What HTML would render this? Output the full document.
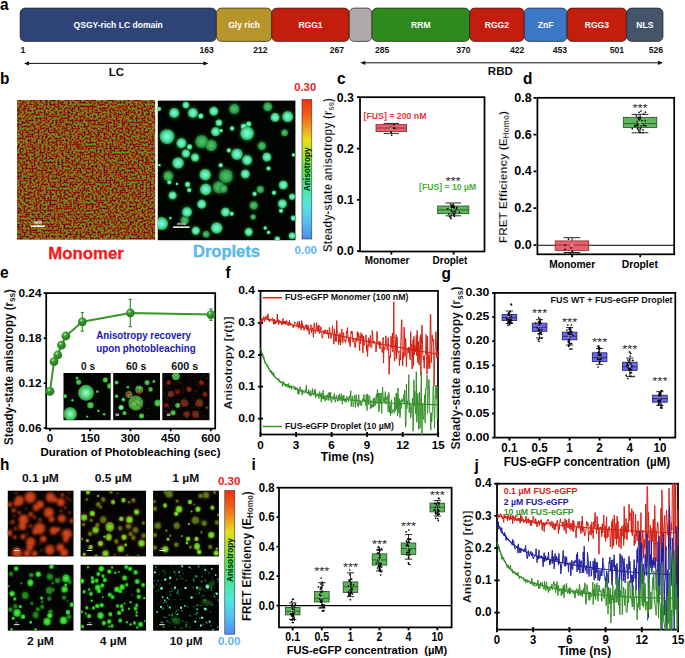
<!DOCTYPE html>
<html><head><meta charset="utf-8"><title>figure</title>
<style>html,body{margin:0;padding:0;background:#fff}svg{display:block}text{font-family:"Liberation Sans",sans-serif}</style>
</head><body>
<svg width="685" height="658" viewBox="0 0 685 658">
<defs><filter id="mono" x="0" y="0" width="100%" height="100%" color-interpolation-filters="sRGB"><feTurbulence type="fractalNoise" baseFrequency="0.5" numOctaves="2" seed="5"/><feColorMatrix values="1 0 0 0 0 1 0 0 0 0 1 0 0 0 0 0 0 0 0 1"/><feComponentTransfer><feFuncR type="discrete" tableValues="0.3 0.3 0.32 0.36 0.42 0.5 0.56 0.6 0.58 0.48 0.36 0.3 0.26 0.22 0.2 0.2"/><feFuncG type="discrete" tableValues="0.02 0.02 0.03 0.03 0.04 0.05 0.06 0.12 0.34 0.54 0.62 0.6 0.54 0.48 0.42 0.4"/><feFuncB type="discrete" tableValues="0.03 0.03 0.03 0.03 0.04 0.05 0.05 0.06 0.08 0.1 0.1 0.1 0.1 0.1 0.1 0.1"/><feFuncA type="linear" slope="0" intercept="1"/></feComponentTransfer><feGaussianBlur stdDeviation="0.55"/></filter>
<filter id="bl1" x="-20%" y="-20%" width="140%" height="140%"><feGaussianBlur stdDeviation="0.9"/></filter>
<filter id="bl2" x="-20%" y="-20%" width="140%" height="140%"><feGaussianBlur stdDeviation="0.65"/></filter>
<linearGradient id="jet" x1="0" y1="0" x2="0" y2="1"><stop offset="0" stop-color="#F03010"/><stop offset="0.1" stop-color="#F05A14"/><stop offset="0.2" stop-color="#F09A1E"/><stop offset="0.29" stop-color="#E8DC1E"/><stop offset="0.39" stop-color="#A8E628"/><stop offset="0.5" stop-color="#5AE650"/><stop offset="0.62" stop-color="#46E696"/><stop offset="0.76" stop-color="#50E6E0"/><stop offset="0.88" stop-color="#58BEF0"/><stop offset="1" stop-color="#4C8CE8"/></linearGradient>
<radialGradient id="dg"><stop offset="0" stop-color="#80F8E0"/><stop offset="0.5" stop-color="#5CE8B8"/><stop offset="0.85" stop-color="#38BC68"/><stop offset="1" stop-color="#2A9A44"/></radialGradient>
<radialGradient id="dg2"><stop offset="0" stop-color="#4CC870"/><stop offset="0.6" stop-color="#36A850"/><stop offset="1" stop-color="#1E7A30"/></radialGradient>
<clipPath id="cpb2"><rect x="157.8" y="100.6" width="137.6" height="139.6"/></clipPath>
<clipPath id="cpb1"><rect x="17.1" y="100" width="138" height="139.4"/></clipPath>
<radialGradient id="sph" cx="0.38" cy="0.32" r="0.75"><stop offset="0" stop-color="#D8F4D0"/><stop offset="0.22" stop-color="#4CA842"/><stop offset="0.5" stop-color="#2E8C26"/><stop offset="1" stop-color="#247A20"/></radialGradient>
<radialGradient id="gg"><stop offset="0" stop-color="#A8F8D0"/><stop offset="0.45" stop-color="#62E090"/><stop offset="1" stop-color="#2C9A34"/></radialGradient>
<radialGradient id="g2"><stop offset="0" stop-color="#5FE060"/><stop offset="1" stop-color="#2E9A30"/></radialGradient>
<radialGradient id="g3"><stop offset="0" stop-color="#4A5A24"/><stop offset="1" stop-color="#3A2A14"/></radialGradient>
<clipPath id="cpe1"><rect x="63.5" y="373" width="47.2" height="47.2"/></clipPath>
<clipPath id="cpe2"><rect x="113.2" y="373" width="46.8" height="47.2"/></clipPath>
<clipPath id="cpe3"><rect x="162.3" y="373" width="47.2" height="47.2"/></clipPath>
<clipPath id="cpf"><rect x="260.0" y="290.4" width="178.9" height="144.9"/></clipPath>
<radialGradient id="hr"><stop offset="0" stop-color="#DC4A1C"/><stop offset="0.6" stop-color="#C23614"/><stop offset="1" stop-color="#7A1A08"/></radialGradient>
<radialGradient id="hy"><stop offset="0" stop-color="#74D428"/><stop offset="0.55" stop-color="#62B422"/><stop offset="1" stop-color="#7A4A14"/></radialGradient>
<radialGradient id="hy3"><stop offset="0" stop-color="#80D428"/><stop offset="0.6" stop-color="#5EA622"/><stop offset="1" stop-color="#4A4A12"/></radialGradient>
<radialGradient id="hg"><stop offset="0" stop-color="#48E838"/><stop offset="0.6" stop-color="#34C828"/><stop offset="1" stop-color="#1E8A1A"/></radialGradient>
<radialGradient id="hc"><stop offset="0" stop-color="#8CF0E0"/><stop offset="0.6" stop-color="#50C8A8"/><stop offset="1" stop-color="#2A8A50"/></radialGradient>
<filter id="bl3" x="-20%" y="-20%" width="140%" height="140%"><feGaussianBlur stdDeviation="0.75"/></filter>
<filter id="bl5" x="-20%" y="-20%" width="140%" height="140%"><feGaussianBlur stdDeviation="1.1"/></filter>
<filter id="bl4" x="-20%" y="-20%" width="140%" height="140%"><feGaussianBlur stdDeviation="0.45"/></filter>
<clipPath id="cph1"><rect x="7.8" y="490.7" width="65.7" height="65.7"/></clipPath>
<clipPath id="cph2"><rect x="80.6" y="490.7" width="65.4" height="65.7"/></clipPath>
<clipPath id="cph3"><rect x="153.1" y="490.7" width="65.8" height="65.7"/></clipPath>
<clipPath id="cph4"><rect x="7.8" y="564.8" width="65.7" height="65.8"/></clipPath>
<clipPath id="cph5"><rect x="80.6" y="564.8" width="65.4" height="65.8"/></clipPath>
<clipPath id="cph6"><rect x="153.1" y="564.8" width="65.8" height="65.9"/></clipPath>
<clipPath id="cpj"><rect x="496.5" y="483.2" width="182.4" height="147.2"/></clipPath></defs>
<rect width="685" height="658" fill="#fff"/>
<text x="0.0" y="9.5" font-size="17.2" textLength="8.6" lengthAdjust="spacingAndGlyphs" font-weight="bold">a</text>
<text x="0.0" y="84.0" font-size="17.2" textLength="9.4" lengthAdjust="spacingAndGlyphs" font-weight="bold">b</text>
<text x="337.0" y="83.5" font-size="17.2" textLength="8.6" lengthAdjust="spacingAndGlyphs" font-weight="bold">c</text>
<text x="523.0" y="83.5" font-size="17.2" textLength="9.4" lengthAdjust="spacingAndGlyphs" font-weight="bold">d</text>
<text x="0.0" y="277.8" font-size="17.2" textLength="8.6" lengthAdjust="spacingAndGlyphs" font-weight="bold">e</text>
<text x="225.5" y="278.4" font-size="17.2" textLength="5.1" lengthAdjust="spacingAndGlyphs" font-weight="bold">f</text>
<text x="441.6" y="278.6" font-size="17.2" textLength="9.4" lengthAdjust="spacingAndGlyphs" font-weight="bold">g</text>
<text x="0.0" y="470.4" font-size="17.2" textLength="9.4" lengthAdjust="spacingAndGlyphs" font-weight="bold">h</text>
<text x="251.6" y="470.4" font-size="17.2" textLength="4.3" lengthAdjust="spacingAndGlyphs" font-weight="bold">i</text>
<text x="474.6" y="471.2" font-size="17.2" textLength="4.3" lengthAdjust="spacingAndGlyphs" font-weight="bold">j</text>
<rect x="20.1" y="8.1" width="196.3" height="33.3" rx="5" fill="#2E4477" stroke="#222" stroke-width="0.7"/>
<text x="118.2" y="28.1" font-size="9.2" text-anchor="middle" textLength="89.3" lengthAdjust="spacingAndGlyphs" font-weight="bold" fill="#fff">QSGY-rich LC domain</text>
<rect x="216.4" y="8.1" width="55.3" height="33.3" rx="5" fill="#B7952B" stroke="#222" stroke-width="0.7"/>
<text x="244.1" y="28.1" font-size="9.2" text-anchor="middle" textLength="31.8" lengthAdjust="spacingAndGlyphs" font-weight="bold" fill="#fff">Gly rich</text>
<rect x="271.7" y="8.1" width="77.6" height="33.3" rx="5" fill="#C31D0D" stroke="#222" stroke-width="0.7"/>
<text x="310.5" y="28.1" font-size="9.2" text-anchor="middle" textLength="24.2" lengthAdjust="spacingAndGlyphs" font-weight="bold" fill="#fff">RGG1</text>
<rect x="349.3" y="8.1" width="22.7" height="33.3" rx="5" fill="#AEAAAA" stroke="#222" stroke-width="0.7"/>
<rect x="372.0" y="8.1" width="97.6" height="33.3" rx="5" fill="#2E8A1C" stroke="#222" stroke-width="0.7"/>
<text x="420.8" y="28.1" font-size="9.2" text-anchor="middle" textLength="19.5" lengthAdjust="spacingAndGlyphs" font-weight="bold" fill="#fff">RRM</text>
<rect x="469.6" y="8.1" width="54.7" height="33.3" rx="5" fill="#C31D0D" stroke="#222" stroke-width="0.7"/>
<text x="496.9" y="28.1" font-size="9.2" text-anchor="middle" textLength="24.2" lengthAdjust="spacingAndGlyphs" font-weight="bold" fill="#fff">RGG2</text>
<rect x="524.3" y="8.1" width="42.7" height="33.3" rx="5" fill="#3C78C6" stroke="#222" stroke-width="0.7"/>
<text x="545.6" y="28.1" font-size="9.2" text-anchor="middle" textLength="15.7" lengthAdjust="spacingAndGlyphs" font-weight="bold" fill="#fff">ZnF</text>
<rect x="567.0" y="8.1" width="59.7" height="33.3" rx="5" fill="#C31D0D" stroke="#222" stroke-width="0.7"/>
<text x="596.9" y="28.1" font-size="9.2" text-anchor="middle" textLength="24.2" lengthAdjust="spacingAndGlyphs" font-weight="bold" fill="#fff">RGG3</text>
<rect x="626.7" y="8.1" width="36.3" height="33.3" rx="5" fill="#44546A" stroke="#222" stroke-width="0.7"/>
<text x="644.9" y="28.1" font-size="9.2" text-anchor="middle" textLength="17.1" lengthAdjust="spacingAndGlyphs" font-weight="bold" fill="#fff">NLS</text>
<text x="23.0" y="53.3" font-size="8.9" text-anchor="middle" textLength="4.8" lengthAdjust="spacingAndGlyphs" font-weight="bold" fill="#111">1</text>
<text x="206.7" y="53.3" font-size="8.9" text-anchor="middle" textLength="14.3" lengthAdjust="spacingAndGlyphs" font-weight="bold" fill="#111">163</text>
<text x="260.3" y="53.3" font-size="8.9" text-anchor="middle" textLength="14.3" lengthAdjust="spacingAndGlyphs" font-weight="bold" fill="#111">212</text>
<text x="337.0" y="53.3" font-size="8.9" text-anchor="middle" textLength="14.3" lengthAdjust="spacingAndGlyphs" font-weight="bold" fill="#111">267</text>
<text x="382.2" y="53.3" font-size="8.9" text-anchor="middle" textLength="14.3" lengthAdjust="spacingAndGlyphs" font-weight="bold" fill="#111">285</text>
<text x="463.3" y="53.3" font-size="8.9" text-anchor="middle" textLength="14.3" lengthAdjust="spacingAndGlyphs" font-weight="bold" fill="#111">370</text>
<text x="517.2" y="53.3" font-size="8.9" text-anchor="middle" textLength="14.3" lengthAdjust="spacingAndGlyphs" font-weight="bold" fill="#111">422</text>
<text x="560.0" y="53.3" font-size="8.9" text-anchor="middle" textLength="14.3" lengthAdjust="spacingAndGlyphs" font-weight="bold" fill="#111">453</text>
<text x="616.8" y="53.3" font-size="8.9" text-anchor="middle" textLength="14.3" lengthAdjust="spacingAndGlyphs" font-weight="bold" fill="#111">501</text>
<text x="655.8" y="53.3" font-size="8.9" text-anchor="middle" textLength="14.3" lengthAdjust="spacingAndGlyphs" font-weight="bold" fill="#111">526</text>
<path d="M27.0 63.4H205.4" stroke="#111" stroke-width="1" fill="none"/>
<path d="M24.0 63.4l5 -2.1v4.2z M208.4 63.4l-5 -2.1v4.2z" fill="#111"/>
<path d="M363.3 62.8H660.0" stroke="#111" stroke-width="1" fill="none"/>
<path d="M360.3 62.8l5 -2.1v4.2z M663.0 62.8l-5 -2.1v4.2z" fill="#111"/>
<text x="116.3" y="75.6" font-size="11.5" text-anchor="middle" font-weight="bold" fill="#111">LC</text>
<text x="500.3" y="75.4" font-size="11.5" text-anchor="middle" font-weight="bold" fill="#111">RBD</text>
<rect x="17.1" y="100" width="138" height="139.4" fill="#7a5a18"/>
<g clip-path="url(#cpb1)"><rect x="14" y="97" width="144" height="145" filter="url(#mono)"/></g>
<rect x="31" y="225.4" width="13.8" height="1.6" fill="#fff"/>
<rect x="34" y="221.2" width="8" height="2.6" fill="#e8d8c0" opacity="0.8"/>
<text x="86.0" y="258.8" font-size="16.6" text-anchor="middle" textLength="75.6" lengthAdjust="spacingAndGlyphs" font-weight="bold" fill="#F41C1C" stroke="#F41C1C" stroke-width="0.35">Monomer</text>
<rect x="157.8" y="100.6" width="137.6" height="139.6" fill="#020402"/>
<g clip-path="url(#cpb2)">
<path d="M168.1 113.0a6.1 6.1 0 1 0 12.1 0a6.1 6.1 0 1 0 -12.1 0M186.8 113.0a6.1 6.1 0 1 0 12.1 0a6.1 6.1 0 1 0 -12.1 0M181.7 105.1a4.1 4.1 0 1 0 8.3 0a4.1 4.1 0 1 0 -8.3 0M197.5 116.1a3.3 3.3 0 1 0 6.6 0a3.3 3.3 0 1 0 -6.6 0M208.3 111.2a5.5 5.5 0 1 0 11.0 0a5.5 5.5 0 1 0 -11.0 0M214.8 122.7a4.1 4.1 0 1 0 8.3 0a4.1 4.1 0 1 0 -8.3 0M228.3 109.0a6.1 6.1 0 1 0 12.1 0a6.1 6.1 0 1 0 -12.1 0M262.3 106.8a5.5 5.5 0 1 0 11.0 0a5.5 5.5 0 1 0 -11.0 0M269.6 117.4a5.5 5.5 0 1 0 11.0 0a5.5 5.5 0 1 0 -11.0 0M281.0 116.7a6.6 6.6 0 1 0 13.2 0a6.6 6.6 0 1 0 -13.2 0M239.9 126.6a3.9 3.9 0 1 0 7.7 0a3.9 3.9 0 1 0 -7.7 0M245.3 124.0a3.3 3.3 0 1 0 6.6 0a3.3 3.3 0 1 0 -6.6 0M156.2 109.0a2.8 2.8 0 1 0 5.5 0a2.8 2.8 0 1 0 -5.5 0M158.3 136.6a8.8 8.8 0 1 0 17.6 0a8.8 8.8 0 1 0 -17.6 0M210.1 131.7a5.5 5.5 0 1 0 11.0 0a5.5 5.5 0 1 0 -11.0 0M218.9 130.6a2.2 2.2 0 1 0 4.4 0a2.2 2.2 0 1 0 -4.4 0M238.8 133.3a8.3 8.3 0 1 0 16.5 0a8.3 8.3 0 1 0 -16.5 0M229.4 128.4a2.8 2.8 0 1 0 5.5 0a2.8 2.8 0 1 0 -5.5 0M175.4 143.2a6.1 6.1 0 1 0 12.1 0a6.1 6.1 0 1 0 -12.1 0M194.0 141.6a7.7 7.7 0 1 0 15.4 0a7.7 7.7 0 1 0 -15.4 0M204.3 145.4a6.9 6.9 0 1 0 13.8 0a6.9 6.9 0 1 0 -13.8 0M186.3 146.9a3.3 3.3 0 1 0 6.6 0a3.3 3.3 0 1 0 -6.6 0M180.9 153.5a5.0 5.0 0 1 0 9.9 0a5.0 5.0 0 1 0 -9.9 0M256.9 146.0a5.0 5.0 0 1 0 9.9 0a5.0 5.0 0 1 0 -9.9 0M280.4 132.8a4.1 4.1 0 1 0 8.3 0a4.1 4.1 0 1 0 -8.3 0M226.1 150.4a2.8 2.8 0 1 0 5.5 0a2.8 2.8 0 1 0 -5.5 0M190.1 157.5a5.0 5.0 0 1 0 9.9 0a5.0 5.0 0 1 0 -9.9 0M230.1 154.2a6.9 6.9 0 1 0 13.8 0a6.9 6.9 0 1 0 -13.8 0M241.1 160.1a6.1 6.1 0 1 0 12.1 0a6.1 6.1 0 1 0 -12.1 0M261.4 157.1a5.5 5.5 0 1 0 11.0 0a5.5 5.5 0 1 0 -11.0 0M171.3 163.0a6.9 6.9 0 1 0 13.8 0a6.9 6.9 0 1 0 -13.8 0M291.2 154.9a2.2 2.2 0 1 0 4.4 0a2.2 2.2 0 1 0 -4.4 0M217.9 165.2a2.8 2.8 0 1 0 5.5 0a2.8 2.8 0 1 0 -5.5 0M265.7 168.5a2.8 2.8 0 1 0 5.5 0a2.8 2.8 0 1 0 -5.5 0M162.2 176.2a6.1 6.1 0 1 0 12.1 0a6.1 6.1 0 1 0 -12.1 0M166.6 182.2a2.8 2.8 0 1 0 5.5 0a2.8 2.8 0 1 0 -5.5 0M198.4 174.7a6.9 6.9 0 1 0 13.8 0a6.9 6.9 0 1 0 -13.8 0M217.7 176.2a8.3 8.3 0 1 0 16.5 0a8.3 8.3 0 1 0 -16.5 0M239.8 174.0a5.5 5.5 0 1 0 11.0 0a5.5 5.5 0 1 0 -11.0 0M157.8 165.2a1.7 1.7 0 1 0 3.3 0a1.7 1.7 0 1 0 -3.3 0M184.3 184.4a3.3 3.3 0 1 0 6.6 0a3.3 3.3 0 1 0 -6.6 0M186.4 190.1a2.8 2.8 0 1 0 5.5 0a2.8 2.8 0 1 0 -5.5 0M198.8 189.4a6.9 6.9 0 1 0 13.8 0a6.9 6.9 0 1 0 -13.8 0M211.7 187.2a7.2 7.2 0 1 0 14.3 0a7.2 7.2 0 1 0 -14.3 0M218.4 188.8a5.0 5.0 0 1 0 9.9 0a5.0 5.0 0 1 0 -9.9 0M277.7 185.0a5.5 5.5 0 1 0 11.0 0a5.5 5.5 0 1 0 -11.0 0M255.9 189.4a4.4 4.4 0 1 0 8.8 0a4.4 4.4 0 1 0 -8.8 0M167.7 195.4a5.0 5.0 0 1 0 9.9 0a5.0 5.0 0 1 0 -9.9 0M251.8 193.9a2.8 2.8 0 1 0 5.5 0a2.8 2.8 0 1 0 -5.5 0M271.2 192.8a2.8 2.8 0 1 0 5.5 0a2.8 2.8 0 1 0 -5.5 0M288.2 196.7a3.9 3.9 0 1 0 7.7 0a3.9 3.9 0 1 0 -7.7 0M175.4 183.9a1.7 1.7 0 1 0 3.3 0a1.7 1.7 0 1 0 -3.3 0M196.2 204.2a5.5 5.5 0 1 0 11.0 0a5.5 5.5 0 1 0 -11.0 0M276.9 203.8a5.5 5.5 0 1 0 11.0 0a5.5 5.5 0 1 0 -11.0 0M248.8 205.5a5.0 5.0 0 1 0 9.9 0a5.0 5.0 0 1 0 -9.9 0M180.9 212.1a6.1 6.1 0 1 0 12.1 0a6.1 6.1 0 1 0 -12.1 0M220.0 212.1a5.5 5.5 0 1 0 11.0 0a5.5 5.5 0 1 0 -11.0 0M228.9 213.7a2.8 2.8 0 1 0 5.5 0a2.8 2.8 0 1 0 -5.5 0M278.3 210.8a2.8 2.8 0 1 0 5.5 0a2.8 2.8 0 1 0 -5.5 0M249.8 217.0a3.3 3.3 0 1 0 6.6 0a3.3 3.3 0 1 0 -6.6 0M153.9 223.6a7.7 7.7 0 1 0 15.4 0a7.7 7.7 0 1 0 -15.4 0M179.8 220.3a5.0 5.0 0 1 0 9.9 0a5.0 5.0 0 1 0 -9.9 0M290.1 218.1a3.3 3.3 0 1 0 6.6 0a3.3 3.3 0 1 0 -6.6 0M209.8 228.0a6.9 6.9 0 1 0 13.8 0a6.9 6.9 0 1 0 -13.8 0M190.8 230.7a5.0 5.0 0 1 0 9.9 0a5.0 5.0 0 1 0 -9.9 0M243.7 232.0a5.0 5.0 0 1 0 9.9 0a5.0 5.0 0 1 0 -9.9 0M202.0 234.2a4.1 4.1 0 1 0 8.3 0a4.1 4.1 0 1 0 -8.3 0M263.0 228.0a2.2 2.2 0 1 0 4.4 0a2.2 2.2 0 1 0 -4.4 0M266.3 232.4a2.2 2.2 0 1 0 4.4 0a2.2 2.2 0 1 0 -4.4 0M287.9 235.7a4.1 4.1 0 1 0 8.3 0a4.1 4.1 0 1 0 -8.3 0M274.0 239.0a3.3 3.3 0 1 0 6.6 0a3.3 3.3 0 1 0 -6.6 0M168.8 218.1a1.7 1.7 0 1 0 3.3 0a1.7 1.7 0 1 0 -3.3 0" fill="#1A6A2A" opacity="0.5" filter="url(#bl5)"/>
<g filter="url(#bl2)">
<circle cx="174.2" cy="113.0" r="5.1" fill="url(#dg)"/>
<circle cx="192.9" cy="113.0" r="5.1" fill="url(#dg)"/>
<circle cx="185.9" cy="105.1" r="3.5" fill="url(#dg)"/>
<circle cx="200.8" cy="116.1" r="2.8" fill="url(#dg)"/>
<circle cx="213.8" cy="111.2" r="4.6" fill="url(#dg)"/>
<circle cx="218.9" cy="122.7" r="3.5" fill="url(#dg)"/>
<circle cx="234.3" cy="109.0" r="5.1" fill="url(#dg2)"/>
<circle cx="267.8" cy="106.8" r="4.6" fill="url(#dg2)"/>
<circle cx="275.1" cy="117.4" r="4.6" fill="url(#dg)"/>
<circle cx="287.7" cy="116.7" r="5.6" fill="url(#dg)"/>
<circle cx="243.8" cy="126.6" r="3.2" fill="url(#dg)"/>
<circle cx="248.7" cy="124.0" r="2.8" fill="url(#dg)"/>
<circle cx="159.0" cy="109.0" r="2.3" fill="url(#dg)"/>
<circle cx="167.1" cy="136.6" r="7.4" fill="url(#dg)"/>
<circle cx="215.6" cy="131.7" r="4.6" fill="url(#dg)"/>
<circle cx="221.1" cy="130.6" r="1.9" fill="url(#dg)"/>
<circle cx="247.1" cy="133.3" r="6.9" fill="url(#dg)"/>
<circle cx="232.1" cy="128.4" r="2.3" fill="url(#dg)"/>
<circle cx="181.4" cy="143.2" r="5.1" fill="url(#dg)"/>
<circle cx="201.7" cy="141.6" r="6.5" fill="url(#dg2)"/>
<circle cx="211.2" cy="145.4" r="5.8" fill="url(#dg2)"/>
<circle cx="189.6" cy="146.9" r="2.8" fill="url(#dg)"/>
<circle cx="185.9" cy="153.5" r="4.2" fill="url(#dg)"/>
<circle cx="261.9" cy="146.0" r="4.2" fill="url(#dg2)"/>
<circle cx="284.6" cy="132.8" r="3.5" fill="url(#dg2)"/>
<circle cx="228.8" cy="150.4" r="2.3" fill="url(#dg)"/>
<circle cx="195.1" cy="157.5" r="4.2" fill="url(#dg)"/>
<circle cx="237.0" cy="154.2" r="5.8" fill="url(#dg)"/>
<circle cx="247.1" cy="160.1" r="5.1" fill="url(#dg)"/>
<circle cx="266.9" cy="157.1" r="4.6" fill="url(#dg)"/>
<circle cx="178.1" cy="163.0" r="5.8" fill="url(#dg)"/>
<circle cx="293.4" cy="154.9" r="1.9" fill="url(#dg)"/>
<circle cx="220.7" cy="165.2" r="2.3" fill="url(#dg)"/>
<circle cx="268.5" cy="168.5" r="2.3" fill="url(#dg)"/>
<circle cx="168.2" cy="176.2" r="5.1" fill="url(#dg2)"/>
<circle cx="169.3" cy="182.2" r="2.3" fill="url(#dg)"/>
<circle cx="205.2" cy="174.7" r="5.8" fill="url(#dg)"/>
<circle cx="226.0" cy="176.2" r="6.9" fill="url(#dg2)"/>
<circle cx="245.3" cy="174.0" r="4.6" fill="url(#dg)"/>
<circle cx="159.4" cy="165.2" r="1.4" fill="url(#dg)"/>
<circle cx="187.6" cy="184.4" r="2.8" fill="url(#dg)"/>
<circle cx="189.2" cy="190.1" r="2.3" fill="url(#dg)"/>
<circle cx="205.7" cy="189.4" r="5.8" fill="url(#dg)"/>
<circle cx="218.9" cy="187.2" r="6.0" fill="url(#dg2)"/>
<circle cx="223.3" cy="188.8" r="4.2" fill="url(#dg2)"/>
<circle cx="283.3" cy="185.0" r="4.6" fill="url(#dg)"/>
<circle cx="260.3" cy="189.4" r="3.7" fill="url(#dg2)"/>
<circle cx="172.6" cy="195.4" r="4.2" fill="url(#dg)"/>
<circle cx="254.6" cy="193.9" r="2.3" fill="url(#dg)"/>
<circle cx="274.0" cy="192.8" r="2.3" fill="url(#dg)"/>
<circle cx="292.1" cy="196.7" r="3.2" fill="url(#dg)"/>
<circle cx="177.0" cy="183.9" r="1.4" fill="url(#dg)"/>
<circle cx="201.7" cy="204.2" r="4.6" fill="url(#dg)"/>
<circle cx="282.4" cy="203.8" r="4.6" fill="url(#dg)"/>
<circle cx="253.7" cy="205.5" r="4.2" fill="url(#dg2)"/>
<circle cx="187.0" cy="212.1" r="5.1" fill="url(#dg)"/>
<circle cx="225.5" cy="212.1" r="4.6" fill="url(#dg)"/>
<circle cx="231.7" cy="213.7" r="2.3" fill="url(#dg)"/>
<circle cx="281.0" cy="210.8" r="2.3" fill="url(#dg)"/>
<circle cx="253.1" cy="217.0" r="2.8" fill="url(#dg2)"/>
<circle cx="161.6" cy="223.6" r="6.5" fill="url(#dg)"/>
<circle cx="184.7" cy="220.3" r="4.2" fill="url(#dg2)"/>
<circle cx="293.4" cy="218.1" r="2.8" fill="url(#dg)"/>
<circle cx="216.7" cy="228.0" r="5.8" fill="url(#dg)"/>
<circle cx="195.8" cy="230.7" r="4.2" fill="url(#dg)"/>
<circle cx="248.7" cy="232.0" r="4.2" fill="url(#dg)"/>
<circle cx="206.1" cy="234.2" r="3.5" fill="url(#dg2)"/>
<circle cx="265.2" cy="228.0" r="1.9" fill="url(#dg)"/>
<circle cx="268.5" cy="232.4" r="1.9" fill="url(#dg)"/>
<circle cx="292.1" cy="235.7" r="3.5" fill="url(#dg)"/>
<circle cx="277.3" cy="239.0" r="2.8" fill="url(#dg)"/>
<circle cx="170.4" cy="218.1" r="1.4" fill="url(#dg)"/>
</g></g>
<rect x="173.1" y="226.4" width="16.5" height="1.5" fill="#fff"/>
<rect x="177" y="222.6" width="9" height="2.4" fill="#bbb" opacity="0.7"/>
<text x="226.5" y="257.0" font-size="16.6" text-anchor="middle" textLength="67.0" lengthAdjust="spacingAndGlyphs" font-weight="bold" fill="#5BB8EA" stroke="#5BB8EA" stroke-width="0.35">Droplets</text>
<rect x="302" y="99.4" width="9.8" height="139.6" fill="url(#jet)" stroke="#333" stroke-width="0.6"/>
<text x="305.2" y="91.0" font-size="11.6" text-anchor="middle" textLength="22.0" lengthAdjust="spacingAndGlyphs" font-weight="bold" fill="#F02020">0.30</text>
<text x="305.8" y="254.4" font-size="11.6" text-anchor="middle" textLength="22.4" lengthAdjust="spacingAndGlyphs" font-weight="bold" fill="#5BB8EA">0.00</text>
<text x="310.0" y="169.3" font-size="8.4" text-anchor="middle" textLength="44.0" lengthAdjust="spacingAndGlyphs" transform="rotate(-90 310.0 169.3)" font-weight="bold" fill="#062006">Anisotropy</text>
<rect x="360.0" y="97.2" width="124.5" height="154.3" fill="none" stroke="#000" stroke-width="1.75"/>
<text x="353.9" y="101.5" font-size="13.05" text-anchor="end" textLength="17.2" lengthAdjust="spacingAndGlyphs" font-weight="bold">0.3</text>
<text x="353.9" y="152.9" font-size="13.05" text-anchor="end" textLength="17.2" lengthAdjust="spacingAndGlyphs" font-weight="bold">0.2</text>
<text x="353.9" y="204.2" font-size="13.05" text-anchor="end" textLength="17.2" lengthAdjust="spacingAndGlyphs" font-weight="bold">0.1</text>
<text x="353.9" y="255.4" font-size="13.05" text-anchor="end" textLength="17.2" lengthAdjust="spacingAndGlyphs" font-weight="bold">0.0</text>
<path d="M357.0 97.2H360.0M357.0 148.6H360.0M357.0 199.9H360.0M357.0 251.1H360.0" stroke="#000" stroke-width="1.8" fill="none"/>
<path d="M391.4 251.5V254.4M453.7 251.5V254.4" stroke="#000" stroke-width="1.8" fill="none"/>
<text x="387.0" y="264.0" font-size="10" text-anchor="middle" textLength="44.6" lengthAdjust="spacingAndGlyphs" font-weight="bold">Monomer</text>
<text x="450.0" y="264.0" font-size="10" text-anchor="middle" textLength="34.8" lengthAdjust="spacingAndGlyphs" font-weight="bold">Droplet</text>
<path d="M391.3 123.4V133.4M383.6 123.4H399.0M383.6 133.4H399.0" stroke="#111" stroke-width="0.9" fill="none"/>
<rect x="376.0" y="124.5" width="30.6" height="7.1" fill="#E8616E" stroke="#8a2a30" stroke-width="0.8"/>
<path d="M376.0 128.0H406.6" stroke="#8a2a30" stroke-width="0.8"/>
<path d="M394.7 128.4h0M394.0 124.6h0M390.6 127.1h0M391.7 135.1h0M393.3 127.9h0M391.2 132.2h0" stroke="#000" stroke-width="1.7" stroke-linecap="round" fill="none"/>
<rect x="390.4" y="127.1" width="1.8" height="1.8" fill="none" stroke="#ddd" stroke-width="0.4"/>
<path d="M453.2 203.0V215.8M445.5 203.0H461.0M445.5 215.8H461.0" stroke="#111" stroke-width="0.9" fill="none"/>
<rect x="437.7" y="206.0" width="31.1" height="7.7" fill="#5DB85A" stroke="#234a22" stroke-width="0.8"/>
<path d="M437.7 209.9H468.8" stroke="#234a22" stroke-width="0.8"/>
<path d="M454.6 210.0h0M454.2 207.7h0M454.4 214.2h0M450.8 217.3h0M451.3 210.2h0M452.7 206.1h0M454.4 210.9h0M459.5 212.3h0M448.8 213.9h0M451.5 210.8h0M456.9 207.4h0M447.8 208.8h0M452.4 211.3h0M450.7 204.3h0M453.2 206.9h0M453.5 207.8h0M451.0 218.6h0M452.6 206.0h0M451.3 215.0h0M449.6 216.6h0M453.1 205.0h0M451.5 205.8h0M455.3 212.0h0M452.5 210.4h0M454.4 216.2h0M456.6 208.7h0M453.7 205.6h0M453.2 213.0h0M454.2 207.1h0M451.6 207.3h0" stroke="#000" stroke-width="1.7" stroke-linecap="round" fill="none"/>
<rect x="452.4" y="209.0" width="1.8" height="1.8" fill="none" stroke="#ddd" stroke-width="0.4"/>
<text x="363.5" y="119.2" font-size="8.6" textLength="63.0" lengthAdjust="spacingAndGlyphs" font-weight="bold" fill="#E23A40">[FUS] = 200 nM</text>
<text x="419.0" y="189.8" font-size="8.6" textLength="57.2" lengthAdjust="spacingAndGlyphs" font-weight="bold" fill="#4CAF3C">[FUS] = 10 µM</text>
<text x="453.0" y="184.5" font-size="11.61" text-anchor="middle" textLength="15.2" lengthAdjust="spacingAndGlyphs" fill="#222">***</text>
<rect x="537.4" y="97.8" width="136.8" height="156.5" fill="none" stroke="#000" stroke-width="1.75"/>
<text x="531.7" y="101.7" font-size="13.12" text-anchor="end" textLength="17.5" lengthAdjust="spacingAndGlyphs" font-weight="bold">0.8</text>
<text x="531.7" y="138.5" font-size="13.12" text-anchor="end" textLength="17.5" lengthAdjust="spacingAndGlyphs" font-weight="bold">0.6</text>
<text x="531.7" y="175.3" font-size="13.12" text-anchor="end" textLength="17.5" lengthAdjust="spacingAndGlyphs" font-weight="bold">0.4</text>
<text x="531.7" y="212.1" font-size="13.12" text-anchor="end" textLength="17.5" lengthAdjust="spacingAndGlyphs" font-weight="bold">0.2</text>
<text x="531.7" y="249.0" font-size="13.12" text-anchor="end" textLength="17.5" lengthAdjust="spacingAndGlyphs" font-weight="bold">0.0</text>
<path d="M533.5 97.8H536.5M533.5 134.6H536.5M533.5 171.4H536.5M533.5 208.2H536.5M533.5 245.1H536.5" stroke="#000" stroke-width="1.8" fill="none"/>
<path d="M572.0 254.3V257.2M640.2 254.3V257.2" stroke="#000" stroke-width="1.8" fill="none"/>
<text x="572.2" y="267.5" font-size="10.4" text-anchor="middle" textLength="46.0" lengthAdjust="spacingAndGlyphs" font-weight="bold">Monomer</text>
<text x="639.8" y="267.5" font-size="10.4" text-anchor="middle" textLength="36.2" lengthAdjust="spacingAndGlyphs" font-weight="bold">Droplet</text>
<path d="M537 245.3H674.2" stroke="#000" stroke-width="1.1"/>
<path d="M572.0 237.7V252.5M563.6 237.7H580.3M563.6 252.5H580.3" stroke="#111" stroke-width="0.9" fill="none"/>
<rect x="555.2" y="240.9" width="33.5" height="9.5" fill="#E8616E" stroke="#8a2a30" stroke-width="0.8"/>
<path d="M555.2 245.0H588.7" stroke="#8a2a30" stroke-width="0.8"/>
<path d="M568.5 239.2h0M565.0 249.3h0M565.1 244.9h0M572.6 251.7h0M570.4 253.1h0M571.1 247.8h0" stroke="#000" stroke-width="1.7" stroke-linecap="round" fill="none"/>
<rect x="571.1" y="244.1" width="1.8" height="1.8" fill="none" stroke="#ddd" stroke-width="0.4"/>
<path d="M640.0 114.4V132.8M631.7 114.4H648.4M631.7 132.8H648.4" stroke="#111" stroke-width="0.9" fill="none"/>
<rect x="623.3" y="117.3" width="33.5" height="10.1" fill="#5DB85A" stroke="#234a22" stroke-width="0.8"/>
<path d="M623.3 123.6H656.8" stroke="#234a22" stroke-width="0.8"/>
<path d="M634.7 125.8h0M640.3 117.1h0M640.1 132.4h0M641.0 111.0h0M643.7 114.2h0M645.4 120.6h0M637.0 121.5h0M639.0 112.3h0M643.6 125.4h0M637.8 124.2h0M635.7 125.8h0M637.8 125.8h0M643.0 132.5h0M637.0 124.8h0M641.2 126.1h0M638.2 118.6h0M638.8 131.0h0M644.2 125.4h0M645.4 112.2h0M638.1 129.3h0M636.4 115.9h0M632.3 128.7h0M640.6 128.7h0M638.5 117.7h0M639.4 119.8h0M637.5 128.4h0M643.0 129.8h0M641.9 120.6h0M640.2 118.7h0M645.9 125.8h0" stroke="#000" stroke-width="1.7" stroke-linecap="round" fill="none"/>
<rect x="639.1" y="122.7" width="1.8" height="1.8" fill="none" stroke="#ddd" stroke-width="0.4"/>
<text x="640.0" y="111.8" font-size="11.61" text-anchor="middle" textLength="15.2" lengthAdjust="spacingAndGlyphs" fill="#222">***</text>
<g transform="translate(331.8 175.0) rotate(-90) scale(0.9544 1)"><text x="-80.7" y="0" font-size="12" font-weight="bold" stroke="#fff" stroke-width="0.3">Steady-state anisotropy (r<tspan font-size="8.4" dy="2.4">ss</tspan><tspan dy="-2.4">)</tspan></text></g>
<g transform="translate(506.8 177.0) rotate(-90) scale(0.9982 1)"><text x="-66.1" y="0" font-size="11.8" font-weight="bold" stroke="#fff" stroke-width="0.3">FRET Efficiency (E<tspan font-size="8.3" dy="2.4">Homo</tspan><tspan dy="-2.4">)</tspan></text></g>
<rect x="46.2" y="293.1" width="169.0" height="135.5" fill="none" stroke="#000" stroke-width="1.75"/>
<text x="41.5" y="296.8" font-size="11.8" text-anchor="end" textLength="23.0" lengthAdjust="spacingAndGlyphs" font-weight="bold">0.24</text>
<text x="41.5" y="341.8" font-size="11.8" text-anchor="end" textLength="23.0" lengthAdjust="spacingAndGlyphs" font-weight="bold">0.18</text>
<text x="41.5" y="386.8" font-size="11.8" text-anchor="end" textLength="23.0" lengthAdjust="spacingAndGlyphs" font-weight="bold">0.12</text>
<text x="41.5" y="431.9" font-size="11.8" text-anchor="end" textLength="23.0" lengthAdjust="spacingAndGlyphs" font-weight="bold">0.06</text>
<path d="M43.7 293.1H46.2M43.7 338.1H46.2M43.7 383.1H46.2M43.7 428.2H46.2" stroke="#000" stroke-width="1.8" fill="none"/>
<text x="50.0" y="442.3" font-size="11.5" text-anchor="middle" textLength="6.4" lengthAdjust="spacingAndGlyphs" font-weight="bold">0</text>
<text x="90.2" y="442.3" font-size="11.5" text-anchor="middle" textLength="19.2" lengthAdjust="spacingAndGlyphs" font-weight="bold">150</text>
<text x="130.4" y="442.3" font-size="11.5" text-anchor="middle" textLength="19.2" lengthAdjust="spacingAndGlyphs" font-weight="bold">300</text>
<text x="170.6" y="442.3" font-size="11.5" text-anchor="middle" textLength="19.2" lengthAdjust="spacingAndGlyphs" font-weight="bold">450</text>
<text x="210.8" y="442.3" font-size="11.5" text-anchor="middle" textLength="19.2" lengthAdjust="spacingAndGlyphs" font-weight="bold">600</text>
<path d="M50.0 428.6V431.2M90.2 428.6V431.2M130.4 428.6V431.2M170.6 428.6V431.2M210.8 428.6V431.2" stroke="#000" stroke-width="1.8" fill="none"/>
<text x="130.5" y="455.8" font-size="11.5" text-anchor="middle" textLength="180.0" lengthAdjust="spacingAndGlyphs" font-weight="bold">Duration of Photobleaching (sec)</text>
<g transform="translate(12.6 367.0) rotate(-90) scale(0.9281 1)"><text x="-84.0" y="0" font-size="12.5" font-weight="bold" stroke="#fff" stroke-width="0.1">Steady-state anisotropy (r<tspan font-size="8.8" dy="2.5">ss</tspan><tspan dy="-2.5">)</tspan></text></g>
<path d="M50.0 391.4 L54.0 361.7 L57.8 355.0 L61.5 345.2 L65.9 336.0 L82.3 321.8 L130.3 313.0 L210.9 314.6" stroke="#3A962C" stroke-width="2" fill="none" stroke-linejoin="round"/>
<path d="M54.0 359.2V364.2M52.4 359.2h3.2M52.4 364.2h3.2M57.8 351.5V358.5M56.2 351.5h3.2M56.2 358.5h3.2M61.5 342.2V348.2M59.9 342.2h3.2M59.9 348.2h3.2M65.9 333.5V338.5M64.3 333.5h3.2M64.3 338.5h3.2M82.3 312.5V331.1M80.7 312.5h3.2M80.7 331.1h3.2M130.3 299.4V326.6M128.7 299.4h3.2M128.7 326.6h3.2M210.9 308.8V320.4M209.3 308.8h3.2M209.3 320.4h3.2" stroke="#3A962C" stroke-width="1.2" fill="none"/>
<circle cx="50.0" cy="391.4" r="4.4" fill="url(#sph)"/>
<circle cx="54.0" cy="361.7" r="4.4" fill="url(#sph)"/>
<circle cx="57.8" cy="355.0" r="4.4" fill="url(#sph)"/>
<circle cx="61.5" cy="345.2" r="4.4" fill="url(#sph)"/>
<circle cx="65.9" cy="336.0" r="4.4" fill="url(#sph)"/>
<circle cx="82.3" cy="321.8" r="4.4" fill="url(#sph)"/>
<circle cx="130.3" cy="313.0" r="4.4" fill="url(#sph)"/>
<circle cx="210.9" cy="314.6" r="4.4" fill="url(#sph)"/>
<text x="143.6" y="339.0" font-size="11" text-anchor="middle" textLength="94.8" lengthAdjust="spacingAndGlyphs" font-weight="bold" fill="#2018B8">Anisotropy recovery</text>
<text x="146.0" y="351.8" font-size="11" text-anchor="middle" textLength="99.6" lengthAdjust="spacingAndGlyphs" font-weight="bold" fill="#2018B8">upon photobleaching</text>
<text x="88.0" y="370.2" font-size="11" text-anchor="middle" textLength="14.0" lengthAdjust="spacingAndGlyphs" font-weight="bold" fill="#111">0 s</text>
<text x="136.2" y="370.2" font-size="11" text-anchor="middle" textLength="20.5" lengthAdjust="spacingAndGlyphs" font-weight="bold" fill="#111">60 s</text>
<text x="184.8" y="369.6" font-size="11" text-anchor="middle" textLength="27.0" lengthAdjust="spacingAndGlyphs" font-weight="bold" fill="#111">600 s</text>
<rect x="63.5" y="373" width="47.2" height="47.2" fill="#030503"/>
<g clip-path="url(#cpe1)"><g filter="url(#bl2)">
<circle cx="86.0" cy="392.8" r="8.0" fill="url(#gg)"/>
<circle cx="70.2" cy="413.9" r="6.8" fill="url(#gg)"/>
<circle cx="78.6" cy="382.2" r="2.6" fill="url(#g2)"/>
<circle cx="105.3" cy="379.9" r="2.6" fill="url(#g2)"/>
<circle cx="110.2" cy="386.0" r="3.1" fill="url(#g2)"/>
<circle cx="90.5" cy="405.3" r="3.3" fill="url(#g2)"/>
<circle cx="65.0" cy="396.2" r="2.1" fill="url(#g2)"/>
<circle cx="97.3" cy="391.7" r="1.4" fill="url(#g2)"/>
<circle cx="104.1" cy="414.3" r="1.4" fill="url(#g2)"/>
<circle cx="72.4" cy="400.3" r="1.4" fill="url(#g2)"/>
<circle cx="98.5" cy="410.9" r="1.4" fill="url(#g2)"/>
<circle cx="77.0" cy="378.1" r="1.6" fill="url(#g2)"/>
<circle cx="87.2" cy="416.6" r="1.2" fill="url(#g2)"/>
</g>
</g>
<rect x="113.2" y="373" width="46.8" height="47.2" fill="#030503"/>
<g clip-path="url(#cpe2)"><g filter="url(#bl2)">
<circle cx="139.2" cy="389.4" r="4.0" fill="url(#g2)"/>
<circle cx="135.8" cy="403.0" r="7.5" fill="url(#g2)"/>
<circle cx="129.0" cy="394.4" r="3.5" fill="url(#g2)"/>
<circle cx="121.1" cy="407.5" r="2.8" fill="url(#gg)"/>
<circle cx="157.8" cy="403.0" r="3.5" fill="url(#g2)"/>
<circle cx="150.5" cy="389.4" r="2.4" fill="url(#g2)"/>
<circle cx="147.1" cy="382.6" r="2.6" fill="url(#g2)"/>
<circle cx="116.6" cy="396.2" r="1.9" fill="url(#g2)"/>
<circle cx="123.4" cy="399.6" r="2.1" fill="url(#g2)"/>
<circle cx="141.5" cy="415.9" r="2.6" fill="url(#g2)"/>
<circle cx="124.5" cy="413.2" r="2.1" fill="url(#g2)"/>
<circle cx="116.6" cy="382.6" r="2.1" fill="url(#g2)"/>
<circle cx="153.9" cy="381.5" r="1.6" fill="url(#g2)"/>
<circle cx="127.9" cy="387.2" r="1.4" fill="url(#g2)"/>
</g>
<path d="M157.6 375.7h0M135.3 397.5h0M129.1 394.9h0M137.4 389.5h0M137.0 390.6h0M136.7 415.5h0M130.2 417.0h0M133.0 414.7h0M135.9 404.0h0M131.7 402.7h0M130.1 396.7h0M147.6 415.8h0M150.2 389.7h0M158.2 380.6h0M146.7 394.8h0M138.8 393.9h0M138.1 389.9h0M129.6 407.3h0M137.7 391.8h0M130.3 392.2h0M138.1 394.6h0M127.2 393.7h0M138.7 393.0h0M128.5 393.9h0M147.2 415.8h0M130.6 395.7h0M129.4 396.9h0M129.9 395.5h0M157.4 375.9h0M148.7 375.7h0M134.9 401.3h0M114.4 407.4h0M141.3 393.9h0M128.4 392.8h0M136.6 404.0h0M127.4 392.7h0M141.3 392.1h0M147.8 415.6h0M153.6 406.3h0M140.5 406.1h0M114.3 410.2h0M137.5 409.9h0M141.1 394.1h0M131.2 394.0h0M134.2 400.0h0M140.3 406.1h0M131.5 393.3h0M140.0 392.1h0M128.7 393.1h0M129.0 393.3h0M140.2 406.7h0M141.6 403.7h0M131.2 402.4h0M127.4 395.9h0M123.0 411.0h0M134.5 402.2h0M126.7 393.1h0M137.7 393.4h0M141.8 386.7h0M130.6 373.9h0M138.2 404.8h0M151.8 411.3h0M127.8 394.5h0M136.9 403.0h0M131.1 395.5h0M127.4 396.0h0M138.3 392.4h0M132.9 400.4h0M135.4 402.0h0M135.0 398.3h0M140.4 393.2h0M138.7 389.0h0M140.1 390.2h0M137.3 390.3h0M130.8 393.4h0M117.7 389.8h0M120.1 392.7h0M140.6 400.0h0M115.0 419.0h0M127.9 392.4h0M128.8 395.4h0M158.5 393.0h0M135.1 399.6h0M134.8 406.2h0M139.7 389.3h0M138.6 388.9h0M129.8 396.2h0M139.1 394.4h0M126.4 394.9h0M129.7 394.0h0M147.2 398.2h0M127.1 396.1h0M127.8 397.7h0M135.0 381.4h0M141.7 390.7h0M137.4 401.6h0M149.1 382.4h0M127.4 393.5h0M132.4 400.1h0M130.1 396.4h0M148.8 389.5h0M138.2 404.6h0M126.8 394.6h0M140.7 390.2h0M141.9 389.4h0M157.1 420.1h0M129.6 391.9h0M129.0 403.0h0M140.9 403.3h0M130.4 398.4h0M139.9 394.2h0M130.9 403.5h0M116.8 411.9h0M130.5 393.9h0M129.5 393.7h0M136.8 390.0h0M128.0 393.3h0M137.1 390.8h0M140.5 407.0h0M139.6 393.5h0M140.3 393.5h0M139.8 400.9h0M138.7 392.6h0M135.9 396.8h0M136.7 399.8h0M142.8 391.9h0M129.2 414.5h0M136.7 405.6h0M148.0 408.4h0M157.0 408.6h0M126.8 402.4h0M138.4 393.7h0M138.3 392.0h0M127.9 390.9h0M118.1 380.9h0M129.2 392.6h0M138.2 398.3h0M138.4 390.7h0M140.2 392.4h0M140.4 393.2h0M135.9 406.3h0M141.6 390.7h0M136.6 404.5h0M140.7 393.4h0M129.0 409.3h0M139.3 392.4h0M136.1 414.1h0M127.3 393.2h0M142.1 391.5h0M137.6 393.1h0M134.3 400.9h0M127.9 394.4h0M139.3 391.4h0M139.3 392.2h0M132.6 408.3h0M139.3 393.9h0M134.1 398.3h0M131.2 393.2h0M127.7 394.2h0M137.4 404.7h0" stroke="#A81616" stroke-width="0.8" stroke-linecap="round" fill="none" opacity="0.8"/>
</g>
<rect x="115.5" y="413.5" width="3.6" height="2.6" fill="#ccc" opacity="0.8"/>
<rect x="162.3" y="373" width="47.2" height="47.2" fill="#030503"/>
<g clip-path="url(#cpe3)"><g filter="url(#bl2)">
<circle cx="175.9" cy="376.3" r="4.0" fill="url(#g2)"/>
<circle cx="177.7" cy="405.3" r="2.6" fill="url(#g2)"/>
<circle cx="173.1" cy="412.7" r="2.6" fill="url(#g2)"/>
<circle cx="199.2" cy="403.0" r="4.0" fill="url(#g3)"/>
<circle cx="184.5" cy="403.0" r="3.8" fill="url(#g3)"/>
<circle cx="170.9" cy="393.9" r="3.1" fill="url(#g3)"/>
<circle cx="195.8" cy="414.3" r="3.5" fill="url(#g3)"/>
<circle cx="201.4" cy="382.6" r="2.1" fill="url(#g3)"/>
<circle cx="207.1" cy="407.5" r="1.6" fill="url(#g3)"/>
<circle cx="186.7" cy="414.3" r="3.1" fill="url(#g3)"/>
<circle cx="189.0" cy="389.4" r="2.4" fill="url(#g3)"/>
<circle cx="168.6" cy="382.6" r="1.9" fill="url(#g3)"/>
<circle cx="204.8" cy="393.9" r="1.9" fill="url(#g3)"/>
</g>
<path d="M206.3 395.5h0M178.0 391.8h0M174.5 384.1h0M184.5 412.5h0M167.1 404.4h0M204.6 394.1h0M169.8 418.2h0M200.2 401.0h0M188.4 386.9h0M175.2 392.6h0M166.9 379.4h0M164.7 406.0h0M205.7 392.5h0M186.8 388.1h0M201.8 399.6h0M170.3 392.1h0M175.6 390.7h0M177.6 392.6h0M167.0 405.2h0M181.7 380.1h0M189.4 389.0h0M196.8 405.3h0M198.9 382.5h0M186.8 404.9h0M208.2 386.8h0M201.7 402.7h0M172.5 392.7h0M203.2 395.3h0M181.6 400.3h0M187.5 387.7h0M182.9 385.2h0M188.9 414.5h0M196.8 405.3h0M165.3 404.2h0M185.3 413.2h0M179.7 392.5h0M174.2 394.5h0M187.4 415.6h0M202.1 385.5h0M167.2 411.4h0M194.6 379.2h0M166.7 404.2h0M188.5 388.7h0M186.0 412.9h0M207.6 376.8h0M197.7 412.6h0M188.4 403.8h0M178.3 393.0h0M192.6 411.1h0M168.7 395.1h0M184.2 402.9h0M175.5 393.1h0M195.3 403.6h0M202.8 394.8h0M172.8 408.2h0M193.6 397.5h0M189.1 412.3h0M208.1 378.7h0M202.1 401.0h0M204.6 415.5h0M197.7 403.2h0M194.3 411.9h0M178.4 392.3h0M187.8 411.3h0M196.7 417.0h0M170.4 410.4h0M200.3 411.9h0M165.1 404.6h0M174.0 402.2h0M195.4 403.6h0M199.3 402.1h0M170.7 382.3h0M203.9 394.0h0M187.7 387.8h0M198.3 414.1h0M198.6 400.4h0M173.1 394.6h0M203.4 395.3h0M191.0 390.1h0M177.2 417.9h0M199.3 406.1h0M185.1 401.2h0M201.6 402.0h0M199.6 385.4h0M187.7 401.7h0M187.3 390.8h0M185.7 413.9h0M197.1 403.3h0M205.4 394.3h0M170.8 374.1h0M168.0 412.8h0M199.5 381.6h0M175.4 391.5h0M185.4 402.6h0M178.0 392.4h0M192.8 394.4h0M189.0 391.5h0M188.6 418.6h0M198.2 413.9h0M168.7 395.2h0M204.5 393.1h0M172.1 396.0h0M206.5 393.4h0M168.7 408.5h0M204.4 394.9h0M200.3 380.6h0M176.5 391.0h0M198.7 406.8h0M176.7 392.9h0M169.1 419.8h0M178.2 393.7h0M193.1 374.3h0M165.7 417.7h0M203.9 375.2h0M204.4 403.6h0M165.6 383.3h0M196.0 412.9h0M167.7 403.6h0M198.1 405.6h0M186.0 404.4h0M164.0 394.4h0M188.7 414.4h0M170.2 383.5h0M167.3 383.7h0M202.9 383.4h0M205.4 393.6h0M180.0 409.5h0M176.2 404.9h0M203.3 384.1h0M176.8 391.5h0M188.4 415.0h0M169.1 391.6h0M188.8 412.6h0M205.7 395.0h0M176.4 392.4h0M168.3 383.5h0M171.0 391.4h0M188.2 415.3h0M173.2 394.6h0M204.0 395.0h0M205.0 393.4h0M186.3 405.5h0M178.1 389.4h0M192.9 413.0h0M169.8 393.2h0M194.3 413.9h0M200.5 383.6h0M183.3 392.2h0M177.2 415.8h0M170.5 382.4h0M164.6 405.4h0M202.1 405.3h0M168.6 393.6h0M205.3 395.9h0M207.0 378.3h0M167.0 404.7h0M191.7 375.4h0M193.1 414.2h0M185.3 417.1h0M173.6 395.5h0M163.9 376.8h0M209.4 382.7h0M192.7 415.6h0M185.1 400.5h0M195.6 391.5h0M181.9 402.4h0M203.1 382.9h0M169.5 384.6h0M188.0 412.5h0M189.0 389.6h0M188.2 416.1h0M198.7 414.7h0M167.1 405.4h0M169.4 384.5h0M184.3 415.9h0M190.8 389.9h0M204.0 384.4h0M197.3 416.9h0M181.4 401.0h0M169.2 380.5h0M204.6 396.0h0M186.4 415.0h0M184.3 402.9h0M187.3 403.3h0M193.7 411.3h0M167.8 384.0h0M167.6 405.5h0M190.2 390.2h0M167.7 391.4h0M166.6 403.8h0M203.1 391.2h0M179.3 381.7h0M183.0 394.0h0M186.6 415.7h0M179.6 390.5h0M164.3 381.1h0M201.1 377.3h0M167.3 405.9h0M192.6 414.5h0M183.5 415.3h0M186.9 414.3h0M183.3 404.9h0M166.8 407.1h0M206.5 379.8h0M167.6 386.6h0M203.2 393.8h0M177.4 414.7h0M184.4 402.4h0M181.4 400.8h0M202.9 383.5h0M165.0 404.1h0M203.4 389.3h0M168.8 381.4h0M183.2 390.9h0M195.6 403.8h0M187.8 417.1h0M194.7 390.2h0M165.5 397.5h0M197.7 405.4h0M194.3 417.3h0M198.5 411.6h0M205.7 392.8h0M179.5 391.1h0M181.5 420.1h0M176.1 417.1h0M186.0 403.3h0M198.6 402.3h0M201.0 382.7h0M195.7 412.2h0M202.8 381.7h0M168.8 380.7h0M208.5 414.4h0M167.9 395.3h0M205.2 396.1h0M195.2 403.9h0M176.3 384.5h0M162.8 379.2h0M207.0 394.2h0M167.3 384.4h0M205.8 394.2h0M191.0 388.0h0M182.5 403.6h0M167.6 383.2h0M191.6 390.0h0M177.7 392.7h0M199.6 397.0h0M188.3 386.2h0M198.1 403.1h0M184.0 397.6h0M202.9 419.1h0M185.3 414.1h0M167.7 406.8h0M185.0 414.9h0M202.4 382.4h0M206.4 394.3h0M170.2 381.9h0M176.9 391.1h0M203.1 383.9h0M202.9 394.1h0M183.4 387.7h0M164.8 406.6h0M201.5 383.1h0M176.5 392.6h0M199.4 383.9h0M195.5 411.1h0M167.3 403.7h0M162.6 386.3h0M165.6 385.6h0M201.0 384.4h0M169.5 382.4h0M170.7 419.9h0M167.8 405.3h0M166.8 406.1h0M203.6 375.3h0M187.5 391.0h0M189.2 389.8h0M185.4 404.1h0M178.7 392.2h0M209.4 419.3h0M183.6 413.4h0M183.8 414.8h0M167.2 382.0h0M169.5 383.9h0M177.0 393.9h0M203.7 382.1h0M201.9 381.9h0M195.8 405.2h0M200.0 404.3h0M176.9 389.9h0M166.7 398.5h0M169.5 393.1h0M176.6 392.8h0M178.0 389.4h0M186.0 417.6h0M182.9 401.8h0M196.7 384.7h0M199.8 383.1h0M173.3 393.7h0M179.3 392.2h0M177.8 391.0h0M180.4 419.3h0M198.3 415.2h0M188.6 387.8h0M203.8 395.0h0M194.6 377.9h0M187.1 416.3h0M172.1 392.9h0M198.6 414.8h0M187.5 407.8h0M201.8 416.1h0M165.0 404.4h0M172.9 379.6h0M205.6 395.9h0M181.2 404.5h0M169.1 381.8h0M189.6 391.5h0M166.0 406.4h0M188.0 404.5h0M187.0 414.4h0M188.4 388.8h0M164.9 406.1h0M171.8 391.5h0M164.2 405.0h0M194.8 413.8h0M169.6 380.7h0M189.5 414.0h0M193.8 413.3h0M175.6 391.3h0M179.1 389.9h0M198.5 399.1h0M169.3 381.9h0M206.6 378.7h0M181.0 383.0h0M198.2 404.9h0M194.4 407.4h0M185.6 415.2h0M203.7 383.4h0M196.3 416.8h0M194.0 414.5h0M179.5 384.0h0M203.5 395.0h0M165.9 406.6h0M205.8 392.7h0M199.8 382.4h0M190.1 387.0h0M176.5 391.8h0M187.6 413.3h0M183.6 413.8h0M206.1 395.7h0M195.8 401.1h0M183.3 399.2h0M179.7 390.1h0M190.2 387.4h0M196.3 404.5h0M182.3 390.5h0M200.8 380.9h0M183.7 404.5h0M185.2 398.5h0M187.4 388.9h0M176.5 391.8h0M172.7 395.7h0M190.3 388.0h0M181.1 403.4h0M203.2 384.3h0M190.0 390.7h0M199.8 381.9h0M195.8 416.3h0M187.6 413.7h0M184.9 405.7h0M177.7 409.0h0M164.1 405.4h0M168.6 381.0h0M190.8 389.2h0M200.1 381.8h0M170.8 394.0h0M168.5 407.4h0M166.0 405.6h0M187.1 415.6h0M197.2 395.9h0M172.3 395.3h0M196.8 385.2h0M185.6 402.0h0M182.4 400.9h0M206.6 393.9h0M202.4 404.5h0M202.2 403.6h0M189.2 416.1h0M203.1 394.6h0M194.0 415.0h0M196.1 416.8h0M187.9 414.2h0M195.6 414.9h0M187.1 416.6h0M166.5 403.5h0M193.3 414.0h0M185.7 405.5h0M203.1 381.8h0M167.4 382.5h0M193.2 417.2h0M170.5 383.5h0M189.4 389.5h0M198.1 399.1h0M164.6 404.9h0M166.6 382.7h0M176.9 399.6h0M168.5 405.9h0M185.8 405.1h0M205.4 394.6h0M176.5 413.3h0M170.3 383.4h0M182.2 406.6h0M187.5 390.1h0M177.5 395.7h0M168.6 381.6h0M201.3 380.2h0M195.2 411.4h0M179.3 392.2h0M187.9 415.1h0M200.0 383.3h0M188.5 389.6h0M187.5 391.2h0M198.1 417.1h0M163.8 392.5h0M190.8 391.9h0M203.3 393.9h0M190.9 390.1h0M200.6 406.8h0M196.0 419.2h0M205.5 393.5h0M200.6 382.4h0M172.4 396.3h0M168.0 384.0h0M174.3 373.9h0M177.3 391.2h0M175.6 377.0h0M173.8 383.5h0M173.1 415.5h0M201.8 380.4h0M191.2 389.4h0M173.6 379.9h0M178.9 392.3h0M170.0 395.3h0M165.6 405.0h0M196.5 402.4h0M205.5 396.0h0M167.6 406.0h0M196.1 410.5h0M173.5 408.3h0M188.2 403.6h0M171.0 394.7h0M191.0 376.2h0M188.5 373.9h0M169.6 382.6h0M168.7 396.2h0M205.3 395.4h0M186.3 411.1h0M175.8 391.7h0M202.4 384.9h0M172.3 396.6h0M184.3 403.2h0M189.1 412.0h0M190.1 391.3h0M186.6 411.3h0M194.2 414.3h0M187.2 405.2h0M196.8 412.5h0M199.5 402.1h0M180.5 402.7h0M168.6 380.8h0M195.3 373.7h0M204.7 393.7h0M182.8 406.1h0M203.0 393.7h0M202.3 381.6h0M169.0 393.4h0M173.7 415.8h0M200.3 384.5h0M176.3 376.5h0M196.7 401.0h0M203.9 394.4h0M189.6 414.4h0M197.5 400.6h0M177.6 394.2h0M169.0 380.7h0M209.4 377.1h0M168.9 381.2h0M200.9 380.3h0M174.7 419.8h0M191.8 384.2h0M183.6 406.2h0M194.0 373.1h0M166.9 381.4h0M202.2 384.2h0M202.6 381.2h0M184.7 403.7h0M165.8 411.8h0M169.0 383.2h0M189.7 384.3h0M166.1 405.2h0M167.2 405.2h0M193.8 417.1h0M190.0 390.9h0M196.5 403.6h0M165.8 403.6h0M174.9 387.4h0M173.8 393.2h0M196.0 405.4h0M194.7 412.9h0M202.4 382.2h0M178.7 392.5h0M195.0 412.1h0M187.9 390.6h0M193.6 416.8h0M169.4 394.1h0M170.6 382.4h0M169.3 382.0h0M201.6 419.8h0M180.8 382.7h0M198.0 412.1h0M186.5 417.4h0M165.1 406.4h0M166.0 405.8h0M177.5 401.4h0M196.6 382.1h0M188.3 388.4h0M205.0 396.0h0M193.8 411.6h0M167.5 400.0h0M193.3 400.4h0M163.8 410.4h0M179.1 391.1h0M206.3 395.5h0M168.8 380.8h0M197.7 417.3h0M198.2 376.9h0M162.9 399.7h0M196.5 402.0h0M188.0 391.7h0M177.1 392.1h0M165.7 384.9h0M167.7 398.7h0M190.1 389.4h0M201.3 400.3h0M187.2 413.7h0M178.9 391.7h0M185.0 404.6h0M170.3 419.1h0M185.2 401.3h0M181.9 383.5h0M182.4 402.2h0M171.6 394.0h0M188.9 415.4h0M171.1 396.7h0M168.3 406.0h0M166.0 405.7h0M165.3 404.2h0M173.5 378.1h0M167.9 392.9h0M205.2 391.8h0M168.6 384.2h0M176.2 390.2h0M168.0 403.8h0M167.8 394.6h0M208.7 374.3h0M192.3 413.3h0M185.1 402.7h0M173.5 411.7h0M207.3 395.2h0M203.5 383.7h0M179.3 400.0h0M186.4 415.1h0M201.5 400.3h0M167.2 381.1h0M196.0 391.1h0M172.0 392.3h0M183.1 405.8h0M165.3 406.2h0M178.2 393.8h0M180.7 418.4h0M203.6 393.6h0M192.9 414.0h0M165.5 404.3h0M172.5 396.2h0M178.8 391.7h0M179.9 406.3h0M188.9 387.5h0M186.6 388.9h0M176.5 390.7h0M187.9 388.5h0M187.2 403.0h0M178.4 390.9h0M188.7 388.2h0M198.9 399.7h0M203.1 383.5h0M201.8 403.7h0M190.1 388.1h0M196.3 405.8h0M197.2 417.2h0M188.7 416.0h0M205.3 416.4h0M185.4 413.0h0M167.0 404.3h0M200.2 406.5h0M164.0 384.9h0M166.2 411.6h0M181.9 403.3h0M197.8 406.9h0M168.7 392.0h0M205.3 394.3h0M199.2 405.4h0M205.9 394.3h0M180.7 403.6h0M172.5 391.3h0M185.4 415.7h0M169.0 394.6h0M198.9 416.4h0M200.2 381.4h0M189.8 389.8h0M177.8 393.2h0M172.2 396.3h0M189.3 378.2h0M169.7 389.2h0M199.7 408.7h0M170.6 394.2h0M206.2 375.2h0M185.8 415.9h0M183.1 420.1h0M202.8 406.4h0M166.2 407.4h0M168.3 383.6h0M179.6 378.0h0M186.4 404.9h0M171.7 394.2h0M201.2 401.8h0M170.7 393.9h0M169.5 397.0h0M205.1 395.2h0M185.0 401.1h0M168.2 399.9h0M202.2 397.3h0M202.3 381.6h0M185.6 402.2h0M206.6 393.3h0M203.7 394.3h0M198.8 403.3h0M188.5 386.4h0M169.7 412.5h0M186.1 406.2h0M182.1 404.4h0M207.9 409.1h0M187.0 411.6h0M199.7 405.0h0M175.9 390.5h0M166.2 404.9h0M184.1 389.1h0M198.0 389.5h0M187.5 389.1h0M197.2 402.0h0M187.2 386.8h0M183.4 377.0h0M197.8 404.8h0M165.2 407.0h0M203.6 395.2h0M167.6 381.9h0M188.5 387.8h0M164.6 404.2h0M185.3 404.9h0M178.8 382.1h0M204.9 392.8h0M195.5 373.3h0M170.1 383.6h0M189.9 389.0h0M187.4 413.0h0M178.2 389.6h0M188.5 404.9h0M168.3 383.6h0M176.9 393.7h0M179.0 400.2h0M194.1 416.0h0M168.0 404.3h0M184.0 414.9h0M196.6 404.2h0M176.1 391.4h0M179.3 408.3h0M185.3 403.3h0M166.9 382.3h0M189.8 414.4h0M171.9 400.4h0M176.2 393.2h0M187.0 412.8h0M206.8 384.2h0M198.1 416.8h0M174.7 409.8h0M168.6 393.8h0M165.2 406.3h0M169.6 383.3h0M197.4 415.3h0M172.5 391.0h0M200.7 399.7h0M205.5 393.3h0" stroke="#A81616" stroke-width="0.8" stroke-linecap="round" fill="none" opacity="0.8"/>
</g>
<rect x="166.8" y="413.5" width="3.6" height="2.6" fill="#ccc" opacity="0.8"/>
<rect x="260.5" y="290.9" width="177.5" height="143.6" fill="none" stroke="#000" stroke-width="1.75"/>
<text x="254.9" y="294.0" font-size="11.43" text-anchor="end" textLength="16.7" lengthAdjust="spacingAndGlyphs" font-weight="bold">0.4</text>
<text x="254.9" y="325.9" font-size="11.43" text-anchor="end" textLength="16.7" lengthAdjust="spacingAndGlyphs" font-weight="bold">0.3</text>
<text x="254.9" y="357.9" font-size="11.43" text-anchor="end" textLength="16.7" lengthAdjust="spacingAndGlyphs" font-weight="bold">0.2</text>
<text x="254.9" y="389.8" font-size="11.43" text-anchor="end" textLength="16.7" lengthAdjust="spacingAndGlyphs" font-weight="bold">0.1</text>
<text x="254.9" y="421.7" font-size="11.43" text-anchor="end" textLength="16.7" lengthAdjust="spacingAndGlyphs" font-weight="bold">0.0</text>
<path d="M257.9 290.9H263.1M257.9 322.8H263.1M257.9 354.8H263.1M257.9 386.7H263.1M257.9 418.6H263.1" stroke="#000" stroke-width="1.8" fill="none"/>
<text x="260.5" y="448.6" font-size="11.6" text-anchor="middle" textLength="6.5" lengthAdjust="spacingAndGlyphs" font-weight="bold">0</text>
<text x="296.1" y="448.6" font-size="11.6" text-anchor="middle" textLength="6.5" lengthAdjust="spacingAndGlyphs" font-weight="bold">3</text>
<text x="331.6" y="448.6" font-size="11.6" text-anchor="middle" textLength="6.5" lengthAdjust="spacingAndGlyphs" font-weight="bold">6</text>
<text x="367.1" y="448.6" font-size="11.6" text-anchor="middle" textLength="6.5" lengthAdjust="spacingAndGlyphs" font-weight="bold">9</text>
<text x="402.7" y="448.6" font-size="11.6" text-anchor="middle" textLength="12.9" lengthAdjust="spacingAndGlyphs" font-weight="bold">12</text>
<text x="438.2" y="448.6" font-size="11.6" text-anchor="middle" textLength="12.9" lengthAdjust="spacingAndGlyphs" font-weight="bold">15</text>
<path d="M260.5 431.9V437.1M296.1 431.9V437.1M331.6 431.9V437.1M367.1 431.9V437.1M402.7 431.9V437.1M438.2 431.9V437.1" stroke="#000" stroke-width="1.8" fill="none"/>
<path d="M260.5 323.4L261.0 319.6L261.4 317.9L261.9 320.6L262.4 322.0L262.8 319.2L263.3 318.0L263.8 316.6L264.2 321.3L264.7 321.5L265.2 317.4L265.6 317.9L266.1 315.7L266.6 316.9L267.0 319.2L267.5 319.7L268.0 313.8L268.5 319.9L268.9 321.0L269.4 321.9L269.9 319.3L270.3 319.3L270.8 320.5L271.3 320.0L271.7 319.4L272.2 318.6L272.7 317.8L273.1 319.9L273.6 324.3L274.1 319.0L274.5 323.8L275.0 321.2L275.5 324.1L275.9 321.0L276.4 322.9L276.9 320.8L277.3 314.0L277.8 321.6L278.3 319.7L278.7 324.7L279.2 322.5L279.7 320.4L280.1 322.3L280.6 321.3L281.1 322.0L281.5 324.7L282.0 321.2L282.5 324.5L283.0 318.4L283.4 324.0L283.9 321.4L284.4 323.1L284.8 320.9L285.3 324.7L285.8 321.0L286.2 323.8L286.7 320.6L287.2 322.3L287.6 323.5L288.1 325.9L288.6 322.2L289.0 323.1L289.5 320.3L290.0 325.4L290.4 323.2L290.9 323.4L291.4 324.1L291.8 324.4L292.3 324.5L292.8 326.6L293.2 327.8L293.7 326.4L294.2 323.9L294.6 321.7L295.1 323.1L295.6 323.0L296.1 323.9L296.5 324.2L297.0 325.6L297.5 324.2L297.9 321.6L298.4 327.3L298.9 328.4L299.3 321.4L299.8 326.1L300.3 324.2L300.7 324.6L301.2 330.2L301.7 320.5L302.1 322.4L302.6 326.9L303.1 325.4L303.5 327.3L304.0 330.3L304.5 328.2L304.9 326.9L305.4 324.9L305.9 326.2L306.3 328.1L306.8 324.5L307.3 330.8L307.7 326.3L308.2 325.4L308.7 329.7L309.1 334.3L309.6 331.8L310.1 328.5L310.6 327.7L311.0 324.7L311.5 332.6L312.0 329.6L312.4 327.7L312.9 330.3L313.4 337.3L313.8 327.5L314.3 322.8L314.8 327.0L315.2 333.3L315.7 331.8L316.2 329.8L316.6 322.6L317.1 328.7L317.6 330.5L318.0 325.8L318.5 331.3L319.0 325.0L319.4 333.6L319.9 333.0L320.4 329.0L320.8 326.7L321.3 329.5L321.8 330.8L322.2 338.2L322.7 334.5L323.2 334.3L323.6 334.1L324.1 330.2L324.6 333.6L325.1 329.7L325.5 332.3L326.0 333.9L326.5 332.4L326.9 331.4L327.4 329.9L327.9 334.9L328.3 334.1L328.8 338.5L329.3 327.4L329.7 328.0L330.2 334.3L330.7 335.6L331.1 338.6L331.6 333.3L332.1 333.3L332.5 325.6L333.0 333.3L333.5 337.5L333.9 344.2L334.4 328.9L334.9 333.9L335.3 341.3L335.8 334.1L336.3 341.6L336.7 320.6L337.2 330.5L337.7 332.9L338.1 336.1L338.6 344.6L339.1 336.1L339.6 342.3L340.0 333.2L340.5 345.2L341.0 339.9L341.4 330.7L341.9 328.9L342.4 341.5L342.8 343.2L343.3 332.5L343.8 332.7L344.2 341.2L344.7 339.9L345.2 340.1L345.6 342.5L346.1 340.2L346.6 331.2L347.0 334.0L347.5 327.5L348.0 337.8L348.4 338.2L348.9 342.4L349.4 338.3L349.8 344.3L350.3 346.7L350.8 334.5L351.2 330.9L351.7 334.0L352.2 331.5L352.6 337.1L353.1 342.2L353.6 338.1L354.1 340.6L354.5 344.6L355.0 347.8L355.5 346.9L355.9 339.1L356.4 338.3L356.9 341.8L357.3 331.5L357.8 338.5L358.3 336.3L358.7 332.8L359.2 344.3L359.7 350.9L360.1 335.6L360.6 343.9L361.1 332.6L361.5 338.2L362.0 334.4L362.5 335.9L362.9 352.8L363.4 336.3L363.9 344.7L364.3 345.3L364.8 343.5L365.3 336.3L365.7 335.6L366.2 334.9L366.7 351.5L367.1 345.0L367.6 356.4L368.1 342.1L368.6 337.8L369.0 346.6L369.5 340.2L370.0 340.4L370.4 335.4L370.9 347.5L371.4 347.6L371.8 347.3L372.3 330.5L372.8 335.0L373.2 343.3L373.7 341.0L374.2 341.9L374.6 341.4L375.1 344.3L375.6 345.3L376.0 352.0L376.5 347.7L377.0 331.4L377.4 339.4L377.9 342.9L378.4 345.1L378.8 343.1L379.3 341.0L379.8 348.6L380.2 342.4L380.7 342.1L381.2 349.8L381.7 350.2L382.1 352.0L382.6 352.6L383.1 337.4L383.5 363.1L384.0 346.7L384.5 349.6L384.9 349.7L385.4 344.0L385.9 335.7L386.3 344.4L386.8 346.3L387.3 350.3L387.7 346.4L388.2 337.6L388.7 348.8L389.1 374.3L389.6 356.5L390.1 355.3L390.5 358.0L391.0 336.2L391.5 342.8L391.9 348.2L392.4 333.0L392.9 352.2L393.3 339.5L393.8 301.7L394.3 360.8L394.7 361.1L395.2 355.4L395.7 338.2L396.2 334.5L396.6 358.7L397.1 336.9L397.6 350.8L398.0 351.0L398.5 352.7L399.0 350.6L399.4 365.6L399.9 357.6L400.4 360.1L400.8 342.7L401.3 326.4L401.8 319.7L402.2 351.4L402.7 366.0L403.2 352.4L403.6 358.2L404.1 327.1L404.6 342.2L405.0 356.3L405.5 338.3L406.0 342.7L406.4 366.7L406.9 354.7L407.4 351.6L407.8 348.7L408.3 347.5L408.8 353.0L409.2 347.0L409.7 356.1L410.2 359.8L410.7 331.6L411.1 345.3L411.6 344.4L412.1 368.9L412.5 351.8L413.0 339.9L413.5 365.8L413.9 336.5L414.4 355.0L414.9 345.1L415.3 352.0L415.8 347.6L416.3 335.0L416.7 355.7L417.2 330.3L417.7 360.9L418.1 363.0L418.6 341.4L419.1 365.1L419.5 356.0L420.0 338.8L420.5 334.7L420.9 375.6L421.4 344.3L421.9 325.2L422.3 334.8L422.8 354.9L423.3 360.2L423.7 356.0L424.2 368.4L424.7 355.7L425.2 354.7L425.6 354.2L426.1 334.6L426.6 355.6L427.0 374.2L427.5 336.5L428.0 368.8L428.4 359.4L428.9 354.7L429.4 358.0L429.8 368.5L430.3 314.5L430.8 314.6L431.2 362.7L431.7 355.3L432.2 334.9L432.6 341.1L433.1 340.8L433.6 339.1L434.0 386.2L434.5 368.0L435.0 351.5L435.4 345.2L435.9 331.6L436.4 345.8L436.8 358.1L437.3 353.3L437.8 357.8L438.2 349.8" stroke="#D22014" stroke-width="1.0" fill="none" stroke-linejoin="round" clip-path="url(#cpf)"/>
<path d="M260.5 320.9L263.5 318.9L266.4 318.9L269.4 319.4L272.4 320.1L275.3 320.9L278.3 321.6L281.2 322.3L284.2 323.0L287.2 323.8L290.1 324.5L293.1 325.2L296.1 325.9L299.0 326.6L302.0 327.3L304.9 328.0L307.9 328.7L310.9 329.3L313.8 330.0L316.8 330.7L319.8 331.4L322.7 332.0L325.7 332.7L328.6 333.3L331.6 334.0L334.6 334.6L337.5 335.2L340.5 335.9L343.4 336.5L346.4 337.1L349.4 337.7L352.3 338.3L355.3 338.9L358.3 339.5L361.2 340.1L364.2 340.7L367.1 341.3L370.1 341.9L373.1 342.5L376.0 343.0L379.0 343.6L382.0 344.2L384.9 344.7L387.9 345.3L390.9 345.9L393.8 346.4L396.8 347.0L399.7 347.5L402.7 348.0L405.7 348.6L408.6 349.1L411.6 349.6L414.5 350.1L417.5 350.7L420.5 351.2L423.4 351.7L426.4 352.2L429.4 352.7L432.3 353.2L435.3 353.7L438.2 354.2" stroke="#D22014" stroke-width="1.1" fill="none" clip-path="url(#cpf)"/>
<path d="M260.5 350.1L261.0 349.8L261.4 352.0L261.9 353.7L262.4 353.5L262.8 355.9L263.3 357.7L263.8 356.4L264.2 360.4L264.7 362.5L265.2 363.7L265.6 363.8L266.1 363.3L266.6 364.0L267.0 364.6L267.5 364.6L268.0 365.6L268.5 367.7L268.9 367.6L269.4 369.2L269.9 371.4L270.3 370.3L270.8 372.0L271.3 373.0L271.7 370.7L272.2 372.9L272.7 375.1L273.1 375.1L273.6 372.4L274.1 376.4L274.5 375.5L275.0 376.1L275.5 376.7L275.9 377.1L276.4 379.0L276.9 379.4L277.3 379.3L277.8 380.0L278.3 378.8L278.7 378.1L279.2 381.9L279.7 380.2L280.1 382.7L280.6 382.6L281.1 382.3L281.5 382.1L282.0 383.2L282.5 386.6L283.0 381.1L283.4 383.8L283.9 384.6L284.4 382.9L284.8 385.1L285.3 386.6L285.8 383.9L286.2 384.3L286.7 386.4L287.2 384.1L287.6 385.0L288.1 387.6L288.6 383.3L289.0 385.8L289.5 388.2L290.0 385.9L290.4 386.6L290.9 385.5L291.4 389.4L291.8 385.7L292.3 386.1L292.8 386.6L293.2 387.0L293.7 385.9L294.2 387.1L294.6 388.3L295.1 390.1L295.6 386.9L296.1 387.3L296.5 388.6L297.0 389.1L297.5 388.2L297.9 394.1L298.4 389.2L298.9 394.4L299.3 389.6L299.8 388.3L300.3 386.9L300.7 391.4L301.2 389.9L301.7 390.9L302.1 395.1L302.6 389.7L303.1 391.2L303.5 391.2L304.0 393.3L304.5 391.7L304.9 391.6L305.4 389.3L305.9 391.4L306.3 385.1L306.8 393.1L307.3 392.9L307.7 392.6L308.2 394.3L308.7 389.6L309.1 391.5L309.6 395.6L310.1 392.8L310.6 390.7L311.0 396.3L311.5 393.1L312.0 394.0L312.4 388.5L312.9 392.8L313.4 394.7L313.8 395.2L314.3 389.8L314.8 395.2L315.2 389.0L315.7 398.0L316.2 394.9L316.6 395.1L317.1 396.3L317.6 395.2L318.0 393.2L318.5 396.5L319.0 398.5L319.4 391.8L319.9 391.6L320.4 397.0L320.8 394.6L321.3 402.0L321.8 392.9L322.2 399.1L322.7 397.2L323.2 390.2L323.6 399.3L324.1 396.0L324.6 399.0L325.1 401.2L325.5 399.4L326.0 395.6L326.5 400.0L326.9 398.2L327.4 394.5L327.9 397.1L328.3 400.5L328.8 392.5L329.3 396.5L329.7 392.8L330.2 400.2L330.7 392.1L331.1 401.3L331.6 402.6L332.1 398.6L332.5 398.6L333.0 396.7L333.5 399.3L333.9 395.6L334.4 393.4L334.9 399.9L335.3 402.3L335.8 399.2L336.3 395.3L336.7 395.3L337.2 399.3L337.7 401.5L338.1 398.3L338.6 395.0L339.1 400.8L339.6 393.9L340.0 397.7L340.5 397.5L341.0 400.9L341.4 393.7L341.9 398.6L342.4 404.3L342.8 395.8L343.3 400.5L343.8 394.9L344.2 398.4L344.7 401.5L345.2 398.5L345.6 401.1L346.1 402.5L346.6 399.2L347.0 396.0L347.5 399.1L348.0 399.8L348.4 401.8L348.9 397.2L349.4 398.5L349.8 395.6L350.3 398.2L350.8 390.6L351.2 406.6L351.7 400.1L352.2 397.6L352.6 396.0L353.1 406.9L353.6 405.6L354.1 400.3L354.5 395.3L355.0 395.1L355.5 407.4L355.9 399.7L356.4 394.7L356.9 400.3L357.3 405.4L357.8 404.0L358.3 407.1L358.7 394.6L359.2 401.9L359.7 402.8L360.1 405.2L360.6 401.4L361.1 405.5L361.5 405.9L362.0 401.1L362.5 402.1L362.9 398.5L363.4 400.2L363.9 394.5L364.3 401.3L364.8 399.6L365.3 399.8L365.7 405.7L366.2 394.4L366.7 404.5L367.1 410.5L367.6 393.9L368.1 397.5L368.6 404.8L369.0 395.6L369.5 395.6L370.0 397.1L370.4 408.8L370.9 400.4L371.4 408.1L371.8 405.5L372.3 405.3L372.8 407.2L373.2 398.5L373.7 407.0L374.2 397.6L374.6 400.6L375.1 405.9L375.6 400.7L376.0 397.1L376.5 393.9L377.0 403.8L377.4 389.6L377.9 397.9L378.4 393.0L378.8 411.9L379.3 409.9L379.8 393.1L380.2 403.8L380.7 398.7L381.2 393.0L381.7 413.4L382.1 398.7L382.6 387.1L383.1 396.0L383.5 401.6L384.0 397.8L384.5 402.3L384.9 396.0L385.4 391.6L385.9 404.3L386.3 397.6L386.8 399.9L387.3 396.1L387.7 395.3L388.2 411.9L388.7 392.3L389.1 394.9L389.6 412.5L390.1 405.2L390.5 416.0L391.0 405.4L391.5 399.7L391.9 413.6L392.4 410.1L392.9 411.2L393.3 409.5L393.8 410.4L394.3 413.3L394.7 397.2L395.2 405.0L395.7 411.2L396.2 392.9L396.6 408.7L397.1 393.7L397.6 415.9L398.0 388.1L398.5 407.8L399.0 413.2L399.4 398.6L399.9 417.7L400.4 415.0L400.8 400.4L401.3 408.5L401.8 398.6L402.2 401.5L402.7 400.2L403.2 401.6L403.6 394.8L404.1 403.2L404.6 390.0L405.0 391.8L405.5 427.2L406.0 424.9L406.4 383.9L406.9 408.9L407.4 400.9L407.8 404.8L408.3 399.8L408.8 374.6L409.2 412.6L409.7 402.5L410.2 403.3L410.7 418.0L411.1 415.3L411.6 407.1L412.1 403.7L412.5 398.1L413.0 431.2L413.5 425.8L413.9 379.8L414.4 406.1L414.9 391.4L415.3 409.7L415.8 414.1L416.3 371.7L416.7 422.3L417.2 417.5L417.7 393.1L418.1 403.3L418.6 429.4L419.1 401.4L419.5 391.9L420.0 428.3L420.5 412.8L420.9 390.7L421.4 371.8L421.9 442.7L422.3 415.3L422.8 403.3L423.3 419.4L423.7 419.5L424.2 412.5L424.7 394.6L425.2 422.8L425.6 388.1L426.1 388.6L426.6 388.1L427.0 375.3L427.5 413.5L428.0 404.7L428.4 384.7L428.9 379.4L429.4 385.5L429.8 412.6L430.3 413.4L430.8 430.1L431.2 412.6L431.7 422.0L432.2 413.8L432.6 411.7L433.1 386.5L433.6 385.8L434.0 404.9L434.5 428.3L435.0 405.0L435.4 394.4L435.9 385.0L436.4 399.2L436.8 385.7L437.3 418.7L437.8 389.0L438.2 386.8" stroke="#328E26" stroke-width="0.95" fill="none" stroke-linejoin="round" clip-path="url(#cpf)"/>
<path d="M260.5 348.4L263.5 357.8L266.4 364.8L269.4 370.1L272.4 374.1L275.3 377.4L278.3 380.0L281.2 382.1L284.2 383.9L287.2 385.4L290.1 386.8L293.1 388.0L296.1 389.1L299.0 390.1L302.0 391.0L304.9 391.8L307.9 392.6L310.9 393.4L313.8 394.0L316.8 394.7L319.8 395.3L322.7 395.9L325.7 396.4L328.6 396.9L331.6 397.4L334.6 397.9L337.5 398.3L340.5 398.7L343.4 399.1L346.4 399.5L349.4 399.8L352.3 400.1L355.3 400.4L358.3 400.7L361.2 401.0L364.2 401.3L367.1 401.5L370.1 401.7L373.1 402.0L376.0 402.2L379.0 402.4L382.0 402.6L384.9 402.7L387.9 402.9L390.9 403.1L393.8 403.2L396.8 403.4L399.7 403.5L402.7 403.6L405.7 403.7L408.6 403.8L411.6 404.0L414.5 404.1L417.5 404.1L420.5 404.2L423.4 404.3L426.4 404.4L429.4 404.5L432.3 404.6L435.3 404.6L438.2 404.7" stroke="#328E26" stroke-width="1.1" fill="none" clip-path="url(#cpf)"/>
<text x="347.4" y="460.6" font-size="12" text-anchor="middle" font-weight="bold">Time (ns)</text>
<text x="232.2" y="363.0" font-size="11.8" text-anchor="middle" textLength="93.0" lengthAdjust="spacingAndGlyphs" transform="rotate(-90 232.2 363.0)" font-weight="bold" stroke="#fff" stroke-width="0.2">Anisotropy [r(t)]</text>
<path d="M262.8 297.7H282" stroke="#D62418" stroke-width="1.5"/>
<text x="285.0" y="300.4" font-size="8.4" textLength="123.5" lengthAdjust="spacingAndGlyphs" font-weight="bold" fill="#111">FUS-eGFP Monomer (100 nM)</text>
<path d="M262.8 426.5H282" stroke="#38962A" stroke-width="1.5"/>
<text x="285.0" y="428.9" font-size="8.4" textLength="109.0" lengthAdjust="spacingAndGlyphs" font-weight="bold" fill="#111">FUS-eGFP Droplet (10 µM)</text>
<rect x="494.6" y="292.9" width="180.7" height="144.7" fill="none" stroke="#000" stroke-width="1.75"/>
<text x="489.4" y="296.2" font-size="11.83" text-anchor="end" textLength="23.9" lengthAdjust="spacingAndGlyphs" font-weight="bold">0.30</text>
<text x="489.4" y="320.3" font-size="11.83" text-anchor="end" textLength="23.9" lengthAdjust="spacingAndGlyphs" font-weight="bold">0.25</text>
<text x="489.4" y="344.4" font-size="11.83" text-anchor="end" textLength="23.9" lengthAdjust="spacingAndGlyphs" font-weight="bold">0.20</text>
<text x="489.4" y="368.5" font-size="11.83" text-anchor="end" textLength="23.9" lengthAdjust="spacingAndGlyphs" font-weight="bold">0.15</text>
<text x="489.4" y="392.6" font-size="11.83" text-anchor="end" textLength="23.9" lengthAdjust="spacingAndGlyphs" font-weight="bold">0.10</text>
<text x="489.4" y="416.7" font-size="11.83" text-anchor="end" textLength="23.9" lengthAdjust="spacingAndGlyphs" font-weight="bold">0.05</text>
<text x="489.4" y="440.8" font-size="11.83" text-anchor="end" textLength="23.9" lengthAdjust="spacingAndGlyphs" font-weight="bold">0.00</text>
<path d="M492.2 293.0H494.6M492.2 317.1H494.6M492.2 341.2H494.6M492.2 365.3H494.6M492.2 389.4H494.6M492.2 413.5H494.6M492.2 437.6H494.6" stroke="#000" stroke-width="1.8" fill="none"/>
<text x="509.4" y="451.8" font-size="13.33" text-anchor="middle" textLength="16.1" lengthAdjust="spacingAndGlyphs" font-weight="bold">0.1</text>
<text x="539.6" y="451.8" font-size="13.33" text-anchor="middle" textLength="16.1" lengthAdjust="spacingAndGlyphs" font-weight="bold">0.5</text>
<text x="569.6" y="451.8" font-size="13.33" text-anchor="middle" textLength="6.5" lengthAdjust="spacingAndGlyphs" font-weight="bold">1</text>
<text x="599.6" y="451.8" font-size="13.33" text-anchor="middle" textLength="6.5" lengthAdjust="spacingAndGlyphs" font-weight="bold">2</text>
<text x="629.8" y="451.8" font-size="13.33" text-anchor="middle" textLength="6.5" lengthAdjust="spacingAndGlyphs" font-weight="bold">4</text>
<text x="659.9" y="451.8" font-size="13.33" text-anchor="middle" textLength="12.9" lengthAdjust="spacingAndGlyphs" font-weight="bold">10</text>
<path d="M509.4 437.6V440.5M539.6 437.6V440.5M569.6 437.6V440.5M599.6 437.6V440.5M629.8 437.6V440.5M659.9 437.6V440.5" stroke="#000" stroke-width="1.9" fill="none"/>
<g transform="translate(460.4 368.0) rotate(-90) scale(0.9545 1)"><text x="-85.4" y="0" font-size="12.7" font-weight="bold" stroke="#fff" stroke-width="0.15">Steady-state anisotropy (r<tspan font-size="8.9" dy="2.5">ss</tspan><tspan dy="-2.5">)</tspan></text></g>
<text x="587.0" y="465.8" font-size="12" text-anchor="middle" textLength="166.4" lengthAdjust="spacingAndGlyphs" font-weight="bold">FUS-eGFP concentration  (µM)</text>
<text x="672.6" y="303.0" font-size="8.4" text-anchor="end" textLength="122.0" lengthAdjust="spacingAndGlyphs" font-weight="bold" fill="#111">FUS WT + FUS-eGFP Droplet</text>
<path d="M509.4 311.0V323.5M505.8 311.0H513.0M505.8 323.5H513.0" stroke="#111" stroke-width="0.9" fill="none"/>
<rect x="502.1" y="314.5" width="14.6" height="6.1" fill="#6A6AF0" stroke="#1c1c50" stroke-width="0.8"/>
<path d="M502.1 317.7H516.7" stroke="#1c1c50" stroke-width="0.8"/>
<path d="M508.3 323.4h0M506.6 318.6h0M511.3 317.1h0M507.9 325.3h0M509.0 315.0h0M511.6 305.0h0M510.1 320.8h0M509.0 322.4h0M510.5 318.6h0M508.8 321.1h0M510.2 311.7h0M508.0 319.4h0M510.2 322.8h0M509.5 319.6h0M511.3 320.2h0M511.4 316.1h0M510.0 318.7h0M509.7 324.7h0M508.7 319.6h0M509.6 317.6h0M508.5 315.1h0M510.8 321.9h0M508.6 313.5h0M510.9 321.3h0M508.9 312.9h0M512.0 323.0h0M507.9 322.2h0M509.4 323.6h0M509.9 316.3h0M508.4 313.2h0M511.0 304.2h0M508.9 318.8h0" stroke="#000" stroke-width="1.7" stroke-linecap="round" fill="none"/>
<rect x="508.5" y="316.8" width="1.8" height="1.8" fill="none" stroke="#ddd" stroke-width="0.4"/>
<path d="M539.6 319.7V337.9M536.0 319.7H543.2M536.0 337.9H543.2" stroke="#111" stroke-width="0.9" fill="none"/>
<rect x="532.3" y="323.2" width="14.6" height="8.1" fill="#6A6AF0" stroke="#1c1c50" stroke-width="0.8"/>
<path d="M532.3 327.2H546.9" stroke="#1c1c50" stroke-width="0.8"/>
<path d="M541.3 332.5h0M538.5 322.2h0M541.9 329.8h0M538.1 330.1h0M539.6 322.3h0M539.6 333.7h0M539.3 325.1h0M538.7 328.6h0M540.0 327.5h0M539.6 338.3h0M538.3 333.8h0M539.8 333.1h0M539.6 323.9h0M539.2 333.4h0M541.6 334.3h0M541.7 338.2h0M540.1 319.1h0M540.9 323.0h0M539.9 328.0h0M538.9 330.5h0M538.7 328.1h0M539.1 341.3h0M537.4 327.6h0M538.6 317.7h0M540.6 332.8h0M538.8 329.4h0M538.3 339.7h0M540.3 321.8h0M540.0 320.9h0M539.6 333.9h0M539.7 330.2h0M535.6 323.0h0" stroke="#000" stroke-width="1.7" stroke-linecap="round" fill="none"/>
<rect x="538.7" y="326.3" width="1.8" height="1.8" fill="none" stroke="#ddd" stroke-width="0.4"/>
<path d="M569.6 327.6V345.1M566.0 327.6H573.2M566.0 345.1H573.2" stroke="#111" stroke-width="0.9" fill="none"/>
<rect x="562.3" y="332.1" width="14.6" height="7.7" fill="#6A6AF0" stroke="#1c1c50" stroke-width="0.8"/>
<path d="M562.3 336.3H576.9" stroke="#1c1c50" stroke-width="0.8"/>
<path d="M569.4 339.4h0M570.3 349.0h0M570.2 337.3h0M568.6 332.5h0M569.0 339.6h0M569.3 341.5h0M567.8 325.0h0M566.9 330.1h0M569.2 335.4h0M568.4 342.3h0M570.4 334.4h0M568.2 341.0h0M568.7 346.3h0M569.2 344.1h0M567.9 333.1h0M572.9 335.1h0M571.7 331.6h0M569.1 345.0h0M571.5 343.5h0M568.9 333.9h0M570.1 343.6h0M570.2 349.0h0M569.5 328.1h0M570.6 327.9h0M569.0 340.8h0M570.8 329.9h0M571.3 333.4h0M569.2 329.3h0M568.2 332.3h0M571.9 349.0h0M570.7 331.7h0M571.3 325.0h0" stroke="#000" stroke-width="1.7" stroke-linecap="round" fill="none"/>
<rect x="568.7" y="335.4" width="1.8" height="1.8" fill="none" stroke="#ddd" stroke-width="0.4"/>
<path d="M599.6 348.6V364.3M596.0 348.6H603.2M596.0 364.3H603.2" stroke="#111" stroke-width="0.9" fill="none"/>
<rect x="592.3" y="352.8" width="14.6" height="8.7" fill="#6A6AF0" stroke="#1c1c50" stroke-width="0.8"/>
<path d="M592.3 357.7H606.9" stroke="#1c1c50" stroke-width="0.8"/>
<path d="M598.1 367.0h0M599.3 359.0h0M598.8 352.0h0M599.5 354.1h0M600.9 359.4h0M601.0 358.3h0M599.7 359.6h0M598.3 355.6h0M599.4 347.7h0M600.0 355.9h0M597.9 358.8h0M598.1 352.7h0M599.4 362.6h0M598.3 357.5h0M598.8 349.5h0M600.1 356.2h0M599.9 348.0h0M598.8 351.8h0M599.0 354.8h0M600.6 359.4h0M598.8 358.7h0M600.0 359.1h0M599.9 361.7h0M598.5 347.5h0M600.7 354.4h0M600.7 356.0h0M598.0 358.4h0M600.2 357.0h0M597.6 359.1h0M598.7 359.2h0M598.8 346.0h0M597.9 346.0h0" stroke="#000" stroke-width="1.7" stroke-linecap="round" fill="none"/>
<rect x="598.7" y="356.8" width="1.8" height="1.8" fill="none" stroke="#ddd" stroke-width="0.4"/>
<path d="M629.8 358.0V376.6M626.1 358.0H633.4M626.1 376.6H633.4" stroke="#111" stroke-width="0.9" fill="none"/>
<rect x="622.5" y="362.2" width="14.6" height="8.1" fill="#6A6AF0" stroke="#1c1c50" stroke-width="0.8"/>
<path d="M622.5 366.8H637.1" stroke="#1c1c50" stroke-width="0.8"/>
<path d="M627.4 363.2h0M634.1 376.4h0M631.6 369.8h0M631.0 376.0h0M631.5 372.5h0M627.6 364.4h0M630.7 353.4h0M629.8 369.7h0M629.4 352.0h0M628.4 365.7h0M632.9 360.5h0M630.9 376.3h0M629.2 368.5h0M630.8 363.5h0M629.5 359.9h0M627.9 378.5h0M632.4 360.3h0M630.1 369.1h0M627.8 360.0h0M626.1 375.3h0M629.0 369.7h0M626.8 365.5h0M630.7 372.9h0M630.4 368.4h0M630.1 356.1h0M629.7 369.9h0M629.6 352.0h0M628.2 367.0h0M631.7 366.7h0M631.7 365.6h0M628.7 362.2h0M628.5 368.2h0" stroke="#000" stroke-width="1.7" stroke-linecap="round" fill="none"/>
<rect x="628.9" y="365.9" width="1.8" height="1.8" fill="none" stroke="#ddd" stroke-width="0.4"/>
<path d="M659.9 391.7V405.3M656.2 391.7H663.5M656.2 405.3H663.5" stroke="#111" stroke-width="0.9" fill="none"/>
<rect x="652.6" y="395.2" width="14.6" height="7.0" fill="#6A6AF0" stroke="#1c1c50" stroke-width="0.8"/>
<path d="M652.6 398.7H667.2" stroke="#1c1c50" stroke-width="0.8"/>
<path d="M662.0 390.5h0M659.1 400.6h0M658.6 403.7h0M660.8 408.0h0M661.0 398.5h0M660.7 392.7h0M661.3 404.1h0M658.5 401.7h0M658.1 400.6h0M659.2 400.1h0M661.0 395.1h0M662.0 408.0h0M659.4 397.2h0M659.2 394.2h0M660.6 399.8h0M660.0 396.8h0M659.3 393.1h0M661.8 405.9h0M660.1 401.7h0M659.1 400.2h0M660.7 393.0h0M660.5 393.3h0M659.9 392.9h0M660.8 407.4h0M660.3 398.4h0M661.2 390.9h0M658.8 394.9h0M660.0 395.2h0M659.1 395.3h0M660.2 401.1h0M661.0 405.1h0M658.4 404.9h0" stroke="#000" stroke-width="1.7" stroke-linecap="round" fill="none"/>
<rect x="659.0" y="397.8" width="1.8" height="1.8" fill="none" stroke="#ddd" stroke-width="0.4"/>
<text x="539.6" y="317.4" font-size="11.61" text-anchor="middle" textLength="15.2" lengthAdjust="spacingAndGlyphs" fill="#222">***</text>
<text x="569.6" y="326.0" font-size="11.61" text-anchor="middle" textLength="15.2" lengthAdjust="spacingAndGlyphs" fill="#222">***</text>
<text x="599.6" y="346.0" font-size="11.61" text-anchor="middle" textLength="15.2" lengthAdjust="spacingAndGlyphs" fill="#222">***</text>
<text x="629.8" y="353.0" font-size="11.61" text-anchor="middle" textLength="15.2" lengthAdjust="spacingAndGlyphs" fill="#222">***</text>
<text x="659.9" y="385.2" font-size="11.61" text-anchor="middle" textLength="15.2" lengthAdjust="spacingAndGlyphs" fill="#222">***</text>
<rect x="7.8" y="490.7" width="65.7" height="65.7" fill="#030403"/>
<g clip-path="url(#cph1)">
<path d="M23.1 497.3a7.1 7.1 0 1 0 14.2 0a7.1 7.1 0 1 0 -14.2 0M13.5 500.6a5.7 5.7 0 1 0 11.4 0a5.7 5.7 0 1 0 -11.4 0M12.9 503.3a3.6 3.6 0 1 0 7.1 0a3.6 3.6 0 1 0 -7.1 0M44.7 497.3a5.7 5.7 0 1 0 11.4 0a5.7 5.7 0 1 0 -11.4 0M51.2 499.5a3.6 3.6 0 1 0 7.1 0a3.6 3.6 0 1 0 -7.1 0M55.8 502.2a5.0 5.0 0 1 0 10.0 0a5.0 5.0 0 1 0 -10.0 0M35.0 504.4a5.0 5.0 0 1 0 10.0 0a5.0 5.0 0 1 0 -10.0 0M31.9 507.5a4.3 4.3 0 1 0 8.5 0a4.3 4.3 0 1 0 -8.5 0M42.4 512.6a6.4 6.4 0 1 0 12.8 0a6.4 6.4 0 1 0 -12.8 0M47.9 519.2a3.6 3.6 0 1 0 7.1 0a3.6 3.6 0 1 0 -7.1 0M56.9 518.6a5.0 5.0 0 1 0 10.0 0a5.0 5.0 0 1 0 -10.0 0M68.9 520.8a2.8 2.8 0 1 0 5.7 0a2.8 2.8 0 1 0 -5.7 0M17.2 519.7a6.4 6.4 0 1 0 12.8 0a6.4 6.4 0 1 0 -12.8 0M17.5 526.3a5.0 5.0 0 1 0 10.0 0a5.0 5.0 0 1 0 -10.0 0M27.9 514.3a2.8 2.8 0 1 0 5.7 0a2.8 2.8 0 1 0 -5.7 0M32.4 528.5a7.1 7.1 0 1 0 14.2 0a7.1 7.1 0 1 0 -14.2 0M31.4 531.2a4.3 4.3 0 1 0 8.5 0a4.3 4.3 0 1 0 -8.5 0M48.7 530.7a5.0 5.0 0 1 0 10.0 0a5.0 5.0 0 1 0 -10.0 0M55.2 529.6a2.8 2.8 0 1 0 5.7 0a2.8 2.8 0 1 0 -5.7 0M60.4 534.0a6.4 6.4 0 1 0 12.8 0a6.4 6.4 0 1 0 -12.8 0M62.2 539.4a3.6 3.6 0 1 0 7.1 0a3.6 3.6 0 1 0 -7.1 0M7.1 504.4a2.8 2.8 0 1 0 5.7 0a2.8 2.8 0 1 0 -5.7 0M11.2 510.4a2.6 2.6 0 1 0 5.1 0a2.6 2.6 0 1 0 -5.1 0M17.5 512.6a1.7 1.7 0 1 0 3.4 0a1.7 1.7 0 1 0 -3.4 0M10.5 521.9a2.1 2.1 0 1 0 4.3 0a2.1 2.1 0 1 0 -4.3 0M5.8 532.9a3.6 3.6 0 1 0 7.1 0a3.6 3.6 0 1 0 -7.1 0M19.9 536.7a3.1 3.1 0 1 0 6.3 0a3.1 3.1 0 1 0 -6.3 0M12.7 537.2a2.1 2.1 0 1 0 4.3 0a2.1 2.1 0 1 0 -4.3 0M39.3 538.9a4.0 4.0 0 1 0 8.0 0a4.0 4.0 0 1 0 -8.0 0M25.0 542.2a5.7 5.7 0 1 0 11.4 0a5.7 5.7 0 1 0 -11.4 0M25.4 547.6a4.3 4.3 0 1 0 8.5 0a4.3 4.3 0 1 0 -8.5 0M44.2 549.8a5.7 5.7 0 1 0 11.4 0a5.7 5.7 0 1 0 -11.4 0M55.3 547.6a5.0 5.0 0 1 0 10.0 0a5.0 5.0 0 1 0 -10.0 0M59.1 552.6a5.0 5.0 0 1 0 10.0 0a5.0 5.0 0 1 0 -10.0 0M10.6 552.6a6.4 6.4 0 1 0 12.8 0a6.4 6.4 0 1 0 -12.8 0M22.6 553.6a4.3 4.3 0 1 0 8.5 0a4.3 4.3 0 1 0 -8.5 0M31.0 553.6a3.6 3.6 0 1 0 7.1 0a3.6 3.6 0 1 0 -7.1 0M60.3 495.1a2.1 2.1 0 1 0 4.3 0a2.1 2.1 0 1 0 -4.3 0M65.4 497.8a1.4 1.4 0 1 0 2.8 0a1.4 1.4 0 1 0 -2.8 0M67.9 492.9a1.1 1.1 0 1 0 2.3 0a1.1 1.1 0 1 0 -2.3 0M57.2 492.6a0.9 0.9 0 1 0 1.7 0a0.9 0.9 0 1 0 -1.7 0M69.0 499.8a1.1 1.1 0 1 0 2.3 0a1.1 1.1 0 1 0 -2.3 0M63.8 507.7a1.4 1.4 0 1 0 2.8 0a1.4 1.4 0 1 0 -2.8 0M59.4 511.0a1.4 1.4 0 1 0 2.8 0a1.4 1.4 0 1 0 -2.8 0M68.1 512.6a1.4 1.4 0 1 0 2.8 0a1.4 1.4 0 1 0 -2.8 0M32.8 517.3a1.7 1.7 0 1 0 3.4 0a1.7 1.7 0 1 0 -3.4 0M38.3 519.9a1.7 1.7 0 1 0 3.4 0a1.7 1.7 0 1 0 -3.4 0M29.0 526.1a1.7 1.7 0 1 0 3.4 0a1.7 1.7 0 1 0 -3.4 0M13.7 528.5a1.7 1.7 0 1 0 3.4 0a1.7 1.7 0 1 0 -3.4 0M24.6 508.8a1.1 1.1 0 1 0 2.3 0a1.1 1.1 0 1 0 -2.3 0M14.8 492.9a1.1 1.1 0 1 0 2.3 0a1.1 1.1 0 1 0 -2.3 0M13.2 515.9a1.1 1.1 0 1 0 2.3 0a1.1 1.1 0 1 0 -2.3 0M8.0 522.5a0.9 0.9 0 1 0 1.7 0a0.9 0.9 0 1 0 -1.7 0M25.7 534.0a1.1 1.1 0 1 0 2.3 0a1.1 1.1 0 1 0 -2.3 0M39.2 543.8a0.9 0.9 0 1 0 1.7 0a0.9 0.9 0 1 0 -1.7 0M40.5 550.4a1.1 1.1 0 1 0 2.3 0a1.1 1.1 0 1 0 -2.3 0" fill="#5A1406" opacity="0.5" filter="url(#bl5)"/>
<g filter="url(#bl5)">
<path d="M24.5 497.3a5.7 5.7 0 1 0 11.4 0a5.7 5.7 0 1 0 -11.4 0M14.7 500.6a4.6 4.6 0 1 0 9.1 0a4.6 4.6 0 1 0 -9.1 0M13.6 503.3a2.8 2.8 0 1 0 5.7 0a2.8 2.8 0 1 0 -5.7 0M45.9 497.3a4.6 4.6 0 1 0 9.1 0a4.6 4.6 0 1 0 -9.1 0M51.9 499.5a2.8 2.8 0 1 0 5.7 0a2.8 2.8 0 1 0 -5.7 0M56.8 502.2a4.0 4.0 0 1 0 8.0 0a4.0 4.0 0 1 0 -8.0 0M36.0 504.4a4.0 4.0 0 1 0 8.0 0a4.0 4.0 0 1 0 -8.0 0M32.8 507.5a3.4 3.4 0 1 0 6.8 0a3.4 3.4 0 1 0 -6.8 0M43.6 512.6a5.1 5.1 0 1 0 10.2 0a5.1 5.1 0 1 0 -10.2 0M48.7 519.2a2.8 2.8 0 1 0 5.7 0a2.8 2.8 0 1 0 -5.7 0M57.9 518.6a4.0 4.0 0 1 0 8.0 0a4.0 4.0 0 1 0 -8.0 0M69.5 520.8a2.3 2.3 0 1 0 4.6 0a2.3 2.3 0 1 0 -4.6 0M18.5 519.7a5.1 5.1 0 1 0 10.2 0a5.1 5.1 0 1 0 -10.2 0M18.5 526.3a4.0 4.0 0 1 0 8.0 0a4.0 4.0 0 1 0 -8.0 0M28.4 514.3a2.3 2.3 0 1 0 4.6 0a2.3 2.3 0 1 0 -4.6 0M33.8 528.5a5.7 5.7 0 1 0 11.4 0a5.7 5.7 0 1 0 -11.4 0M32.2 531.2a3.4 3.4 0 1 0 6.8 0a3.4 3.4 0 1 0 -6.8 0M49.7 530.7a4.0 4.0 0 1 0 8.0 0a4.0 4.0 0 1 0 -8.0 0M55.8 529.6a2.3 2.3 0 1 0 4.6 0a2.3 2.3 0 1 0 -4.6 0M61.7 534.0a5.1 5.1 0 1 0 10.2 0a5.1 5.1 0 1 0 -10.2 0M62.9 539.4a2.8 2.8 0 1 0 5.7 0a2.8 2.8 0 1 0 -5.7 0M7.6 504.4a2.3 2.3 0 1 0 4.6 0a2.3 2.3 0 1 0 -4.6 0M11.7 510.4a2.0 2.0 0 1 0 4.1 0a2.0 2.0 0 1 0 -4.1 0M17.9 512.6a1.4 1.4 0 1 0 2.7 0a1.4 1.4 0 1 0 -2.7 0M11.0 521.9a1.7 1.7 0 1 0 3.4 0a1.7 1.7 0 1 0 -3.4 0M6.5 532.9a2.8 2.8 0 1 0 5.7 0a2.8 2.8 0 1 0 -5.7 0M20.5 536.7a2.5 2.5 0 1 0 5.0 0a2.5 2.5 0 1 0 -5.0 0M13.1 537.2a1.7 1.7 0 1 0 3.4 0a1.7 1.7 0 1 0 -3.4 0M40.1 538.9a3.2 3.2 0 1 0 6.4 0a3.2 3.2 0 1 0 -6.4 0M26.2 542.2a4.6 4.6 0 1 0 9.1 0a4.6 4.6 0 1 0 -9.1 0M26.2 547.6a3.4 3.4 0 1 0 6.8 0a3.4 3.4 0 1 0 -6.8 0M45.3 549.8a4.6 4.6 0 1 0 9.1 0a4.6 4.6 0 1 0 -9.1 0M56.3 547.6a4.0 4.0 0 1 0 8.0 0a4.0 4.0 0 1 0 -8.0 0M60.1 552.6a4.0 4.0 0 1 0 8.0 0a4.0 4.0 0 1 0 -8.0 0M11.9 552.6a5.1 5.1 0 1 0 10.2 0a5.1 5.1 0 1 0 -10.2 0M23.5 553.6a3.4 3.4 0 1 0 6.8 0a3.4 3.4 0 1 0 -6.8 0M31.7 553.6a2.8 2.8 0 1 0 5.7 0a2.8 2.8 0 1 0 -5.7 0M60.7 495.1a1.7 1.7 0 1 0 3.4 0a1.7 1.7 0 1 0 -3.4 0M65.7 497.8a1.1 1.1 0 1 0 2.3 0a1.1 1.1 0 1 0 -2.3 0M68.1 492.9a0.9 0.9 0 1 0 1.8 0a0.9 0.9 0 1 0 -1.8 0M57.4 492.6a0.7 0.7 0 1 0 1.4 0a0.7 0.7 0 1 0 -1.4 0M69.2 499.8a0.9 0.9 0 1 0 1.8 0a0.9 0.9 0 1 0 -1.8 0M64.0 507.7a1.1 1.1 0 1 0 2.3 0a1.1 1.1 0 1 0 -2.3 0M59.7 511.0a1.1 1.1 0 1 0 2.3 0a1.1 1.1 0 1 0 -2.3 0M68.4 512.6a1.1 1.1 0 1 0 2.3 0a1.1 1.1 0 1 0 -2.3 0M33.2 517.3a1.4 1.4 0 1 0 2.7 0a1.4 1.4 0 1 0 -2.7 0M38.6 519.9a1.4 1.4 0 1 0 2.7 0a1.4 1.4 0 1 0 -2.7 0M29.3 526.1a1.4 1.4 0 1 0 2.7 0a1.4 1.4 0 1 0 -2.7 0M14.0 528.5a1.4 1.4 0 1 0 2.7 0a1.4 1.4 0 1 0 -2.7 0M24.9 508.8a0.9 0.9 0 1 0 1.8 0a0.9 0.9 0 1 0 -1.8 0M15.0 492.9a0.9 0.9 0 1 0 1.8 0a0.9 0.9 0 1 0 -1.8 0M13.4 515.9a0.9 0.9 0 1 0 1.8 0a0.9 0.9 0 1 0 -1.8 0M8.1 522.5a0.7 0.7 0 1 0 1.4 0a0.7 0.7 0 1 0 -1.4 0M26.0 534.0a0.9 0.9 0 1 0 1.8 0a0.9 0.9 0 1 0 -1.8 0M39.3 543.8a0.7 0.7 0 1 0 1.4 0a0.7 0.7 0 1 0 -1.4 0M40.7 550.4a0.9 0.9 0 1 0 1.8 0a0.9 0.9 0 1 0 -1.8 0" fill="#9A2A0E"/>
<path d="M25.6 497.3a4.6 4.6 0 1 0 9.1 0a4.6 4.6 0 1 0 -9.1 0M15.6 500.6a3.6 3.6 0 1 0 7.3 0a3.6 3.6 0 1 0 -7.3 0M14.2 503.3a2.3 2.3 0 1 0 4.6 0a2.3 2.3 0 1 0 -4.6 0M46.8 497.3a3.6 3.6 0 1 0 7.3 0a3.6 3.6 0 1 0 -7.3 0M52.5 499.5a2.3 2.3 0 1 0 4.6 0a2.3 2.3 0 1 0 -4.6 0M57.6 502.2a3.2 3.2 0 1 0 6.4 0a3.2 3.2 0 1 0 -6.4 0M36.8 504.4a3.2 3.2 0 1 0 6.4 0a3.2 3.2 0 1 0 -6.4 0M33.5 507.5a2.7 2.7 0 1 0 5.5 0a2.7 2.7 0 1 0 -5.5 0M44.7 512.6a4.1 4.1 0 1 0 8.2 0a4.1 4.1 0 1 0 -8.2 0M49.2 519.2a2.3 2.3 0 1 0 4.6 0a2.3 2.3 0 1 0 -4.6 0M58.7 518.6a3.2 3.2 0 1 0 6.4 0a3.2 3.2 0 1 0 -6.4 0M69.9 520.8a1.8 1.8 0 1 0 3.6 0a1.8 1.8 0 1 0 -3.6 0M19.5 519.7a4.1 4.1 0 1 0 8.2 0a4.1 4.1 0 1 0 -8.2 0M19.3 526.3a3.2 3.2 0 1 0 6.4 0a3.2 3.2 0 1 0 -6.4 0M28.9 514.3a1.8 1.8 0 1 0 3.6 0a1.8 1.8 0 1 0 -3.6 0M34.9 528.5a4.6 4.6 0 1 0 9.1 0a4.6 4.6 0 1 0 -9.1 0M32.9 531.2a2.7 2.7 0 1 0 5.5 0a2.7 2.7 0 1 0 -5.5 0M50.5 530.7a3.2 3.2 0 1 0 6.4 0a3.2 3.2 0 1 0 -6.4 0M56.2 529.6a1.8 1.8 0 1 0 3.6 0a1.8 1.8 0 1 0 -3.6 0M62.7 534.0a4.1 4.1 0 1 0 8.2 0a4.1 4.1 0 1 0 -8.2 0M63.4 539.4a2.3 2.3 0 1 0 4.6 0a2.3 2.3 0 1 0 -4.6 0M8.1 504.4a1.8 1.8 0 1 0 3.6 0a1.8 1.8 0 1 0 -3.6 0M12.1 510.4a1.6 1.6 0 1 0 3.3 0a1.6 1.6 0 1 0 -3.3 0M18.1 512.6a1.1 1.1 0 1 0 2.2 0a1.1 1.1 0 1 0 -2.2 0M11.3 521.9a1.4 1.4 0 1 0 2.7 0a1.4 1.4 0 1 0 -2.7 0M7.1 532.9a2.3 2.3 0 1 0 4.6 0a2.3 2.3 0 1 0 -4.6 0M21.0 536.7a2.0 2.0 0 1 0 4.0 0a2.0 2.0 0 1 0 -4.0 0M13.5 537.2a1.4 1.4 0 1 0 2.7 0a1.4 1.4 0 1 0 -2.7 0M40.7 538.9a2.5 2.5 0 1 0 5.1 0a2.5 2.5 0 1 0 -5.1 0M27.1 542.2a3.6 3.6 0 1 0 7.3 0a3.6 3.6 0 1 0 -7.3 0M26.9 547.6a2.7 2.7 0 1 0 5.5 0a2.7 2.7 0 1 0 -5.5 0M46.2 549.8a3.6 3.6 0 1 0 7.3 0a3.6 3.6 0 1 0 -7.3 0M57.1 547.6a3.2 3.2 0 1 0 6.4 0a3.2 3.2 0 1 0 -6.4 0M60.9 552.6a3.2 3.2 0 1 0 6.4 0a3.2 3.2 0 1 0 -6.4 0M12.9 552.6a4.1 4.1 0 1 0 8.2 0a4.1 4.1 0 1 0 -8.2 0M24.2 553.6a2.7 2.7 0 1 0 5.5 0a2.7 2.7 0 1 0 -5.5 0M32.3 553.6a2.3 2.3 0 1 0 4.6 0a2.3 2.3 0 1 0 -4.6 0M61.1 495.1a1.4 1.4 0 1 0 2.7 0a1.4 1.4 0 1 0 -2.7 0M65.9 497.8a0.9 0.9 0 1 0 1.8 0a0.9 0.9 0 1 0 -1.8 0M68.3 492.9a0.7 0.7 0 1 0 1.5 0a0.7 0.7 0 1 0 -1.5 0M57.5 492.6a0.5 0.5 0 1 0 1.1 0a0.5 0.5 0 1 0 -1.1 0M69.4 499.8a0.7 0.7 0 1 0 1.5 0a0.7 0.7 0 1 0 -1.5 0M64.3 507.7a0.9 0.9 0 1 0 1.8 0a0.9 0.9 0 1 0 -1.8 0M59.9 511.0a0.9 0.9 0 1 0 1.8 0a0.9 0.9 0 1 0 -1.8 0M68.6 512.6a0.9 0.9 0 1 0 1.8 0a0.9 0.9 0 1 0 -1.8 0M33.4 517.3a1.1 1.1 0 1 0 2.2 0a1.1 1.1 0 1 0 -2.2 0M38.9 519.9a1.1 1.1 0 1 0 2.2 0a1.1 1.1 0 1 0 -2.2 0M29.6 526.1a1.1 1.1 0 1 0 2.2 0a1.1 1.1 0 1 0 -2.2 0M14.3 528.5a1.1 1.1 0 1 0 2.2 0a1.1 1.1 0 1 0 -2.2 0M25.1 508.8a0.7 0.7 0 1 0 1.5 0a0.7 0.7 0 1 0 -1.5 0M15.2 492.9a0.7 0.7 0 1 0 1.5 0a0.7 0.7 0 1 0 -1.5 0M13.6 515.9a0.7 0.7 0 1 0 1.5 0a0.7 0.7 0 1 0 -1.5 0M8.3 522.5a0.5 0.5 0 1 0 1.1 0a0.5 0.5 0 1 0 -1.1 0M26.2 534.0a0.7 0.7 0 1 0 1.5 0a0.7 0.7 0 1 0 -1.5 0M39.5 543.8a0.5 0.5 0 1 0 1.1 0a0.5 0.5 0 1 0 -1.1 0M40.9 550.4a0.7 0.7 0 1 0 1.5 0a0.7 0.7 0 1 0 -1.5 0" fill="#BC3A14"/>
<path d="M27.3 497.3a2.8 2.8 0 1 0 5.7 0a2.8 2.8 0 1 0 -5.7 0M16.9 500.6a2.3 2.3 0 1 0 4.6 0a2.3 2.3 0 1 0 -4.6 0M15.1 503.3a1.4 1.4 0 1 0 2.8 0a1.4 1.4 0 1 0 -2.8 0M48.1 497.3a2.3 2.3 0 1 0 4.6 0a2.3 2.3 0 1 0 -4.6 0M53.4 499.5a1.4 1.4 0 1 0 2.8 0a1.4 1.4 0 1 0 -2.8 0M58.8 502.2a2.0 2.0 0 1 0 4.0 0a2.0 2.0 0 1 0 -4.0 0M38.0 504.4a2.0 2.0 0 1 0 4.0 0a2.0 2.0 0 1 0 -4.0 0M34.5 507.5a1.7 1.7 0 1 0 3.4 0a1.7 1.7 0 1 0 -3.4 0M46.2 512.6a2.6 2.6 0 1 0 5.1 0a2.6 2.6 0 1 0 -5.1 0M50.1 519.2a1.4 1.4 0 1 0 2.8 0a1.4 1.4 0 1 0 -2.8 0M59.9 518.6a2.0 2.0 0 1 0 4.0 0a2.0 2.0 0 1 0 -4.0 0M70.6 520.8a1.1 1.1 0 1 0 2.3 0a1.1 1.1 0 1 0 -2.3 0M21.0 519.7a2.6 2.6 0 1 0 5.1 0a2.6 2.6 0 1 0 -5.1 0M20.5 526.3a2.0 2.0 0 1 0 4.0 0a2.0 2.0 0 1 0 -4.0 0M29.6 514.3a1.1 1.1 0 1 0 2.3 0a1.1 1.1 0 1 0 -2.3 0M36.6 528.5a2.8 2.8 0 1 0 5.7 0a2.8 2.8 0 1 0 -5.7 0M33.9 531.2a1.7 1.7 0 1 0 3.4 0a1.7 1.7 0 1 0 -3.4 0M51.7 530.7a2.0 2.0 0 1 0 4.0 0a2.0 2.0 0 1 0 -4.0 0M56.9 529.6a1.1 1.1 0 1 0 2.3 0a1.1 1.1 0 1 0 -2.3 0M64.3 534.0a2.6 2.6 0 1 0 5.1 0a2.6 2.6 0 1 0 -5.1 0M64.3 539.4a1.4 1.4 0 1 0 2.8 0a1.4 1.4 0 1 0 -2.8 0M8.8 504.4a1.1 1.1 0 1 0 2.3 0a1.1 1.1 0 1 0 -2.3 0M12.7 510.4a1.0 1.0 0 1 0 2.0 0a1.0 1.0 0 1 0 -2.0 0M18.5 512.6a0.7 0.7 0 1 0 1.4 0a0.7 0.7 0 1 0 -1.4 0M11.8 521.9a0.9 0.9 0 1 0 1.7 0a0.9 0.9 0 1 0 -1.7 0M8.0 532.9a1.4 1.4 0 1 0 2.8 0a1.4 1.4 0 1 0 -2.8 0M21.8 536.7a1.3 1.3 0 1 0 2.5 0a1.3 1.3 0 1 0 -2.5 0M14.0 537.2a0.9 0.9 0 1 0 1.7 0a0.9 0.9 0 1 0 -1.7 0M41.7 538.9a1.6 1.6 0 1 0 3.2 0a1.6 1.6 0 1 0 -3.2 0M28.4 542.2a2.3 2.3 0 1 0 4.6 0a2.3 2.3 0 1 0 -4.6 0M27.9 547.6a1.7 1.7 0 1 0 3.4 0a1.7 1.7 0 1 0 -3.4 0M47.6 549.8a2.3 2.3 0 1 0 4.6 0a2.3 2.3 0 1 0 -4.6 0M58.3 547.6a2.0 2.0 0 1 0 4.0 0a2.0 2.0 0 1 0 -4.0 0M62.1 552.6a2.0 2.0 0 1 0 4.0 0a2.0 2.0 0 1 0 -4.0 0M14.5 552.6a2.6 2.6 0 1 0 5.1 0a2.6 2.6 0 1 0 -5.1 0M25.2 553.6a1.7 1.7 0 1 0 3.4 0a1.7 1.7 0 1 0 -3.4 0M33.1 553.6a1.4 1.4 0 1 0 2.8 0a1.4 1.4 0 1 0 -2.8 0M61.6 495.1a0.9 0.9 0 1 0 1.7 0a0.9 0.9 0 1 0 -1.7 0M66.2 497.8a0.6 0.6 0 1 0 1.1 0a0.6 0.6 0 1 0 -1.1 0M68.5 492.9a0.5 0.5 0 1 0 0.9 0a0.5 0.5 0 1 0 -0.9 0M57.7 492.6a0.3 0.3 0 1 0 0.7 0a0.3 0.3 0 1 0 -0.7 0M69.6 499.8a0.5 0.5 0 1 0 0.9 0a0.5 0.5 0 1 0 -0.9 0M64.6 507.7a0.6 0.6 0 1 0 1.1 0a0.6 0.6 0 1 0 -1.1 0M60.2 511.0a0.6 0.6 0 1 0 1.1 0a0.6 0.6 0 1 0 -1.1 0M69.0 512.6a0.6 0.6 0 1 0 1.1 0a0.6 0.6 0 1 0 -1.1 0M33.9 517.3a0.7 0.7 0 1 0 1.4 0a0.7 0.7 0 1 0 -1.4 0M39.3 519.9a0.7 0.7 0 1 0 1.4 0a0.7 0.7 0 1 0 -1.4 0M30.0 526.1a0.7 0.7 0 1 0 1.4 0a0.7 0.7 0 1 0 -1.4 0M14.7 528.5a0.7 0.7 0 1 0 1.4 0a0.7 0.7 0 1 0 -1.4 0M25.3 508.8a0.5 0.5 0 1 0 0.9 0a0.5 0.5 0 1 0 -0.9 0M15.5 492.9a0.5 0.5 0 1 0 0.9 0a0.5 0.5 0 1 0 -0.9 0M13.8 515.9a0.5 0.5 0 1 0 0.9 0a0.5 0.5 0 1 0 -0.9 0M8.5 522.5a0.3 0.3 0 1 0 0.7 0a0.3 0.3 0 1 0 -0.7 0M26.4 534.0a0.5 0.5 0 1 0 0.9 0a0.5 0.5 0 1 0 -0.9 0M39.7 543.8a0.3 0.3 0 1 0 0.7 0a0.3 0.3 0 1 0 -0.7 0M41.2 550.4a0.5 0.5 0 1 0 0.9 0a0.5 0.5 0 1 0 -0.9 0" fill="#D0461A"/>

</g></g>
<rect x="14.0" y="550.1" width="5.4" height="0.9" fill="#fff"/><rect x="15.3" y="547.9" width="3" height="1.2" fill="#aaa" opacity="0.6"/>
<rect x="80.6" y="490.7" width="65.4" height="65.7" fill="#030403"/>
<g clip-path="url(#cph2)">
<path d="M85.4 492.2a2.6 2.6 0 1 0 5.1 0a2.6 2.6 0 1 0 -5.1 0M96.6 495.9a1.4 1.4 0 1 0 2.8 0a1.4 1.4 0 1 0 -2.8 0M110.5 502.0a2.6 2.6 0 1 0 5.1 0a2.6 2.6 0 1 0 -5.1 0M120.7 500.3a2.8 2.8 0 1 0 5.7 0a2.8 2.8 0 1 0 -5.7 0M133.1 512.1a3.6 3.6 0 1 0 7.1 0a3.6 3.6 0 1 0 -7.1 0M88.8 513.4a3.6 3.6 0 1 0 7.1 0a3.6 3.6 0 1 0 -7.1 0M79.8 517.5a4.3 4.3 0 1 0 8.5 0a4.3 4.3 0 1 0 -8.5 0M118.2 518.9a3.1 3.1 0 1 0 6.3 0a3.1 3.1 0 1 0 -6.3 0M125.0 519.7a4.6 4.6 0 1 0 9.1 0a4.6 4.6 0 1 0 -9.1 0M104.4 526.8a5.4 5.4 0 1 0 10.8 0a5.4 5.4 0 1 0 -10.8 0M91.3 530.1a4.3 4.3 0 1 0 8.5 0a4.3 4.3 0 1 0 -8.5 0M104.7 537.2a4.0 4.0 0 1 0 8.0 0a4.0 4.0 0 1 0 -8.0 0M120.5 537.2a3.6 3.6 0 1 0 7.1 0a3.6 3.6 0 1 0 -7.1 0M97.0 543.6a3.6 3.6 0 1 0 7.1 0a3.6 3.6 0 1 0 -7.1 0M137.0 543.3a4.6 4.6 0 1 0 9.1 0a4.6 4.6 0 1 0 -9.1 0M116.5 548.7a4.3 4.3 0 1 0 8.5 0a4.3 4.3 0 1 0 -8.5 0M101.2 553.6a4.3 4.3 0 1 0 8.5 0a4.3 4.3 0 1 0 -8.5 0M87.8 547.1a2.8 2.8 0 1 0 5.7 0a2.8 2.8 0 1 0 -5.7 0M85.3 540.7a2.1 2.1 0 1 0 4.3 0a2.1 2.1 0 1 0 -4.3 0M82.0 554.2a2.1 2.1 0 1 0 4.3 0a2.1 2.1 0 1 0 -4.3 0M124.0 544.9a1.7 1.7 0 1 0 3.4 0a1.7 1.7 0 1 0 -3.4 0M102.9 536.7a1.4 1.4 0 1 0 2.8 0a1.4 1.4 0 1 0 -2.8 0M94.0 556.4a2.1 2.1 0 1 0 4.3 0a2.1 2.1 0 1 0 -4.3 0M100.7 499.5a2.6 2.6 0 1 0 5.1 0a2.6 2.6 0 1 0 -5.1 0M95.2 504.4a3.1 3.1 0 1 0 6.3 0a3.1 3.1 0 1 0 -6.3 0M98.4 507.1a2.1 2.1 0 1 0 4.3 0a2.1 2.1 0 1 0 -4.3 0M85.1 499.5a1.7 1.7 0 1 0 3.4 0a1.7 1.7 0 1 0 -3.4 0M130.5 500.3a2.8 2.8 0 1 0 5.7 0a2.8 2.8 0 1 0 -5.7 0M127.3 502.2a1.7 1.7 0 1 0 3.4 0a1.7 1.7 0 1 0 -3.4 0M99.3 519.7a4.0 4.0 0 1 0 8.0 0a4.0 4.0 0 1 0 -8.0 0M89.1 520.3a2.1 2.1 0 1 0 4.3 0a2.1 2.1 0 1 0 -4.3 0M94.7 525.2a2.6 2.6 0 1 0 5.1 0a2.6 2.6 0 1 0 -5.1 0M81.4 524.7a2.1 2.1 0 1 0 4.3 0a2.1 2.1 0 1 0 -4.3 0M117.7 528.3a2.6 2.6 0 1 0 5.1 0a2.6 2.6 0 1 0 -5.1 0M124.9 526.3a3.6 3.6 0 1 0 7.1 0a3.6 3.6 0 1 0 -7.1 0M132.0 530.1a3.6 3.6 0 1 0 7.1 0a3.6 3.6 0 1 0 -7.1 0M127.8 534.0a2.8 2.8 0 1 0 5.7 0a2.8 2.8 0 1 0 -5.7 0M130.8 537.8a2.6 2.6 0 1 0 5.1 0a2.6 2.6 0 1 0 -5.1 0M140.6 535.6a3.1 3.1 0 1 0 6.3 0a3.1 3.1 0 1 0 -6.3 0M141.1 523.0a2.1 2.1 0 1 0 4.3 0a2.1 2.1 0 1 0 -4.3 0M87.3 533.7a2.8 2.8 0 1 0 5.7 0a2.8 2.8 0 1 0 -5.7 0M113.8 541.4a2.6 2.6 0 1 0 5.1 0a2.6 2.6 0 1 0 -5.1 0M108.8 492.2a2.1 2.1 0 1 0 4.3 0a2.1 2.1 0 1 0 -4.3 0M80.2 538.9a1.7 1.7 0 1 0 3.4 0a1.7 1.7 0 1 0 -3.4 0M116.3 493.5a1.1 1.1 0 1 0 2.3 0a1.1 1.1 0 1 0 -2.3 0M125.6 555.8a1.7 1.7 0 1 0 3.4 0a1.7 1.7 0 1 0 -3.4 0M136.8 555.8a1.4 1.4 0 1 0 2.8 0a1.4 1.4 0 1 0 -2.8 0M113.6 554.7a1.1 1.1 0 1 0 2.3 0a1.1 1.1 0 1 0 -2.3 0" fill="#6A3A10" opacity="0.55" filter="url(#bl5)"/>
<g filter="url(#bl3)">
<path d="M101.3 499.5a2.0 2.0 0 1 0 3.9 0a2.0 2.0 0 1 0 -3.9 0M95.9 504.4a2.4 2.4 0 1 0 4.8 0a2.4 2.4 0 1 0 -4.8 0M98.9 507.1a1.6 1.6 0 1 0 3.3 0a1.6 1.6 0 1 0 -3.3 0M85.5 499.5a1.3 1.3 0 1 0 2.6 0a1.3 1.3 0 1 0 -2.6 0M131.2 500.3a2.2 2.2 0 1 0 4.4 0a2.2 2.2 0 1 0 -4.4 0M127.7 502.2a1.3 1.3 0 1 0 2.6 0a1.3 1.3 0 1 0 -2.6 0M100.2 519.7a3.1 3.1 0 1 0 6.1 0a3.1 3.1 0 1 0 -6.1 0M89.6 520.3a1.6 1.6 0 1 0 3.3 0a1.6 1.6 0 1 0 -3.3 0M95.3 525.2a2.0 2.0 0 1 0 3.9 0a2.0 2.0 0 1 0 -3.9 0M81.9 524.7a1.6 1.6 0 1 0 3.3 0a1.6 1.6 0 1 0 -3.3 0M118.2 528.3a2.0 2.0 0 1 0 3.9 0a2.0 2.0 0 1 0 -3.9 0M125.7 526.3a2.7 2.7 0 1 0 5.5 0a2.7 2.7 0 1 0 -5.5 0M132.8 530.1a2.7 2.7 0 1 0 5.5 0a2.7 2.7 0 1 0 -5.5 0M128.4 534.0a2.2 2.2 0 1 0 4.4 0a2.2 2.2 0 1 0 -4.4 0M131.4 537.8a2.0 2.0 0 1 0 3.9 0a2.0 2.0 0 1 0 -3.9 0M141.3 535.6a2.4 2.4 0 1 0 4.8 0a2.4 2.4 0 1 0 -4.8 0M141.6 523.0a1.6 1.6 0 1 0 3.3 0a1.6 1.6 0 1 0 -3.3 0M87.9 533.7a2.2 2.2 0 1 0 4.4 0a2.2 2.2 0 1 0 -4.4 0M114.4 541.4a2.0 2.0 0 1 0 3.9 0a2.0 2.0 0 1 0 -3.9 0M109.3 492.2a1.6 1.6 0 1 0 3.3 0a1.6 1.6 0 1 0 -3.3 0M80.6 538.9a1.3 1.3 0 1 0 2.6 0a1.3 1.3 0 1 0 -2.6 0M116.6 493.5a0.9 0.9 0 1 0 1.8 0a0.9 0.9 0 1 0 -1.8 0M126.0 555.8a1.3 1.3 0 1 0 2.6 0a1.3 1.3 0 1 0 -2.6 0M137.2 555.8a1.1 1.1 0 1 0 2.2 0a1.1 1.1 0 1 0 -2.2 0M113.9 554.7a0.9 0.9 0 1 0 1.8 0a0.9 0.9 0 1 0 -1.8 0" fill="#5A4A12"/>
<path d="M101.9 499.5a1.4 1.4 0 1 0 2.8 0a1.4 1.4 0 1 0 -2.8 0M96.6 504.4a1.7 1.7 0 1 0 3.4 0a1.7 1.7 0 1 0 -3.4 0M99.4 507.1a1.1 1.1 0 1 0 2.3 0a1.1 1.1 0 1 0 -2.3 0M85.9 499.5a0.9 0.9 0 1 0 1.8 0a0.9 0.9 0 1 0 -1.8 0M131.8 500.3a1.5 1.5 0 1 0 3.1 0a1.5 1.5 0 1 0 -3.1 0M128.1 502.2a0.9 0.9 0 1 0 1.8 0a0.9 0.9 0 1 0 -1.8 0M101.1 519.7a2.1 2.1 0 1 0 4.3 0a2.1 2.1 0 1 0 -4.3 0M90.1 520.3a1.1 1.1 0 1 0 2.3 0a1.1 1.1 0 1 0 -2.3 0M95.9 525.2a1.4 1.4 0 1 0 2.8 0a1.4 1.4 0 1 0 -2.8 0M82.4 524.7a1.1 1.1 0 1 0 2.3 0a1.1 1.1 0 1 0 -2.3 0M118.8 528.3a1.4 1.4 0 1 0 2.8 0a1.4 1.4 0 1 0 -2.8 0M126.5 526.3a1.9 1.9 0 1 0 3.8 0a1.9 1.9 0 1 0 -3.8 0M133.6 530.1a1.9 1.9 0 1 0 3.8 0a1.9 1.9 0 1 0 -3.8 0M129.1 534.0a1.5 1.5 0 1 0 3.1 0a1.5 1.5 0 1 0 -3.1 0M132.0 537.8a1.4 1.4 0 1 0 2.8 0a1.4 1.4 0 1 0 -2.8 0M142.1 535.6a1.7 1.7 0 1 0 3.4 0a1.7 1.7 0 1 0 -3.4 0M142.0 523.0a1.1 1.1 0 1 0 2.3 0a1.1 1.1 0 1 0 -2.3 0M88.6 533.7a1.5 1.5 0 1 0 3.1 0a1.5 1.5 0 1 0 -3.1 0M115.0 541.4a1.4 1.4 0 1 0 2.8 0a1.4 1.4 0 1 0 -2.8 0M109.8 492.2a1.1 1.1 0 1 0 2.3 0a1.1 1.1 0 1 0 -2.3 0M81.0 538.9a0.9 0.9 0 1 0 1.8 0a0.9 0.9 0 1 0 -1.8 0M116.9 493.5a0.6 0.6 0 1 0 1.2 0a0.6 0.6 0 1 0 -1.2 0M126.4 555.8a0.9 0.9 0 1 0 1.8 0a0.9 0.9 0 1 0 -1.8 0M137.5 555.8a0.8 0.8 0 1 0 1.5 0a0.8 0.8 0 1 0 -1.5 0M114.1 554.7a0.6 0.6 0 1 0 1.2 0a0.6 0.6 0 1 0 -1.2 0" fill="#5A7A16"/>
<path d="M86.0 492.2a2.0 2.0 0 1 0 3.9 0a2.0 2.0 0 1 0 -3.9 0M96.9 495.9a1.1 1.1 0 1 0 2.2 0a1.1 1.1 0 1 0 -2.2 0M111.1 502.0a2.0 2.0 0 1 0 3.9 0a2.0 2.0 0 1 0 -3.9 0M121.3 500.3a2.2 2.2 0 1 0 4.4 0a2.2 2.2 0 1 0 -4.4 0M133.9 512.1a2.7 2.7 0 1 0 5.5 0a2.7 2.7 0 1 0 -5.5 0M89.6 513.4a2.7 2.7 0 1 0 5.5 0a2.7 2.7 0 1 0 -5.5 0M80.8 517.5a3.3 3.3 0 1 0 6.6 0a3.3 3.3 0 1 0 -6.6 0M118.9 518.9a2.4 2.4 0 1 0 4.8 0a2.4 2.4 0 1 0 -4.8 0M126.0 519.7a3.5 3.5 0 1 0 7.0 0a3.5 3.5 0 1 0 -7.0 0M105.7 526.8a4.2 4.2 0 1 0 8.3 0a4.2 4.2 0 1 0 -8.3 0M92.3 530.1a3.3 3.3 0 1 0 6.6 0a3.3 3.3 0 1 0 -6.6 0M105.7 537.2a3.1 3.1 0 1 0 6.1 0a3.1 3.1 0 1 0 -6.1 0M121.3 537.2a2.7 2.7 0 1 0 5.5 0a2.7 2.7 0 1 0 -5.5 0M97.8 543.6a2.7 2.7 0 1 0 5.5 0a2.7 2.7 0 1 0 -5.5 0M138.1 543.3a3.5 3.5 0 1 0 7.0 0a3.5 3.5 0 1 0 -7.0 0M117.5 548.7a3.3 3.3 0 1 0 6.6 0a3.3 3.3 0 1 0 -6.6 0M102.2 553.6a3.3 3.3 0 1 0 6.6 0a3.3 3.3 0 1 0 -6.6 0M88.5 547.1a2.2 2.2 0 1 0 4.4 0a2.2 2.2 0 1 0 -4.4 0M85.8 540.7a1.6 1.6 0 1 0 3.3 0a1.6 1.6 0 1 0 -3.3 0M82.5 554.2a1.6 1.6 0 1 0 3.3 0a1.6 1.6 0 1 0 -3.3 0M124.4 544.9a1.3 1.3 0 1 0 2.6 0a1.3 1.3 0 1 0 -2.6 0M103.3 536.7a1.1 1.1 0 1 0 2.2 0a1.1 1.1 0 1 0 -2.2 0M94.5 556.4a1.6 1.6 0 1 0 3.3 0a1.6 1.6 0 1 0 -3.3 0" fill="#6A8A16"/>
<path d="M86.4 492.2a1.6 1.6 0 1 0 3.2 0a1.6 1.6 0 1 0 -3.2 0M97.1 495.9a0.9 0.9 0 1 0 1.8 0a0.9 0.9 0 1 0 -1.8 0M111.5 502.0a1.6 1.6 0 1 0 3.2 0a1.6 1.6 0 1 0 -3.2 0M121.7 500.3a1.8 1.8 0 1 0 3.5 0a1.8 1.8 0 1 0 -3.5 0M134.4 512.1a2.2 2.2 0 1 0 4.4 0a2.2 2.2 0 1 0 -4.4 0M90.1 513.4a2.2 2.2 0 1 0 4.4 0a2.2 2.2 0 1 0 -4.4 0M81.5 517.5a2.6 2.6 0 1 0 5.3 0a2.6 2.6 0 1 0 -5.3 0M119.4 518.9a1.9 1.9 0 1 0 3.9 0a1.9 1.9 0 1 0 -3.9 0M126.7 519.7a2.8 2.8 0 1 0 5.6 0a2.8 2.8 0 1 0 -5.6 0M106.5 526.8a3.3 3.3 0 1 0 6.7 0a3.3 3.3 0 1 0 -6.7 0M93.0 530.1a2.6 2.6 0 1 0 5.3 0a2.6 2.6 0 1 0 -5.3 0M106.3 537.2a2.5 2.5 0 1 0 4.9 0a2.5 2.5 0 1 0 -4.9 0M121.9 537.2a2.2 2.2 0 1 0 4.4 0a2.2 2.2 0 1 0 -4.4 0M98.3 543.6a2.2 2.2 0 1 0 4.4 0a2.2 2.2 0 1 0 -4.4 0M138.8 543.3a2.8 2.8 0 1 0 5.6 0a2.8 2.8 0 1 0 -5.6 0M118.1 548.7a2.6 2.6 0 1 0 5.3 0a2.6 2.6 0 1 0 -5.3 0M102.8 553.6a2.6 2.6 0 1 0 5.3 0a2.6 2.6 0 1 0 -5.3 0M88.9 547.1a1.8 1.8 0 1 0 3.5 0a1.8 1.8 0 1 0 -3.5 0M86.1 540.7a1.3 1.3 0 1 0 2.6 0a1.3 1.3 0 1 0 -2.6 0M82.8 554.2a1.3 1.3 0 1 0 2.6 0a1.3 1.3 0 1 0 -2.6 0M124.6 544.9a1.1 1.1 0 1 0 2.1 0a1.1 1.1 0 1 0 -2.1 0M103.5 536.7a0.9 0.9 0 1 0 1.8 0a0.9 0.9 0 1 0 -1.8 0M94.8 556.4a1.3 1.3 0 1 0 2.6 0a1.3 1.3 0 1 0 -2.6 0" fill="#62B41E"/>
<path d="M87.0 492.2a1.0 1.0 0 1 0 2.0 0a1.0 1.0 0 1 0 -2.0 0M97.5 495.9a0.5 0.5 0 1 0 1.1 0a0.5 0.5 0 1 0 -1.1 0M112.1 502.0a1.0 1.0 0 1 0 2.0 0a1.0 1.0 0 1 0 -2.0 0M122.4 500.3a1.1 1.1 0 1 0 2.2 0a1.1 1.1 0 1 0 -2.2 0M135.3 512.1a1.4 1.4 0 1 0 2.7 0a1.4 1.4 0 1 0 -2.7 0M90.9 513.4a1.4 1.4 0 1 0 2.7 0a1.4 1.4 0 1 0 -2.7 0M82.5 517.5a1.6 1.6 0 1 0 3.3 0a1.6 1.6 0 1 0 -3.3 0M120.1 518.9a1.2 1.2 0 1 0 2.4 0a1.2 1.2 0 1 0 -2.4 0M127.8 519.7a1.8 1.8 0 1 0 3.5 0a1.8 1.8 0 1 0 -3.5 0M107.7 526.8a2.1 2.1 0 1 0 4.2 0a2.1 2.1 0 1 0 -4.2 0M94.0 530.1a1.6 1.6 0 1 0 3.3 0a1.6 1.6 0 1 0 -3.3 0M107.2 537.2a1.5 1.5 0 1 0 3.1 0a1.5 1.5 0 1 0 -3.1 0M122.7 537.2a1.4 1.4 0 1 0 2.7 0a1.4 1.4 0 1 0 -2.7 0M99.2 543.6a1.4 1.4 0 1 0 2.7 0a1.4 1.4 0 1 0 -2.7 0M139.8 543.3a1.8 1.8 0 1 0 3.5 0a1.8 1.8 0 1 0 -3.5 0M119.1 548.7a1.6 1.6 0 1 0 3.3 0a1.6 1.6 0 1 0 -3.3 0M103.8 553.6a1.6 1.6 0 1 0 3.3 0a1.6 1.6 0 1 0 -3.3 0M89.6 547.1a1.1 1.1 0 1 0 2.2 0a1.1 1.1 0 1 0 -2.2 0M86.6 540.7a0.8 0.8 0 1 0 1.6 0a0.8 0.8 0 1 0 -1.6 0M83.3 554.2a0.8 0.8 0 1 0 1.6 0a0.8 0.8 0 1 0 -1.6 0M125.0 544.9a0.7 0.7 0 1 0 1.3 0a0.7 0.7 0 1 0 -1.3 0M103.8 536.7a0.5 0.5 0 1 0 1.1 0a0.5 0.5 0 1 0 -1.1 0M95.3 556.4a0.8 0.8 0 1 0 1.6 0a0.8 0.8 0 1 0 -1.6 0" fill="#74DC24"/>

</g></g>
<rect x="86.8" y="550.1" width="5.4" height="0.9" fill="#fff"/><rect x="88.1" y="547.9" width="3" height="1.2" fill="#aaa" opacity="0.6"/>
<rect x="153.1" y="490.7" width="65.8" height="65.7" fill="#030403"/>
<g clip-path="url(#cph3)">
<path d="M187.1 502.0a2.8 2.8 0 1 0 5.7 0a2.8 2.8 0 1 0 -5.7 0M162.5 505.5a2.6 2.6 0 1 0 5.1 0a2.6 2.6 0 1 0 -5.1 0M194.4 509.3a3.6 3.6 0 1 0 7.1 0a3.6 3.6 0 1 0 -7.1 0M209.8 507.7a2.6 2.6 0 1 0 5.1 0a2.6 2.6 0 1 0 -5.1 0M174.4 509.3a4.6 4.6 0 1 0 9.1 0a4.6 4.6 0 1 0 -9.1 0M173.1 513.7a3.1 3.1 0 1 0 6.3 0a3.1 3.1 0 1 0 -6.3 0M187.4 523.9a1.4 1.4 0 1 0 2.8 0a1.4 1.4 0 1 0 -2.8 0M190.4 511.5a1.1 1.1 0 1 0 2.3 0a1.1 1.1 0 1 0 -2.3 0M207.0 535.0a4.3 4.3 0 1 0 8.5 0a4.3 4.3 0 1 0 -8.5 0M193.7 538.9a2.8 2.8 0 1 0 5.7 0a2.8 2.8 0 1 0 -5.7 0M184.9 538.9a3.1 3.1 0 1 0 6.3 0a3.1 3.1 0 1 0 -6.3 0M165.9 539.2a2.1 2.1 0 1 0 4.3 0a2.1 2.1 0 1 0 -4.3 0M193.1 546.5a4.0 4.0 0 1 0 8.0 0a4.0 4.0 0 1 0 -8.0 0M196.1 552.0a3.1 3.1 0 1 0 6.3 0a3.1 3.1 0 1 0 -6.3 0M212.6 553.1a3.6 3.6 0 1 0 7.1 0a3.6 3.6 0 1 0 -7.1 0M161.1 549.3a4.3 4.3 0 1 0 8.5 0a4.3 4.3 0 1 0 -8.5 0M185.3 542.9a1.7 1.7 0 1 0 3.4 0a1.7 1.7 0 1 0 -3.4 0M215.3 548.7a1.4 1.4 0 1 0 2.8 0a1.4 1.4 0 1 0 -2.8 0M180.8 536.1a1.1 1.1 0 1 0 2.3 0a1.1 1.1 0 1 0 -2.3 0M164.2 494.0a5.0 5.0 0 1 0 10.0 0a5.0 5.0 0 1 0 -10.0 0M163.2 492.6a2.1 2.1 0 1 0 4.3 0a2.1 2.1 0 1 0 -4.3 0M197.4 495.9a3.1 3.1 0 1 0 6.3 0a3.1 3.1 0 1 0 -6.3 0M201.8 495.1a4.3 4.3 0 1 0 8.5 0a4.3 4.3 0 1 0 -8.5 0M212.4 492.6a2.1 2.1 0 1 0 4.3 0a2.1 2.1 0 1 0 -4.3 0M152.2 501.7a2.1 2.1 0 1 0 4.3 0a2.1 2.1 0 1 0 -4.3 0M175.0 501.1a2.1 2.1 0 1 0 4.3 0a2.1 2.1 0 1 0 -4.3 0M152.4 508.8a2.6 2.6 0 1 0 5.1 0a2.6 2.6 0 1 0 -5.1 0M190.4 520.3a5.0 5.0 0 1 0 10.0 0a5.0 5.0 0 1 0 -10.0 0M200.6 523.2a3.6 3.6 0 1 0 7.1 0a3.6 3.6 0 1 0 -7.1 0M172.8 525.7a4.0 4.0 0 1 0 8.0 0a4.0 4.0 0 1 0 -8.0 0M153.4 525.7a4.3 4.3 0 1 0 8.5 0a4.3 4.3 0 1 0 -8.5 0M214.1 522.5a2.8 2.8 0 1 0 5.7 0a2.8 2.8 0 1 0 -5.7 0M216.4 514.8a1.4 1.4 0 1 0 2.8 0a1.4 1.4 0 1 0 -2.8 0M152.1 535.0a2.8 2.8 0 1 0 5.7 0a2.8 2.8 0 1 0 -5.7 0M173.1 544.7a3.1 3.1 0 1 0 6.3 0a3.1 3.1 0 1 0 -6.3 0M152.4 547.6a2.6 2.6 0 1 0 5.1 0a2.6 2.6 0 1 0 -5.1 0M207.3 546.9a2.8 2.8 0 1 0 5.7 0a2.8 2.8 0 1 0 -5.7 0M188.3 547.1a2.1 2.1 0 1 0 4.3 0a2.1 2.1 0 1 0 -4.3 0M165.0 530.7a1.4 1.4 0 1 0 2.8 0a1.4 1.4 0 1 0 -2.8 0M168.8 535.6a1.4 1.4 0 1 0 2.8 0a1.4 1.4 0 1 0 -2.8 0M193.2 504.4a1.1 1.1 0 1 0 2.3 0a1.1 1.1 0 1 0 -2.3 0M200.0 532.3a1.4 1.4 0 1 0 2.8 0a1.4 1.4 0 1 0 -2.8 0" fill="#4A3A10" opacity="0.5" filter="url(#bl5)"/>
<g filter="url(#bl3)">
<path d="M165.3 494.0a3.8 3.8 0 1 0 7.7 0a3.8 3.8 0 1 0 -7.7 0M163.7 492.6a1.6 1.6 0 1 0 3.3 0a1.6 1.6 0 1 0 -3.3 0M198.1 495.9a2.4 2.4 0 1 0 4.8 0a2.4 2.4 0 1 0 -4.8 0M202.7 495.1a3.3 3.3 0 1 0 6.6 0a3.3 3.3 0 1 0 -6.6 0M212.9 492.6a1.6 1.6 0 1 0 3.3 0a1.6 1.6 0 1 0 -3.3 0M152.7 501.7a1.6 1.6 0 1 0 3.3 0a1.6 1.6 0 1 0 -3.3 0M175.5 501.1a1.6 1.6 0 1 0 3.3 0a1.6 1.6 0 1 0 -3.3 0M153.0 508.8a2.0 2.0 0 1 0 3.9 0a2.0 2.0 0 1 0 -3.9 0M191.6 520.3a3.8 3.8 0 1 0 7.7 0a3.8 3.8 0 1 0 -7.7 0M201.4 523.2a2.7 2.7 0 1 0 5.5 0a2.7 2.7 0 1 0 -5.5 0M173.7 525.7a3.1 3.1 0 1 0 6.1 0a3.1 3.1 0 1 0 -6.1 0M154.4 525.7a3.3 3.3 0 1 0 6.6 0a3.3 3.3 0 1 0 -6.6 0M214.8 522.5a2.2 2.2 0 1 0 4.4 0a2.2 2.2 0 1 0 -4.4 0M216.7 514.8a1.1 1.1 0 1 0 2.2 0a1.1 1.1 0 1 0 -2.2 0M152.7 535.0a2.2 2.2 0 1 0 4.4 0a2.2 2.2 0 1 0 -4.4 0M173.9 544.7a2.4 2.4 0 1 0 4.8 0a2.4 2.4 0 1 0 -4.8 0M153.0 547.6a2.0 2.0 0 1 0 3.9 0a2.0 2.0 0 1 0 -3.9 0M208.0 546.9a2.2 2.2 0 1 0 4.4 0a2.2 2.2 0 1 0 -4.4 0M188.8 547.1a1.6 1.6 0 1 0 3.3 0a1.6 1.6 0 1 0 -3.3 0M165.3 530.7a1.1 1.1 0 1 0 2.2 0a1.1 1.1 0 1 0 -2.2 0M169.1 535.6a1.1 1.1 0 1 0 2.2 0a1.1 1.1 0 1 0 -2.2 0M193.4 504.4a0.9 0.9 0 1 0 1.8 0a0.9 0.9 0 1 0 -1.8 0M200.3 532.3a1.1 1.1 0 1 0 2.2 0a1.1 1.1 0 1 0 -2.2 0" fill="#4A5212"/>
<path d="M166.5 494.0a2.7 2.7 0 1 0 5.4 0a2.7 2.7 0 1 0 -5.4 0M164.2 492.6a1.1 1.1 0 1 0 2.3 0a1.1 1.1 0 1 0 -2.3 0M198.9 495.9a1.7 1.7 0 1 0 3.4 0a1.7 1.7 0 1 0 -3.4 0M203.7 495.1a2.3 2.3 0 1 0 4.6 0a2.3 2.3 0 1 0 -4.6 0M213.4 492.6a1.1 1.1 0 1 0 2.3 0a1.1 1.1 0 1 0 -2.3 0M153.2 501.7a1.1 1.1 0 1 0 2.3 0a1.1 1.1 0 1 0 -2.3 0M176.0 501.1a1.1 1.1 0 1 0 2.3 0a1.1 1.1 0 1 0 -2.3 0M153.5 508.8a1.4 1.4 0 1 0 2.8 0a1.4 1.4 0 1 0 -2.8 0M192.7 520.3a2.7 2.7 0 1 0 5.4 0a2.7 2.7 0 1 0 -5.4 0M202.2 523.2a1.9 1.9 0 1 0 3.8 0a1.9 1.9 0 1 0 -3.8 0M174.7 525.7a2.1 2.1 0 1 0 4.3 0a2.1 2.1 0 1 0 -4.3 0M155.4 525.7a2.3 2.3 0 1 0 4.6 0a2.3 2.3 0 1 0 -4.6 0M215.4 522.5a1.5 1.5 0 1 0 3.1 0a1.5 1.5 0 1 0 -3.1 0M217.1 514.8a0.8 0.8 0 1 0 1.5 0a0.8 0.8 0 1 0 -1.5 0M153.4 535.0a1.5 1.5 0 1 0 3.1 0a1.5 1.5 0 1 0 -3.1 0M174.6 544.7a1.7 1.7 0 1 0 3.4 0a1.7 1.7 0 1 0 -3.4 0M153.5 547.6a1.4 1.4 0 1 0 2.8 0a1.4 1.4 0 1 0 -2.8 0M208.6 546.9a1.5 1.5 0 1 0 3.1 0a1.5 1.5 0 1 0 -3.1 0M189.3 547.1a1.1 1.1 0 1 0 2.3 0a1.1 1.1 0 1 0 -2.3 0M165.6 530.7a0.8 0.8 0 1 0 1.5 0a0.8 0.8 0 1 0 -1.5 0M169.5 535.6a0.8 0.8 0 1 0 1.5 0a0.8 0.8 0 1 0 -1.5 0M193.7 504.4a0.6 0.6 0 1 0 1.2 0a0.6 0.6 0 1 0 -1.2 0M200.7 532.3a0.8 0.8 0 1 0 1.5 0a0.8 0.8 0 1 0 -1.5 0" fill="#587E18"/>
<path d="M187.7 502.0a2.2 2.2 0 1 0 4.4 0a2.2 2.2 0 1 0 -4.4 0M163.1 505.5a2.0 2.0 0 1 0 3.9 0a2.0 2.0 0 1 0 -3.9 0M195.2 509.3a2.7 2.7 0 1 0 5.5 0a2.7 2.7 0 1 0 -5.5 0M210.4 507.7a2.0 2.0 0 1 0 3.9 0a2.0 2.0 0 1 0 -3.9 0M175.5 509.3a3.5 3.5 0 1 0 7.0 0a3.5 3.5 0 1 0 -7.0 0M173.9 513.7a2.4 2.4 0 1 0 4.8 0a2.4 2.4 0 1 0 -4.8 0M187.7 523.9a1.1 1.1 0 1 0 2.2 0a1.1 1.1 0 1 0 -2.2 0M190.7 511.5a0.9 0.9 0 1 0 1.8 0a0.9 0.9 0 1 0 -1.8 0M208.0 535.0a3.3 3.3 0 1 0 6.6 0a3.3 3.3 0 1 0 -6.6 0M194.3 538.9a2.2 2.2 0 1 0 4.4 0a2.2 2.2 0 1 0 -4.4 0M185.7 538.9a2.4 2.4 0 1 0 4.8 0a2.4 2.4 0 1 0 -4.8 0M166.4 539.2a1.6 1.6 0 1 0 3.3 0a1.6 1.6 0 1 0 -3.3 0M194.0 546.5a3.1 3.1 0 1 0 6.1 0a3.1 3.1 0 1 0 -6.1 0M196.8 552.0a2.4 2.4 0 1 0 4.8 0a2.4 2.4 0 1 0 -4.8 0M213.5 553.1a2.7 2.7 0 1 0 5.5 0a2.7 2.7 0 1 0 -5.5 0M162.0 549.3a3.3 3.3 0 1 0 6.6 0a3.3 3.3 0 1 0 -6.6 0M185.7 542.9a1.3 1.3 0 1 0 2.6 0a1.3 1.3 0 1 0 -2.6 0M215.6 548.7a1.1 1.1 0 1 0 2.2 0a1.1 1.1 0 1 0 -2.2 0M181.1 536.1a0.9 0.9 0 1 0 1.8 0a0.9 0.9 0 1 0 -1.8 0" fill="#5A8A16"/>
<path d="M188.2 502.0a1.8 1.8 0 1 0 3.5 0a1.8 1.8 0 1 0 -3.5 0M163.5 505.5a1.6 1.6 0 1 0 3.2 0a1.6 1.6 0 1 0 -3.2 0M195.7 509.3a2.2 2.2 0 1 0 4.4 0a2.2 2.2 0 1 0 -4.4 0M210.8 507.7a1.6 1.6 0 1 0 3.2 0a1.6 1.6 0 1 0 -3.2 0M176.2 509.3a2.8 2.8 0 1 0 5.6 0a2.8 2.8 0 1 0 -5.6 0M174.3 513.7a1.9 1.9 0 1 0 3.9 0a1.9 1.9 0 1 0 -3.9 0M188.0 523.9a0.9 0.9 0 1 0 1.8 0a0.9 0.9 0 1 0 -1.8 0M190.9 511.5a0.7 0.7 0 1 0 1.4 0a0.7 0.7 0 1 0 -1.4 0M208.6 535.0a2.6 2.6 0 1 0 5.3 0a2.6 2.6 0 1 0 -5.3 0M194.7 538.9a1.8 1.8 0 1 0 3.5 0a1.8 1.8 0 1 0 -3.5 0M186.1 538.9a1.9 1.9 0 1 0 3.9 0a1.9 1.9 0 1 0 -3.9 0M166.7 539.2a1.3 1.3 0 1 0 2.6 0a1.3 1.3 0 1 0 -2.6 0M194.6 546.5a2.5 2.5 0 1 0 4.9 0a2.5 2.5 0 1 0 -4.9 0M197.3 552.0a1.9 1.9 0 1 0 3.9 0a1.9 1.9 0 1 0 -3.9 0M214.0 553.1a2.2 2.2 0 1 0 4.4 0a2.2 2.2 0 1 0 -4.4 0M162.7 549.3a2.6 2.6 0 1 0 5.3 0a2.6 2.6 0 1 0 -5.3 0M185.9 542.9a1.1 1.1 0 1 0 2.1 0a1.1 1.1 0 1 0 -2.1 0M215.9 548.7a0.9 0.9 0 1 0 1.8 0a0.9 0.9 0 1 0 -1.8 0M181.2 536.1a0.7 0.7 0 1 0 1.4 0a0.7 0.7 0 1 0 -1.4 0" fill="#66BC1E"/>
<path d="M188.8 502.0a1.1 1.1 0 1 0 2.2 0a1.1 1.1 0 1 0 -2.2 0M164.1 505.5a1.0 1.0 0 1 0 2.0 0a1.0 1.0 0 1 0 -2.0 0M196.6 509.3a1.4 1.4 0 1 0 2.7 0a1.4 1.4 0 1 0 -2.7 0M211.4 507.7a1.0 1.0 0 1 0 2.0 0a1.0 1.0 0 1 0 -2.0 0M177.2 509.3a1.8 1.8 0 1 0 3.5 0a1.8 1.8 0 1 0 -3.5 0M175.1 513.7a1.2 1.2 0 1 0 2.4 0a1.2 1.2 0 1 0 -2.4 0M188.3 523.9a0.5 0.5 0 1 0 1.1 0a0.5 0.5 0 1 0 -1.1 0M191.1 511.5a0.4 0.4 0 1 0 0.9 0a0.4 0.4 0 1 0 -0.9 0M209.6 535.0a1.6 1.6 0 1 0 3.3 0a1.6 1.6 0 1 0 -3.3 0M195.4 538.9a1.1 1.1 0 1 0 2.2 0a1.1 1.1 0 1 0 -2.2 0M186.9 538.9a1.2 1.2 0 1 0 2.4 0a1.2 1.2 0 1 0 -2.4 0M167.2 539.2a0.8 0.8 0 1 0 1.6 0a0.8 0.8 0 1 0 -1.6 0M195.5 546.5a1.5 1.5 0 1 0 3.1 0a1.5 1.5 0 1 0 -3.1 0M198.0 552.0a1.2 1.2 0 1 0 2.4 0a1.2 1.2 0 1 0 -2.4 0M214.8 553.1a1.4 1.4 0 1 0 2.7 0a1.4 1.4 0 1 0 -2.7 0M163.7 549.3a1.6 1.6 0 1 0 3.3 0a1.6 1.6 0 1 0 -3.3 0M186.3 542.9a0.7 0.7 0 1 0 1.3 0a0.7 0.7 0 1 0 -1.3 0M216.2 548.7a0.5 0.5 0 1 0 1.1 0a0.5 0.5 0 1 0 -1.1 0M181.5 536.1a0.4 0.4 0 1 0 0.9 0a0.4 0.4 0 1 0 -0.9 0" fill="#7CE028"/>

</g></g>
<rect x="159.3" y="550.1" width="5.4" height="0.9" fill="#fff"/><rect x="160.6" y="547.9" width="3" height="1.2" fill="#aaa" opacity="0.6"/>
<rect x="7.8" y="564.8" width="65.7" height="65.8" fill="#030403"/>
<g clip-path="url(#cph4)">
<path d="M13.0 568.6a3.1 3.1 0 1 0 6.3 0a3.1 3.1 0 1 0 -6.3 0M34.8 574.3a3.6 3.6 0 1 0 7.1 0a3.6 3.6 0 1 0 -7.1 0M26.4 582.8a4.0 4.0 0 1 0 8.0 0a4.0 4.0 0 1 0 -8.0 0M48.4 566.6a3.1 3.1 0 1 0 6.3 0a3.1 3.1 0 1 0 -6.3 0M61.1 578.4a5.0 5.0 0 1 0 10.0 0a5.0 5.0 0 1 0 -10.0 0M60.4 589.4a4.3 4.3 0 1 0 8.5 0a4.3 4.3 0 1 0 -8.5 0M8.6 593.7a3.6 3.6 0 1 0 7.1 0a3.6 3.6 0 1 0 -7.1 0M12.7 599.0a2.1 2.1 0 1 0 4.3 0a2.1 2.1 0 1 0 -4.3 0M12.1 612.9a5.0 5.0 0 1 0 10.0 0a5.0 5.0 0 1 0 -10.0 0M19.9 616.7a3.1 3.1 0 1 0 6.3 0a3.1 3.1 0 1 0 -6.3 0M42.1 621.6a5.0 5.0 0 1 0 10.0 0a5.0 5.0 0 1 0 -10.0 0M46.3 615.6a3.6 3.6 0 1 0 7.1 0a3.6 3.6 0 1 0 -7.1 0M58.6 620.5a5.0 5.0 0 1 0 10.0 0a5.0 5.0 0 1 0 -10.0 0M65.1 612.3a2.8 2.8 0 1 0 5.7 0a2.8 2.8 0 1 0 -5.7 0M68.9 604.7a2.8 2.8 0 1 0 5.7 0a2.8 2.8 0 1 0 -5.7 0M18.2 606.6a2.1 2.1 0 1 0 4.3 0a2.1 2.1 0 1 0 -4.3 0M11.1 618.3a2.1 2.1 0 1 0 4.3 0a2.1 2.1 0 1 0 -4.3 0M39.5 598.1a2.1 2.1 0 1 0 4.3 0a2.1 2.1 0 1 0 -4.3 0M29.0 622.2a1.7 1.7 0 1 0 3.4 0a1.7 1.7 0 1 0 -3.4 0M33.9 629.8a1.7 1.7 0 1 0 3.4 0a1.7 1.7 0 1 0 -3.4 0M9.9 629.8a1.7 1.7 0 1 0 3.4 0a1.7 1.7 0 1 0 -3.4 0M64.0 585.0a1.7 1.7 0 1 0 3.4 0a1.7 1.7 0 1 0 -3.4 0M8.5 574.0a2.6 2.6 0 1 0 5.1 0a2.6 2.6 0 1 0 -5.1 0M28.1 575.1a3.1 3.1 0 1 0 6.3 0a3.1 3.1 0 1 0 -6.3 0M45.6 576.8a4.3 4.3 0 1 0 8.5 0a4.3 4.3 0 1 0 -8.5 0M54.0 580.6a3.6 3.6 0 1 0 7.1 0a3.6 3.6 0 1 0 -7.1 0M67.0 581.7a2.6 2.6 0 1 0 5.1 0a2.6 2.6 0 1 0 -5.1 0M20.7 595.4a4.6 4.6 0 1 0 9.1 0a4.6 4.6 0 1 0 -9.1 0M44.8 590.4a4.6 4.6 0 1 0 9.1 0a4.6 4.6 0 1 0 -9.1 0M51.0 589.9a2.1 2.1 0 1 0 4.3 0a2.1 2.1 0 1 0 -4.3 0M46.5 598.7a2.8 2.8 0 1 0 5.7 0a2.8 2.8 0 1 0 -5.7 0M61.2 597.6a2.8 2.8 0 1 0 5.7 0a2.8 2.8 0 1 0 -5.7 0M29.7 603.4a2.1 2.1 0 1 0 4.3 0a2.1 2.1 0 1 0 -4.3 0M39.6 606.9a2.6 2.6 0 1 0 5.1 0a2.6 2.6 0 1 0 -5.1 0M35.0 609.3a2.8 2.8 0 1 0 5.7 0a2.8 2.8 0 1 0 -5.7 0M31.7 615.1a4.0 4.0 0 1 0 8.0 0a4.0 4.0 0 1 0 -8.0 0M47.3 611.8a3.1 3.1 0 1 0 6.3 0a3.1 3.1 0 1 0 -6.3 0M65.9 616.7a3.1 3.1 0 1 0 6.3 0a3.1 3.1 0 1 0 -6.3 0M7.3 609.6a3.1 3.1 0 1 0 6.3 0a3.1 3.1 0 1 0 -6.3 0M12.8 606.3a2.6 2.6 0 1 0 5.1 0a2.6 2.6 0 1 0 -5.1 0M20.0 583.3a1.4 1.4 0 1 0 2.8 0a1.4 1.4 0 1 0 -2.8 0M51.2 583.3a1.4 1.4 0 1 0 2.8 0a1.4 1.4 0 1 0 -2.8 0M7.4 586.1a1.4 1.4 0 1 0 2.8 0a1.4 1.4 0 1 0 -2.8 0M40.5 601.9a1.7 1.7 0 1 0 3.4 0a1.7 1.7 0 1 0 -3.4 0M66.2 600.8a1.1 1.1 0 1 0 2.3 0a1.1 1.1 0 1 0 -2.3 0" fill="#145214" opacity="0.45" filter="url(#bl5)"/>
<g filter="url(#bl3)">
<path d="M9.0 574.0a2.0 2.0 0 1 0 3.9 0a2.0 2.0 0 1 0 -3.9 0M28.9 575.1a2.4 2.4 0 1 0 4.8 0a2.4 2.4 0 1 0 -4.8 0M46.6 576.8a3.3 3.3 0 1 0 6.6 0a3.3 3.3 0 1 0 -6.6 0M54.8 580.6a2.7 2.7 0 1 0 5.5 0a2.7 2.7 0 1 0 -5.5 0M67.6 581.7a2.0 2.0 0 1 0 3.9 0a2.0 2.0 0 1 0 -3.9 0M21.7 595.4a3.5 3.5 0 1 0 7.0 0a3.5 3.5 0 1 0 -7.0 0M45.8 590.4a3.5 3.5 0 1 0 7.0 0a3.5 3.5 0 1 0 -7.0 0M51.5 589.9a1.6 1.6 0 1 0 3.3 0a1.6 1.6 0 1 0 -3.3 0M47.1 598.7a2.2 2.2 0 1 0 4.4 0a2.2 2.2 0 1 0 -4.4 0M61.9 597.6a2.2 2.2 0 1 0 4.4 0a2.2 2.2 0 1 0 -4.4 0M30.2 603.4a1.6 1.6 0 1 0 3.3 0a1.6 1.6 0 1 0 -3.3 0M40.2 606.9a2.0 2.0 0 1 0 3.9 0a2.0 2.0 0 1 0 -3.9 0M35.6 609.3a2.2 2.2 0 1 0 4.4 0a2.2 2.2 0 1 0 -4.4 0M32.6 615.1a3.1 3.1 0 1 0 6.1 0a3.1 3.1 0 1 0 -6.1 0M48.0 611.8a2.4 2.4 0 1 0 4.8 0a2.4 2.4 0 1 0 -4.8 0M66.6 616.7a2.4 2.4 0 1 0 4.8 0a2.4 2.4 0 1 0 -4.8 0M8.1 609.6a2.4 2.4 0 1 0 4.8 0a2.4 2.4 0 1 0 -4.8 0M13.4 606.3a2.0 2.0 0 1 0 3.9 0a2.0 2.0 0 1 0 -3.9 0M20.3 583.3a1.1 1.1 0 1 0 2.2 0a1.1 1.1 0 1 0 -2.2 0M51.5 583.3a1.1 1.1 0 1 0 2.2 0a1.1 1.1 0 1 0 -2.2 0M7.7 586.1a1.1 1.1 0 1 0 2.2 0a1.1 1.1 0 1 0 -2.2 0M40.9 601.9a1.3 1.3 0 1 0 2.6 0a1.3 1.3 0 1 0 -2.6 0M66.5 600.8a0.9 0.9 0 1 0 1.8 0a0.9 0.9 0 1 0 -1.8 0" fill="#165E14"/>
<path d="M9.6 574.0a1.4 1.4 0 1 0 2.8 0a1.4 1.4 0 1 0 -2.8 0M29.6 575.1a1.7 1.7 0 1 0 3.4 0a1.7 1.7 0 1 0 -3.4 0M47.6 576.8a2.3 2.3 0 1 0 4.6 0a2.3 2.3 0 1 0 -4.6 0M55.6 580.6a1.9 1.9 0 1 0 3.8 0a1.9 1.9 0 1 0 -3.8 0M68.2 581.7a1.4 1.4 0 1 0 2.8 0a1.4 1.4 0 1 0 -2.8 0M22.8 595.4a2.5 2.5 0 1 0 4.9 0a2.5 2.5 0 1 0 -4.9 0M46.9 590.4a2.5 2.5 0 1 0 4.9 0a2.5 2.5 0 1 0 -4.9 0M52.0 589.9a1.1 1.1 0 1 0 2.3 0a1.1 1.1 0 1 0 -2.3 0M47.8 598.7a1.5 1.5 0 1 0 3.1 0a1.5 1.5 0 1 0 -3.1 0M62.5 597.6a1.5 1.5 0 1 0 3.1 0a1.5 1.5 0 1 0 -3.1 0M30.7 603.4a1.1 1.1 0 1 0 2.3 0a1.1 1.1 0 1 0 -2.3 0M40.8 606.9a1.4 1.4 0 1 0 2.8 0a1.4 1.4 0 1 0 -2.8 0M36.3 609.3a1.5 1.5 0 1 0 3.1 0a1.5 1.5 0 1 0 -3.1 0M33.5 615.1a2.1 2.1 0 1 0 4.3 0a2.1 2.1 0 1 0 -4.3 0M48.7 611.8a1.7 1.7 0 1 0 3.4 0a1.7 1.7 0 1 0 -3.4 0M67.3 616.7a1.7 1.7 0 1 0 3.4 0a1.7 1.7 0 1 0 -3.4 0M8.8 609.6a1.7 1.7 0 1 0 3.4 0a1.7 1.7 0 1 0 -3.4 0M14.0 606.3a1.4 1.4 0 1 0 2.8 0a1.4 1.4 0 1 0 -2.8 0M20.6 583.3a0.8 0.8 0 1 0 1.5 0a0.8 0.8 0 1 0 -1.5 0M51.8 583.3a0.8 0.8 0 1 0 1.5 0a0.8 0.8 0 1 0 -1.5 0M8.1 586.1a0.8 0.8 0 1 0 1.5 0a0.8 0.8 0 1 0 -1.5 0M41.3 601.9a0.9 0.9 0 1 0 1.8 0a0.9 0.9 0 1 0 -1.8 0M66.8 600.8a0.6 0.6 0 1 0 1.2 0a0.6 0.6 0 1 0 -1.2 0" fill="#228A1E"/>
<path d="M13.8 568.6a2.4 2.4 0 1 0 4.8 0a2.4 2.4 0 1 0 -4.8 0M35.6 574.3a2.7 2.7 0 1 0 5.5 0a2.7 2.7 0 1 0 -5.5 0M27.3 582.8a3.1 3.1 0 1 0 6.1 0a3.1 3.1 0 1 0 -6.1 0M49.1 566.6a2.4 2.4 0 1 0 4.8 0a2.4 2.4 0 1 0 -4.8 0M62.2 578.4a3.8 3.8 0 1 0 7.7 0a3.8 3.8 0 1 0 -7.7 0M61.3 589.4a3.3 3.3 0 1 0 6.6 0a3.3 3.3 0 1 0 -6.6 0M9.4 593.7a2.7 2.7 0 1 0 5.5 0a2.7 2.7 0 1 0 -5.5 0M13.2 599.0a1.6 1.6 0 1 0 3.3 0a1.6 1.6 0 1 0 -3.3 0M13.2 612.9a3.8 3.8 0 1 0 7.7 0a3.8 3.8 0 1 0 -7.7 0M20.6 616.7a2.4 2.4 0 1 0 4.8 0a2.4 2.4 0 1 0 -4.8 0M43.3 621.6a3.8 3.8 0 1 0 7.7 0a3.8 3.8 0 1 0 -7.7 0M47.1 615.6a2.7 2.7 0 1 0 5.5 0a2.7 2.7 0 1 0 -5.5 0M59.7 620.5a3.8 3.8 0 1 0 7.7 0a3.8 3.8 0 1 0 -7.7 0M65.7 612.3a2.2 2.2 0 1 0 4.4 0a2.2 2.2 0 1 0 -4.4 0M69.6 604.7a2.2 2.2 0 1 0 4.4 0a2.2 2.2 0 1 0 -4.4 0M18.7 606.6a1.6 1.6 0 1 0 3.3 0a1.6 1.6 0 1 0 -3.3 0M11.6 618.3a1.6 1.6 0 1 0 3.3 0a1.6 1.6 0 1 0 -3.3 0M40.0 598.1a1.6 1.6 0 1 0 3.3 0a1.6 1.6 0 1 0 -3.3 0M29.4 622.2a1.3 1.3 0 1 0 2.6 0a1.3 1.3 0 1 0 -2.6 0M34.3 629.8a1.3 1.3 0 1 0 2.6 0a1.3 1.3 0 1 0 -2.6 0M10.3 629.8a1.3 1.3 0 1 0 2.6 0a1.3 1.3 0 1 0 -2.6 0M64.4 585.0a1.3 1.3 0 1 0 2.6 0a1.3 1.3 0 1 0 -2.6 0" fill="#1E9A1A"/>
<path d="M14.2 568.6a1.9 1.9 0 1 0 3.9 0a1.9 1.9 0 1 0 -3.9 0M36.2 574.3a2.2 2.2 0 1 0 4.4 0a2.2 2.2 0 1 0 -4.4 0M27.9 582.8a2.5 2.5 0 1 0 4.9 0a2.5 2.5 0 1 0 -4.9 0M49.6 566.6a1.9 1.9 0 1 0 3.9 0a1.9 1.9 0 1 0 -3.9 0M63.0 578.4a3.1 3.1 0 1 0 6.1 0a3.1 3.1 0 1 0 -6.1 0M62.0 589.4a2.6 2.6 0 1 0 5.3 0a2.6 2.6 0 1 0 -5.3 0M9.9 593.7a2.2 2.2 0 1 0 4.4 0a2.2 2.2 0 1 0 -4.4 0M13.5 599.0a1.3 1.3 0 1 0 2.6 0a1.3 1.3 0 1 0 -2.6 0M14.0 612.9a3.1 3.1 0 1 0 6.1 0a3.1 3.1 0 1 0 -6.1 0M21.1 616.7a1.9 1.9 0 1 0 3.9 0a1.9 1.9 0 1 0 -3.9 0M44.1 621.6a3.1 3.1 0 1 0 6.1 0a3.1 3.1 0 1 0 -6.1 0M47.7 615.6a2.2 2.2 0 1 0 4.4 0a2.2 2.2 0 1 0 -4.4 0M60.5 620.5a3.1 3.1 0 1 0 6.1 0a3.1 3.1 0 1 0 -6.1 0M66.2 612.3a1.8 1.8 0 1 0 3.5 0a1.8 1.8 0 1 0 -3.5 0M70.0 604.7a1.8 1.8 0 1 0 3.5 0a1.8 1.8 0 1 0 -3.5 0M19.0 606.6a1.3 1.3 0 1 0 2.6 0a1.3 1.3 0 1 0 -2.6 0M11.9 618.3a1.3 1.3 0 1 0 2.6 0a1.3 1.3 0 1 0 -2.6 0M40.3 598.1a1.3 1.3 0 1 0 2.6 0a1.3 1.3 0 1 0 -2.6 0M29.7 622.2a1.1 1.1 0 1 0 2.1 0a1.1 1.1 0 1 0 -2.1 0M34.6 629.8a1.1 1.1 0 1 0 2.1 0a1.1 1.1 0 1 0 -2.1 0M10.5 629.8a1.1 1.1 0 1 0 2.1 0a1.1 1.1 0 1 0 -2.1 0M64.7 585.0a1.1 1.1 0 1 0 2.1 0a1.1 1.1 0 1 0 -2.1 0" fill="#2CC424"/>
<path d="M15.0 568.6a1.2 1.2 0 1 0 2.4 0a1.2 1.2 0 1 0 -2.4 0M37.0 574.3a1.4 1.4 0 1 0 2.7 0a1.4 1.4 0 1 0 -2.7 0M28.9 582.8a1.5 1.5 0 1 0 3.1 0a1.5 1.5 0 1 0 -3.1 0M50.3 566.6a1.2 1.2 0 1 0 2.4 0a1.2 1.2 0 1 0 -2.4 0M64.1 578.4a1.9 1.9 0 1 0 3.8 0a1.9 1.9 0 1 0 -3.8 0M63.0 589.4a1.6 1.6 0 1 0 3.3 0a1.6 1.6 0 1 0 -3.3 0M10.7 593.7a1.4 1.4 0 1 0 2.7 0a1.4 1.4 0 1 0 -2.7 0M14.0 599.0a0.8 0.8 0 1 0 1.6 0a0.8 0.8 0 1 0 -1.6 0M15.1 612.9a1.9 1.9 0 1 0 3.8 0a1.9 1.9 0 1 0 -3.8 0M21.8 616.7a1.2 1.2 0 1 0 2.4 0a1.2 1.2 0 1 0 -2.4 0M45.2 621.6a1.9 1.9 0 1 0 3.8 0a1.9 1.9 0 1 0 -3.8 0M48.5 615.6a1.4 1.4 0 1 0 2.7 0a1.4 1.4 0 1 0 -2.7 0M61.6 620.5a1.9 1.9 0 1 0 3.8 0a1.9 1.9 0 1 0 -3.8 0M66.8 612.3a1.1 1.1 0 1 0 2.2 0a1.1 1.1 0 1 0 -2.2 0M70.6 604.7a1.1 1.1 0 1 0 2.2 0a1.1 1.1 0 1 0 -2.2 0M19.5 606.6a0.8 0.8 0 1 0 1.6 0a0.8 0.8 0 1 0 -1.6 0M12.4 618.3a0.8 0.8 0 1 0 1.6 0a0.8 0.8 0 1 0 -1.6 0M40.8 598.1a0.8 0.8 0 1 0 1.6 0a0.8 0.8 0 1 0 -1.6 0M30.1 622.2a0.7 0.7 0 1 0 1.3 0a0.7 0.7 0 1 0 -1.3 0M35.0 629.8a0.7 0.7 0 1 0 1.3 0a0.7 0.7 0 1 0 -1.3 0M10.9 629.8a0.7 0.7 0 1 0 1.3 0a0.7 0.7 0 1 0 -1.3 0M65.1 585.0a0.7 0.7 0 1 0 1.3 0a0.7 0.7 0 1 0 -1.3 0" fill="#44E838"/>

</g></g>
<rect x="14.0" y="624.2" width="5.4" height="0.9" fill="#fff"/><rect x="15.3" y="622.0" width="3" height="1.2" fill="#aaa" opacity="0.6"/>
<rect x="80.6" y="564.8" width="65.4" height="65.8" fill="#030403"/>
<g clip-path="url(#cph5)">
<path d="M86.3 567.3a1.6 1.6 0 1 0 3.2 0a1.6 1.6 0 1 0 -3.2 0M97.5 568.8a3.8 3.8 0 1 0 7.6 0a3.8 3.8 0 1 0 -7.6 0M106.3 571.6a3.0 3.0 0 1 0 5.9 0a3.0 3.0 0 1 0 -5.9 0M110.4 567.5a1.6 1.6 0 1 0 3.2 0a1.6 1.6 0 1 0 -3.2 0M113.7 572.7a1.6 1.6 0 1 0 3.2 0a1.6 1.6 0 1 0 -3.2 0M118.0 572.1a1.1 1.1 0 1 0 2.2 0a1.1 1.1 0 1 0 -2.2 0M123.8 566.9a2.4 2.4 0 1 0 4.9 0a2.4 2.4 0 1 0 -4.9 0M127.1 568.8a3.0 3.0 0 1 0 5.9 0a3.0 3.0 0 1 0 -5.9 0M132.6 572.4a3.0 3.0 0 1 0 5.9 0a3.0 3.0 0 1 0 -5.9 0M95.9 574.0a2.4 2.4 0 1 0 4.9 0a2.4 2.4 0 1 0 -4.9 0M101.0 576.0a2.0 2.0 0 1 0 4.1 0a2.0 2.0 0 1 0 -4.1 0M90.3 577.9a2.0 2.0 0 1 0 4.1 0a2.0 2.0 0 1 0 -4.1 0M78.5 581.1a3.4 3.4 0 1 0 6.8 0a3.4 3.4 0 1 0 -6.8 0M90.2 581.5a2.7 2.7 0 1 0 5.4 0a2.7 2.7 0 1 0 -5.4 0M94.3 580.6a2.4 2.4 0 1 0 4.9 0a2.4 2.4 0 1 0 -4.9 0M102.2 580.1a2.7 2.7 0 1 0 5.4 0a2.7 2.7 0 1 0 -5.4 0M121.2 577.9a3.4 3.4 0 1 0 6.8 0a3.4 3.4 0 1 0 -6.8 0M133.8 581.5a3.4 3.4 0 1 0 6.8 0a3.4 3.4 0 1 0 -6.8 0M140.8 585.0a2.4 2.4 0 1 0 4.9 0a2.4 2.4 0 1 0 -4.9 0M124.8 584.8a2.0 2.0 0 1 0 4.1 0a2.0 2.0 0 1 0 -4.1 0M99.7 585.5a2.7 2.7 0 1 0 5.4 0a2.7 2.7 0 1 0 -5.4 0M93.7 587.7a4.1 4.1 0 1 0 8.1 0a4.1 4.1 0 1 0 -8.1 0M95.9 591.0a3.0 3.0 0 1 0 5.9 0a3.0 3.0 0 1 0 -5.9 0M87.6 589.4a1.6 1.6 0 1 0 3.2 0a1.6 1.6 0 1 0 -3.2 0M82.1 591.8a2.0 2.0 0 1 0 4.1 0a2.0 2.0 0 1 0 -4.1 0M88.6 593.7a2.4 2.4 0 1 0 4.9 0a2.4 2.4 0 1 0 -4.9 0M118.3 587.2a3.8 3.8 0 1 0 7.6 0a3.8 3.8 0 1 0 -7.6 0M113.2 589.4a3.8 3.8 0 1 0 7.6 0a3.8 3.8 0 1 0 -7.6 0M117.5 591.0a2.7 2.7 0 1 0 5.4 0a2.7 2.7 0 1 0 -5.4 0M135.8 590.7a2.4 2.4 0 1 0 4.9 0a2.4 2.4 0 1 0 -4.9 0M107.1 594.8a2.7 2.7 0 1 0 5.4 0a2.7 2.7 0 1 0 -5.4 0M110.1 597.0a2.4 2.4 0 1 0 4.9 0a2.4 2.4 0 1 0 -4.9 0M135.8 596.8a3.0 3.0 0 1 0 5.9 0a3.0 3.0 0 1 0 -5.9 0M142.7 598.1a1.6 1.6 0 1 0 3.2 0a1.6 1.6 0 1 0 -3.2 0M101.6 597.2a1.1 1.1 0 1 0 2.2 0a1.1 1.1 0 1 0 -2.2 0M131.4 594.8a0.8 0.8 0 1 0 1.6 0a0.8 0.8 0 1 0 -1.6 0M90.1 600.8a1.6 1.6 0 1 0 3.2 0a1.6 1.6 0 1 0 -3.2 0M129.0 602.3a1.6 1.6 0 1 0 3.2 0a1.6 1.6 0 1 0 -3.2 0M123.5 603.4a1.1 1.1 0 1 0 2.2 0a1.1 1.1 0 1 0 -2.2 0M94.3 606.0a3.0 3.0 0 1 0 5.9 0a3.0 3.0 0 1 0 -5.9 0M98.6 605.2a3.0 3.0 0 1 0 5.9 0a3.0 3.0 0 1 0 -5.9 0M91.4 608.0a2.0 2.0 0 1 0 4.1 0a2.0 2.0 0 1 0 -4.1 0M84.8 607.7a2.0 2.0 0 1 0 4.1 0a2.0 2.0 0 1 0 -4.1 0M115.5 606.0a2.0 2.0 0 1 0 4.1 0a2.0 2.0 0 1 0 -4.1 0M119.2 606.3a2.4 2.4 0 1 0 4.9 0a2.4 2.4 0 1 0 -4.9 0M120.4 609.9a2.0 2.0 0 1 0 4.1 0a2.0 2.0 0 1 0 -4.1 0M127.3 608.8a1.6 1.6 0 1 0 3.2 0a1.6 1.6 0 1 0 -3.2 0M134.6 605.2a2.0 2.0 0 1 0 4.1 0a2.0 2.0 0 1 0 -4.1 0M133.1 608.5a2.4 2.4 0 1 0 4.9 0a2.4 2.4 0 1 0 -4.9 0M80.3 611.8a1.6 1.6 0 1 0 3.2 0a1.6 1.6 0 1 0 -3.2 0M84.4 613.4a1.4 1.4 0 1 0 2.7 0a1.4 1.4 0 1 0 -2.7 0M116.4 612.9a2.7 2.7 0 1 0 5.4 0a2.7 2.7 0 1 0 -5.4 0M135.0 612.3a1.6 1.6 0 1 0 3.2 0a1.6 1.6 0 1 0 -3.2 0M135.0 615.6a1.6 1.6 0 1 0 3.2 0a1.6 1.6 0 1 0 -3.2 0M96.2 615.6a4.3 4.3 0 1 0 8.6 0a4.3 4.3 0 1 0 -8.6 0M86.3 616.2a2.7 2.7 0 1 0 5.4 0a2.7 2.7 0 1 0 -5.4 0M107.7 614.3a2.7 2.7 0 1 0 5.4 0a2.7 2.7 0 1 0 -5.4 0M117.8 620.5a2.4 2.4 0 1 0 4.9 0a2.4 2.4 0 1 0 -4.9 0M106.3 621.6a3.0 3.0 0 1 0 5.9 0a3.0 3.0 0 1 0 -5.9 0M100.8 623.1a3.0 3.0 0 1 0 5.9 0a3.0 3.0 0 1 0 -5.9 0M125.2 622.2a1.6 1.6 0 1 0 3.2 0a1.6 1.6 0 1 0 -3.2 0M132.4 623.1a2.0 2.0 0 1 0 4.1 0a2.0 2.0 0 1 0 -4.1 0M129.0 624.6a1.6 1.6 0 1 0 3.2 0a1.6 1.6 0 1 0 -3.2 0M137.1 624.4a3.4 3.4 0 1 0 6.8 0a3.4 3.4 0 1 0 -6.8 0M110.0 626.0a2.0 2.0 0 1 0 4.1 0a2.0 2.0 0 1 0 -4.1 0M107.9 626.6a1.4 1.4 0 1 0 2.7 0a1.4 1.4 0 1 0 -2.7 0M80.4 626.6a2.0 2.0 0 1 0 4.1 0a2.0 2.0 0 1 0 -4.1 0M135.6 627.6a1.6 1.6 0 1 0 3.2 0a1.6 1.6 0 1 0 -3.2 0M143.8 621.1a1.1 1.1 0 1 0 2.2 0a1.1 1.1 0 1 0 -2.2 0" fill="#145214" opacity="0.4" filter="url(#bl5)"/>
<g filter="url(#bl3)">
<path d="M86.7 567.3a1.2 1.2 0 1 0 2.5 0a1.2 1.2 0 1 0 -2.5 0M98.4 568.8a2.9 2.9 0 1 0 5.8 0a2.9 2.9 0 1 0 -5.8 0M107.0 571.6a2.3 2.3 0 1 0 4.6 0a2.3 2.3 0 1 0 -4.6 0M110.8 567.5a1.2 1.2 0 1 0 2.5 0a1.2 1.2 0 1 0 -2.5 0M114.0 572.7a1.2 1.2 0 1 0 2.5 0a1.2 1.2 0 1 0 -2.5 0M118.3 572.1a0.8 0.8 0 1 0 1.7 0a0.8 0.8 0 1 0 -1.7 0M124.4 566.9a1.9 1.9 0 1 0 3.7 0a1.9 1.9 0 1 0 -3.7 0M127.8 568.8a2.3 2.3 0 1 0 4.6 0a2.3 2.3 0 1 0 -4.6 0M133.2 572.4a2.3 2.3 0 1 0 4.6 0a2.3 2.3 0 1 0 -4.6 0M96.5 574.0a1.9 1.9 0 1 0 3.7 0a1.9 1.9 0 1 0 -3.7 0M101.5 576.0a1.6 1.6 0 1 0 3.1 0a1.6 1.6 0 1 0 -3.1 0M90.8 577.9a1.6 1.6 0 1 0 3.1 0a1.6 1.6 0 1 0 -3.1 0M79.3 581.1a2.6 2.6 0 1 0 5.2 0a2.6 2.6 0 1 0 -5.2 0M90.8 581.5a2.1 2.1 0 1 0 4.2 0a2.1 2.1 0 1 0 -4.2 0M94.8 580.6a1.9 1.9 0 1 0 3.7 0a1.9 1.9 0 1 0 -3.7 0M102.8 580.1a2.1 2.1 0 1 0 4.2 0a2.1 2.1 0 1 0 -4.2 0M122.0 577.9a2.6 2.6 0 1 0 5.2 0a2.6 2.6 0 1 0 -5.2 0M134.6 581.5a2.6 2.6 0 1 0 5.2 0a2.6 2.6 0 1 0 -5.2 0M141.3 585.0a1.9 1.9 0 1 0 3.7 0a1.9 1.9 0 1 0 -3.7 0M125.2 584.8a1.6 1.6 0 1 0 3.1 0a1.6 1.6 0 1 0 -3.1 0M100.3 585.5a2.1 2.1 0 1 0 4.2 0a2.1 2.1 0 1 0 -4.2 0M94.7 587.7a3.1 3.1 0 1 0 6.2 0a3.1 3.1 0 1 0 -6.2 0M96.6 591.0a2.3 2.3 0 1 0 4.6 0a2.3 2.3 0 1 0 -4.6 0M88.0 589.4a1.2 1.2 0 1 0 2.5 0a1.2 1.2 0 1 0 -2.5 0M82.6 591.8a1.6 1.6 0 1 0 3.1 0a1.6 1.6 0 1 0 -3.1 0M89.1 593.7a1.9 1.9 0 1 0 3.7 0a1.9 1.9 0 1 0 -3.7 0M119.2 587.2a2.9 2.9 0 1 0 5.8 0a2.9 2.9 0 1 0 -5.8 0M114.0 589.4a2.9 2.9 0 1 0 5.8 0a2.9 2.9 0 1 0 -5.8 0M118.1 591.0a2.1 2.1 0 1 0 4.2 0a2.1 2.1 0 1 0 -4.2 0M136.4 590.7a1.9 1.9 0 1 0 3.7 0a1.9 1.9 0 1 0 -3.7 0M107.7 594.8a2.1 2.1 0 1 0 4.2 0a2.1 2.1 0 1 0 -4.2 0M110.7 597.0a1.9 1.9 0 1 0 3.7 0a1.9 1.9 0 1 0 -3.7 0M136.5 596.8a2.3 2.3 0 1 0 4.6 0a2.3 2.3 0 1 0 -4.6 0M143.0 598.1a1.2 1.2 0 1 0 2.5 0a1.2 1.2 0 1 0 -2.5 0M101.9 597.2a0.8 0.8 0 1 0 1.7 0a0.8 0.8 0 1 0 -1.7 0M131.6 594.8a0.6 0.6 0 1 0 1.2 0a0.6 0.6 0 1 0 -1.2 0M90.5 600.8a1.2 1.2 0 1 0 2.5 0a1.2 1.2 0 1 0 -2.5 0M129.4 602.3a1.2 1.2 0 1 0 2.5 0a1.2 1.2 0 1 0 -2.5 0M123.8 603.4a0.8 0.8 0 1 0 1.7 0a0.8 0.8 0 1 0 -1.7 0M95.0 606.0a2.3 2.3 0 1 0 4.6 0a2.3 2.3 0 1 0 -4.6 0M99.3 605.2a2.3 2.3 0 1 0 4.6 0a2.3 2.3 0 1 0 -4.6 0M91.9 608.0a1.6 1.6 0 1 0 3.1 0a1.6 1.6 0 1 0 -3.1 0M85.3 607.7a1.6 1.6 0 1 0 3.1 0a1.6 1.6 0 1 0 -3.1 0M115.9 606.0a1.6 1.6 0 1 0 3.1 0a1.6 1.6 0 1 0 -3.1 0M119.8 606.3a1.9 1.9 0 1 0 3.7 0a1.9 1.9 0 1 0 -3.7 0M120.8 609.9a1.6 1.6 0 1 0 3.1 0a1.6 1.6 0 1 0 -3.1 0M127.7 608.8a1.2 1.2 0 1 0 2.5 0a1.2 1.2 0 1 0 -2.5 0M135.1 605.2a1.6 1.6 0 1 0 3.1 0a1.6 1.6 0 1 0 -3.1 0M133.7 608.5a1.9 1.9 0 1 0 3.7 0a1.9 1.9 0 1 0 -3.7 0M80.7 611.8a1.2 1.2 0 1 0 2.5 0a1.2 1.2 0 1 0 -2.5 0M84.7 613.4a1.0 1.0 0 1 0 2.1 0a1.0 1.0 0 1 0 -2.1 0M117.0 612.9a2.1 2.1 0 1 0 4.2 0a2.1 2.1 0 1 0 -4.2 0M135.4 612.3a1.2 1.2 0 1 0 2.5 0a1.2 1.2 0 1 0 -2.5 0M135.4 615.6a1.2 1.2 0 1 0 2.5 0a1.2 1.2 0 1 0 -2.5 0M97.2 615.6a3.3 3.3 0 1 0 6.7 0a3.3 3.3 0 1 0 -6.7 0M87.0 616.2a2.1 2.1 0 1 0 4.2 0a2.1 2.1 0 1 0 -4.2 0M108.3 614.3a2.1 2.1 0 1 0 4.2 0a2.1 2.1 0 1 0 -4.2 0M118.3 620.5a1.9 1.9 0 1 0 3.7 0a1.9 1.9 0 1 0 -3.7 0M107.0 621.6a2.3 2.3 0 1 0 4.6 0a2.3 2.3 0 1 0 -4.6 0M101.5 623.1a2.3 2.3 0 1 0 4.6 0a2.3 2.3 0 1 0 -4.6 0M125.5 622.2a1.2 1.2 0 1 0 2.5 0a1.2 1.2 0 1 0 -2.5 0M132.9 623.1a1.6 1.6 0 1 0 3.1 0a1.6 1.6 0 1 0 -3.1 0M129.4 624.6a1.2 1.2 0 1 0 2.5 0a1.2 1.2 0 1 0 -2.5 0M137.9 624.4a2.6 2.6 0 1 0 5.2 0a2.6 2.6 0 1 0 -5.2 0M110.5 626.0a1.6 1.6 0 1 0 3.1 0a1.6 1.6 0 1 0 -3.1 0M108.2 626.6a1.0 1.0 0 1 0 2.1 0a1.0 1.0 0 1 0 -2.1 0M80.9 626.6a1.6 1.6 0 1 0 3.1 0a1.6 1.6 0 1 0 -3.1 0M135.9 627.6a1.2 1.2 0 1 0 2.5 0a1.2 1.2 0 1 0 -2.5 0M144.0 621.1a0.8 0.8 0 1 0 1.7 0a0.8 0.8 0 1 0 -1.7 0" fill="#1E8A1A"/>
<path d="M86.9 567.3a1.0 1.0 0 1 0 2.0 0a1.0 1.0 0 1 0 -2.0 0M99.0 568.8a2.3 2.3 0 1 0 4.7 0a2.3 2.3 0 1 0 -4.7 0M107.4 571.6a1.8 1.8 0 1 0 3.7 0a1.8 1.8 0 1 0 -3.7 0M111.0 567.5a1.0 1.0 0 1 0 2.0 0a1.0 1.0 0 1 0 -2.0 0M114.3 572.7a1.0 1.0 0 1 0 2.0 0a1.0 1.0 0 1 0 -2.0 0M118.5 572.1a0.7 0.7 0 1 0 1.3 0a0.7 0.7 0 1 0 -1.3 0M124.7 566.9a1.5 1.5 0 1 0 3.0 0a1.5 1.5 0 1 0 -3.0 0M128.2 568.8a1.8 1.8 0 1 0 3.7 0a1.8 1.8 0 1 0 -3.7 0M133.7 572.4a1.8 1.8 0 1 0 3.7 0a1.8 1.8 0 1 0 -3.7 0M96.8 574.0a1.5 1.5 0 1 0 3.0 0a1.5 1.5 0 1 0 -3.0 0M101.8 576.0a1.2 1.2 0 1 0 2.5 0a1.2 1.2 0 1 0 -2.5 0M91.1 577.9a1.2 1.2 0 1 0 2.5 0a1.2 1.2 0 1 0 -2.5 0M79.8 581.1a2.1 2.1 0 1 0 4.2 0a2.1 2.1 0 1 0 -4.2 0M91.2 581.5a1.7 1.7 0 1 0 3.3 0a1.7 1.7 0 1 0 -3.3 0M95.2 580.6a1.5 1.5 0 1 0 3.0 0a1.5 1.5 0 1 0 -3.0 0M103.2 580.1a1.7 1.7 0 1 0 3.3 0a1.7 1.7 0 1 0 -3.3 0M122.5 577.9a2.1 2.1 0 1 0 4.2 0a2.1 2.1 0 1 0 -4.2 0M135.1 581.5a2.1 2.1 0 1 0 4.2 0a2.1 2.1 0 1 0 -4.2 0M141.7 585.0a1.5 1.5 0 1 0 3.0 0a1.5 1.5 0 1 0 -3.0 0M125.5 584.8a1.2 1.2 0 1 0 2.5 0a1.2 1.2 0 1 0 -2.5 0M100.7 585.5a1.7 1.7 0 1 0 3.3 0a1.7 1.7 0 1 0 -3.3 0M95.3 587.7a2.5 2.5 0 1 0 5.0 0a2.5 2.5 0 1 0 -5.0 0M97.1 591.0a1.8 1.8 0 1 0 3.7 0a1.8 1.8 0 1 0 -3.7 0M88.3 589.4a1.0 1.0 0 1 0 2.0 0a1.0 1.0 0 1 0 -2.0 0M82.9 591.8a1.2 1.2 0 1 0 2.5 0a1.2 1.2 0 1 0 -2.5 0M89.5 593.7a1.5 1.5 0 1 0 3.0 0a1.5 1.5 0 1 0 -3.0 0M119.7 587.2a2.3 2.3 0 1 0 4.7 0a2.3 2.3 0 1 0 -4.7 0M114.6 589.4a2.3 2.3 0 1 0 4.7 0a2.3 2.3 0 1 0 -4.7 0M118.6 591.0a1.7 1.7 0 1 0 3.3 0a1.7 1.7 0 1 0 -3.3 0M136.8 590.7a1.5 1.5 0 1 0 3.0 0a1.5 1.5 0 1 0 -3.0 0M108.2 594.8a1.7 1.7 0 1 0 3.3 0a1.7 1.7 0 1 0 -3.3 0M111.1 597.0a1.5 1.5 0 1 0 3.0 0a1.5 1.5 0 1 0 -3.0 0M137.0 596.8a1.8 1.8 0 1 0 3.7 0a1.8 1.8 0 1 0 -3.7 0M143.3 598.1a1.0 1.0 0 1 0 2.0 0a1.0 1.0 0 1 0 -2.0 0M102.0 597.2a0.7 0.7 0 1 0 1.3 0a0.7 0.7 0 1 0 -1.3 0M131.8 594.8a0.5 0.5 0 1 0 1.0 0a0.5 0.5 0 1 0 -1.0 0M90.8 600.8a1.0 1.0 0 1 0 2.0 0a1.0 1.0 0 1 0 -2.0 0M129.6 602.3a1.0 1.0 0 1 0 2.0 0a1.0 1.0 0 1 0 -2.0 0M123.9 603.4a0.7 0.7 0 1 0 1.3 0a0.7 0.7 0 1 0 -1.3 0M95.4 606.0a1.8 1.8 0 1 0 3.7 0a1.8 1.8 0 1 0 -3.7 0M99.8 605.2a1.8 1.8 0 1 0 3.7 0a1.8 1.8 0 1 0 -3.7 0M92.2 608.0a1.2 1.2 0 1 0 2.5 0a1.2 1.2 0 1 0 -2.5 0M85.6 607.7a1.2 1.2 0 1 0 2.5 0a1.2 1.2 0 1 0 -2.5 0M116.2 606.0a1.2 1.2 0 1 0 2.5 0a1.2 1.2 0 1 0 -2.5 0M120.1 606.3a1.5 1.5 0 1 0 3.0 0a1.5 1.5 0 1 0 -3.0 0M121.2 609.9a1.2 1.2 0 1 0 2.5 0a1.2 1.2 0 1 0 -2.5 0M128.0 608.8a1.0 1.0 0 1 0 2.0 0a1.0 1.0 0 1 0 -2.0 0M135.4 605.2a1.2 1.2 0 1 0 2.5 0a1.2 1.2 0 1 0 -2.5 0M134.0 608.5a1.5 1.5 0 1 0 3.0 0a1.5 1.5 0 1 0 -3.0 0M80.9 611.8a1.0 1.0 0 1 0 2.0 0a1.0 1.0 0 1 0 -2.0 0M84.9 613.4a0.8 0.8 0 1 0 1.7 0a0.8 0.8 0 1 0 -1.7 0M117.5 612.9a1.7 1.7 0 1 0 3.3 0a1.7 1.7 0 1 0 -3.3 0M135.6 612.3a1.0 1.0 0 1 0 2.0 0a1.0 1.0 0 1 0 -2.0 0M135.6 615.6a1.0 1.0 0 1 0 2.0 0a1.0 1.0 0 1 0 -2.0 0M97.9 615.6a2.7 2.7 0 1 0 5.3 0a2.7 2.7 0 1 0 -5.3 0M87.4 616.2a1.7 1.7 0 1 0 3.3 0a1.7 1.7 0 1 0 -3.3 0M108.7 614.3a1.7 1.7 0 1 0 3.3 0a1.7 1.7 0 1 0 -3.3 0M118.7 620.5a1.5 1.5 0 1 0 3.0 0a1.5 1.5 0 1 0 -3.0 0M107.4 621.6a1.8 1.8 0 1 0 3.7 0a1.8 1.8 0 1 0 -3.7 0M102.0 623.1a1.8 1.8 0 1 0 3.7 0a1.8 1.8 0 1 0 -3.7 0M125.8 622.2a1.0 1.0 0 1 0 2.0 0a1.0 1.0 0 1 0 -2.0 0M133.2 623.1a1.2 1.2 0 1 0 2.5 0a1.2 1.2 0 1 0 -2.5 0M129.6 624.6a1.0 1.0 0 1 0 2.0 0a1.0 1.0 0 1 0 -2.0 0M138.4 624.4a2.1 2.1 0 1 0 4.2 0a2.1 2.1 0 1 0 -4.2 0M110.8 626.0a1.2 1.2 0 1 0 2.5 0a1.2 1.2 0 1 0 -2.5 0M108.4 626.6a0.8 0.8 0 1 0 1.7 0a0.8 0.8 0 1 0 -1.7 0M81.2 626.6a1.2 1.2 0 1 0 2.5 0a1.2 1.2 0 1 0 -2.5 0M136.2 627.6a1.0 1.0 0 1 0 2.0 0a1.0 1.0 0 1 0 -2.0 0M144.2 621.1a0.7 0.7 0 1 0 1.3 0a0.7 0.7 0 1 0 -1.3 0" fill="#2CBC24"/>
<path d="M87.3 567.3a0.6 0.6 0 1 0 1.2 0a0.6 0.6 0 1 0 -1.2 0M99.8 568.8a1.5 1.5 0 1 0 2.9 0a1.5 1.5 0 1 0 -2.9 0M108.1 571.6a1.1 1.1 0 1 0 2.3 0a1.1 1.1 0 1 0 -2.3 0M111.4 567.5a0.6 0.6 0 1 0 1.2 0a0.6 0.6 0 1 0 -1.2 0M114.7 572.7a0.6 0.6 0 1 0 1.2 0a0.6 0.6 0 1 0 -1.2 0M118.7 572.1a0.4 0.4 0 1 0 0.8 0a0.4 0.4 0 1 0 -0.8 0M125.3 566.9a0.9 0.9 0 1 0 1.9 0a0.9 0.9 0 1 0 -1.9 0M128.9 568.8a1.1 1.1 0 1 0 2.3 0a1.1 1.1 0 1 0 -2.3 0M134.4 572.4a1.1 1.1 0 1 0 2.3 0a1.1 1.1 0 1 0 -2.3 0M97.4 574.0a0.9 0.9 0 1 0 1.9 0a0.9 0.9 0 1 0 -1.9 0M102.3 576.0a0.8 0.8 0 1 0 1.6 0a0.8 0.8 0 1 0 -1.6 0M91.5 577.9a0.8 0.8 0 1 0 1.6 0a0.8 0.8 0 1 0 -1.6 0M80.6 581.1a1.3 1.3 0 1 0 2.6 0a1.3 1.3 0 1 0 -2.6 0M91.8 581.5a1.0 1.0 0 1 0 2.1 0a1.0 1.0 0 1 0 -2.1 0M95.8 580.6a0.9 0.9 0 1 0 1.9 0a0.9 0.9 0 1 0 -1.9 0M103.9 580.1a1.0 1.0 0 1 0 2.1 0a1.0 1.0 0 1 0 -2.1 0M123.3 577.9a1.3 1.3 0 1 0 2.6 0a1.3 1.3 0 1 0 -2.6 0M135.9 581.5a1.3 1.3 0 1 0 2.6 0a1.3 1.3 0 1 0 -2.6 0M142.3 585.0a0.9 0.9 0 1 0 1.9 0a0.9 0.9 0 1 0 -1.9 0M126.0 584.8a0.8 0.8 0 1 0 1.6 0a0.8 0.8 0 1 0 -1.6 0M101.3 585.5a1.0 1.0 0 1 0 2.1 0a1.0 1.0 0 1 0 -2.1 0M96.2 587.7a1.6 1.6 0 1 0 3.1 0a1.6 1.6 0 1 0 -3.1 0M97.7 591.0a1.1 1.1 0 1 0 2.3 0a1.1 1.1 0 1 0 -2.3 0M88.6 589.4a0.6 0.6 0 1 0 1.2 0a0.6 0.6 0 1 0 -1.2 0M83.3 591.8a0.8 0.8 0 1 0 1.6 0a0.8 0.8 0 1 0 -1.6 0M90.1 593.7a0.9 0.9 0 1 0 1.9 0a0.9 0.9 0 1 0 -1.9 0M120.6 587.2a1.5 1.5 0 1 0 2.9 0a1.5 1.5 0 1 0 -2.9 0M115.5 589.4a1.5 1.5 0 1 0 2.9 0a1.5 1.5 0 1 0 -2.9 0M119.2 591.0a1.0 1.0 0 1 0 2.1 0a1.0 1.0 0 1 0 -2.1 0M137.3 590.7a0.9 0.9 0 1 0 1.9 0a0.9 0.9 0 1 0 -1.9 0M108.8 594.8a1.0 1.0 0 1 0 2.1 0a1.0 1.0 0 1 0 -2.1 0M111.6 597.0a0.9 0.9 0 1 0 1.9 0a0.9 0.9 0 1 0 -1.9 0M137.7 596.8a1.1 1.1 0 1 0 2.3 0a1.1 1.1 0 1 0 -2.3 0M143.7 598.1a0.6 0.6 0 1 0 1.2 0a0.6 0.6 0 1 0 -1.2 0M102.3 597.2a0.4 0.4 0 1 0 0.8 0a0.4 0.4 0 1 0 -0.8 0M131.9 594.8a0.3 0.3 0 1 0 0.6 0a0.3 0.3 0 1 0 -0.6 0M91.1 600.8a0.6 0.6 0 1 0 1.2 0a0.6 0.6 0 1 0 -1.2 0M130.0 602.3a0.6 0.6 0 1 0 1.2 0a0.6 0.6 0 1 0 -1.2 0M124.2 603.4a0.4 0.4 0 1 0 0.8 0a0.4 0.4 0 1 0 -0.8 0M96.1 606.0a1.1 1.1 0 1 0 2.3 0a1.1 1.1 0 1 0 -2.3 0M100.5 605.2a1.1 1.1 0 1 0 2.3 0a1.1 1.1 0 1 0 -2.3 0M92.6 608.0a0.8 0.8 0 1 0 1.6 0a0.8 0.8 0 1 0 -1.6 0M86.1 607.7a0.8 0.8 0 1 0 1.6 0a0.8 0.8 0 1 0 -1.6 0M116.7 606.0a0.8 0.8 0 1 0 1.6 0a0.8 0.8 0 1 0 -1.6 0M120.7 606.3a0.9 0.9 0 1 0 1.9 0a0.9 0.9 0 1 0 -1.9 0M121.6 609.9a0.8 0.8 0 1 0 1.6 0a0.8 0.8 0 1 0 -1.6 0M128.3 608.8a0.6 0.6 0 1 0 1.2 0a0.6 0.6 0 1 0 -1.2 0M135.8 605.2a0.8 0.8 0 1 0 1.6 0a0.8 0.8 0 1 0 -1.6 0M134.6 608.5a0.9 0.9 0 1 0 1.9 0a0.9 0.9 0 1 0 -1.9 0M81.3 611.8a0.6 0.6 0 1 0 1.2 0a0.6 0.6 0 1 0 -1.2 0M85.2 613.4a0.5 0.5 0 1 0 1.0 0a0.5 0.5 0 1 0 -1.0 0M118.1 612.9a1.0 1.0 0 1 0 2.1 0a1.0 1.0 0 1 0 -2.1 0M136.0 612.3a0.6 0.6 0 1 0 1.2 0a0.6 0.6 0 1 0 -1.2 0M136.0 615.6a0.6 0.6 0 1 0 1.2 0a0.6 0.6 0 1 0 -1.2 0M98.9 615.6a1.7 1.7 0 1 0 3.3 0a1.7 1.7 0 1 0 -3.3 0M88.0 616.2a1.0 1.0 0 1 0 2.1 0a1.0 1.0 0 1 0 -2.1 0M109.3 614.3a1.0 1.0 0 1 0 2.1 0a1.0 1.0 0 1 0 -2.1 0M119.3 620.5a0.9 0.9 0 1 0 1.9 0a0.9 0.9 0 1 0 -1.9 0M108.1 621.6a1.1 1.1 0 1 0 2.3 0a1.1 1.1 0 1 0 -2.3 0M102.7 623.1a1.1 1.1 0 1 0 2.3 0a1.1 1.1 0 1 0 -2.3 0M126.2 622.2a0.6 0.6 0 1 0 1.2 0a0.6 0.6 0 1 0 -1.2 0M133.7 623.1a0.8 0.8 0 1 0 1.6 0a0.8 0.8 0 1 0 -1.6 0M130.0 624.6a0.6 0.6 0 1 0 1.2 0a0.6 0.6 0 1 0 -1.2 0M139.2 624.4a1.3 1.3 0 1 0 2.6 0a1.3 1.3 0 1 0 -2.6 0M111.2 626.0a0.8 0.8 0 1 0 1.6 0a0.8 0.8 0 1 0 -1.6 0M108.8 626.6a0.5 0.5 0 1 0 1.0 0a0.5 0.5 0 1 0 -1.0 0M81.7 626.6a0.8 0.8 0 1 0 1.6 0a0.8 0.8 0 1 0 -1.6 0M136.6 627.6a0.6 0.6 0 1 0 1.2 0a0.6 0.6 0 1 0 -1.2 0M144.4 621.1a0.4 0.4 0 1 0 0.8 0a0.4 0.4 0 1 0 -0.8 0" fill="#40E434"/>

</g></g>
<rect x="86.8" y="624.2" width="5.4" height="0.9" fill="#fff"/><rect x="88.1" y="622.0" width="3" height="1.2" fill="#aaa" opacity="0.6"/>
<rect x="153.1" y="564.8" width="65.8" height="65.9" fill="#020402"/>
<g clip-path="url(#cph6)">
<path d="M202.0 601.4a2.7 2.7 0 1 0 5.5 0a2.7 2.7 0 1 0 -5.5 0M207.4 603.0a2.2 2.2 0 1 0 4.4 0a2.2 2.2 0 1 0 -4.4 0M197.8 588.8a2.0 2.0 0 1 0 3.9 0a2.0 2.0 0 1 0 -3.9 0M208.8 584.4a2.0 2.0 0 1 0 3.9 0a2.0 2.0 0 1 0 -3.9 0M211.4 583.9a1.5 1.5 0 1 0 3.1 0a1.5 1.5 0 1 0 -3.1 0M172.2 620.5a3.5 3.5 0 1 0 7.0 0a3.5 3.5 0 1 0 -7.0 0M171.3 619.4a2.2 2.2 0 1 0 4.4 0a2.2 2.2 0 1 0 -4.4 0M175.7 622.2a2.2 2.2 0 1 0 4.4 0a2.2 2.2 0 1 0 -4.4 0" fill="#2E9A20" opacity="0.6" filter="url(#bl5)"/>
<path d="M179.2 578.4a0.5 0.5 0 1 0 1.1 0a0.5 0.5 0 1 0 -1.1 0M169.0 615.0a0.6 0.6 0 1 0 1.1 0a0.6 0.6 0 1 0 -1.1 0M177.6 610.1a0.7 0.7 0 1 0 1.4 0a0.7 0.7 0 1 0 -1.4 0M214.0 597.3a0.6 0.6 0 1 0 1.3 0a0.6 0.6 0 1 0 -1.3 0M192.5 579.5a0.9 0.9 0 1 0 1.8 0a0.9 0.9 0 1 0 -1.8 0M177.0 590.7a0.8 0.8 0 1 0 1.5 0a0.8 0.8 0 1 0 -1.5 0M162.4 608.5a0.9 0.9 0 1 0 1.7 0a0.9 0.9 0 1 0 -1.7 0M174.8 627.2a0.7 0.7 0 1 0 1.4 0a0.7 0.7 0 1 0 -1.4 0M203.3 596.0a0.6 0.6 0 1 0 1.3 0a0.6 0.6 0 1 0 -1.3 0M170.4 565.8a0.5 0.5 0 1 0 1.1 0a0.5 0.5 0 1 0 -1.1 0M217.4 600.2a0.7 0.7 0 1 0 1.3 0a0.7 0.7 0 1 0 -1.3 0M211.3 604.9a0.9 0.9 0 1 0 1.8 0a0.9 0.9 0 1 0 -1.8 0M175.8 579.4a0.9 0.9 0 1 0 1.8 0a0.9 0.9 0 1 0 -1.8 0M163.1 617.1a0.7 0.7 0 1 0 1.5 0a0.7 0.7 0 1 0 -1.5 0M216.8 627.0a0.8 0.8 0 1 0 1.5 0a0.8 0.8 0 1 0 -1.5 0M155.0 566.8a0.7 0.7 0 1 0 1.3 0a0.7 0.7 0 1 0 -1.3 0M206.3 570.6a0.6 0.6 0 1 0 1.3 0a0.6 0.6 0 1 0 -1.3 0M158.5 585.6a0.4 0.4 0 1 0 0.9 0a0.4 0.4 0 1 0 -0.9 0M174.3 599.5a0.5 0.5 0 1 0 1.1 0a0.5 0.5 0 1 0 -1.1 0M204.2 568.9a0.5 0.5 0 1 0 1.1 0a0.5 0.5 0 1 0 -1.1 0M169.3 591.7a0.8 0.8 0 1 0 1.6 0a0.8 0.8 0 1 0 -1.6 0M175.5 610.8a0.9 0.9 0 1 0 1.8 0a0.9 0.9 0 1 0 -1.8 0M161.1 621.8a0.7 0.7 0 1 0 1.5 0a0.7 0.7 0 1 0 -1.5 0M201.5 605.1a0.6 0.6 0 1 0 1.3 0a0.6 0.6 0 1 0 -1.3 0M159.1 574.7a0.5 0.5 0 1 0 1.0 0a0.5 0.5 0 1 0 -1.0 0M164.4 574.8a0.5 0.5 0 1 0 1.1 0a0.5 0.5 0 1 0 -1.1 0M189.2 615.7a0.8 0.8 0 1 0 1.7 0a0.8 0.8 0 1 0 -1.7 0M207.8 573.0a0.8 0.8 0 1 0 1.7 0a0.8 0.8 0 1 0 -1.7 0M164.9 570.0a0.6 0.6 0 1 0 1.2 0a0.6 0.6 0 1 0 -1.2 0M191.1 568.4a0.5 0.5 0 1 0 1.1 0a0.5 0.5 0 1 0 -1.1 0M178.8 619.1a0.6 0.6 0 1 0 1.3 0a0.6 0.6 0 1 0 -1.3 0M179.9 589.6a0.5 0.5 0 1 0 1.0 0a0.5 0.5 0 1 0 -1.0 0M210.0 625.7a0.8 0.8 0 1 0 1.6 0a0.8 0.8 0 1 0 -1.6 0M178.8 594.3a0.6 0.6 0 1 0 1.2 0a0.6 0.6 0 1 0 -1.2 0M195.5 608.0a0.6 0.6 0 1 0 1.2 0a0.6 0.6 0 1 0 -1.2 0M209.9 612.4a0.5 0.5 0 1 0 1.1 0a0.5 0.5 0 1 0 -1.1 0M205.7 609.4a0.6 0.6 0 1 0 1.1 0a0.6 0.6 0 1 0 -1.1 0M172.2 614.5a0.5 0.5 0 1 0 1.0 0a0.5 0.5 0 1 0 -1.0 0M181.4 628.3a0.6 0.6 0 1 0 1.1 0a0.6 0.6 0 1 0 -1.1 0M185.3 624.6a0.9 0.9 0 1 0 1.7 0a0.9 0.9 0 1 0 -1.7 0M204.0 600.2a0.9 0.9 0 1 0 1.8 0a0.9 0.9 0 1 0 -1.8 0M169.4 623.0a0.6 0.6 0 1 0 1.3 0a0.6 0.6 0 1 0 -1.3 0M195.8 605.3a0.6 0.6 0 1 0 1.2 0a0.6 0.6 0 1 0 -1.2 0M196.7 604.8a0.9 0.9 0 1 0 1.8 0a0.9 0.9 0 1 0 -1.8 0M196.3 594.1a0.6 0.6 0 1 0 1.2 0a0.6 0.6 0 1 0 -1.2 0M210.6 587.9a0.8 0.8 0 1 0 1.5 0a0.8 0.8 0 1 0 -1.5 0M198.2 628.4a0.5 0.5 0 1 0 1.1 0a0.5 0.5 0 1 0 -1.1 0M196.0 576.5a0.8 0.8 0 1 0 1.5 0a0.8 0.8 0 1 0 -1.5 0M195.4 613.9a0.9 0.9 0 1 0 1.7 0a0.9 0.9 0 1 0 -1.7 0M167.8 621.6a0.6 0.6 0 1 0 1.2 0a0.6 0.6 0 1 0 -1.2 0M178.7 572.6a0.7 0.7 0 1 0 1.4 0a0.7 0.7 0 1 0 -1.4 0M152.6 585.6a0.8 0.8 0 1 0 1.5 0a0.8 0.8 0 1 0 -1.5 0M201.4 576.2a0.8 0.8 0 1 0 1.6 0a0.8 0.8 0 1 0 -1.6 0M181.5 578.7a0.8 0.8 0 1 0 1.6 0a0.8 0.8 0 1 0 -1.6 0M200.9 595.9a0.7 0.7 0 1 0 1.4 0a0.7 0.7 0 1 0 -1.4 0M193.0 606.6a0.8 0.8 0 1 0 1.6 0a0.8 0.8 0 1 0 -1.6 0M203.1 578.4a0.4 0.4 0 1 0 0.9 0a0.4 0.4 0 1 0 -0.9 0M159.4 585.4a0.7 0.7 0 1 0 1.4 0a0.7 0.7 0 1 0 -1.4 0M215.5 592.6a0.6 0.6 0 1 0 1.2 0a0.6 0.6 0 1 0 -1.2 0M189.0 627.3a0.7 0.7 0 1 0 1.5 0a0.7 0.7 0 1 0 -1.5 0M171.7 614.8a0.9 0.9 0 1 0 1.9 0a0.9 0.9 0 1 0 -1.9 0M204.7 591.4a0.5 0.5 0 1 0 1.0 0a0.5 0.5 0 1 0 -1.0 0M182.9 573.7a0.5 0.5 0 1 0 1.0 0a0.5 0.5 0 1 0 -1.0 0M181.7 620.9a0.8 0.8 0 1 0 1.6 0a0.8 0.8 0 1 0 -1.6 0M180.1 627.7a0.5 0.5 0 1 0 1.1 0a0.5 0.5 0 1 0 -1.1 0M168.9 583.2a0.7 0.7 0 1 0 1.4 0a0.7 0.7 0 1 0 -1.4 0M210.7 590.3a0.8 0.8 0 1 0 1.7 0a0.8 0.8 0 1 0 -1.7 0M213.7 596.6a0.9 0.9 0 1 0 1.8 0a0.9 0.9 0 1 0 -1.8 0M210.9 596.4a0.5 0.5 0 1 0 1.0 0a0.5 0.5 0 1 0 -1.0 0M157.5 581.0a0.7 0.7 0 1 0 1.3 0a0.7 0.7 0 1 0 -1.3 0M153.6 586.9a0.7 0.7 0 1 0 1.4 0a0.7 0.7 0 1 0 -1.4 0M174.5 613.3a0.7 0.7 0 1 0 1.4 0a0.7 0.7 0 1 0 -1.4 0M187.4 606.7a0.7 0.7 0 1 0 1.4 0a0.7 0.7 0 1 0 -1.4 0M179.6 576.1a0.7 0.7 0 1 0 1.5 0a0.7 0.7 0 1 0 -1.5 0M155.8 567.6a0.6 0.6 0 1 0 1.2 0a0.6 0.6 0 1 0 -1.2 0M167.8 614.7a0.5 0.5 0 1 0 1.0 0a0.5 0.5 0 1 0 -1.0 0M181.4 610.8a0.6 0.6 0 1 0 1.3 0a0.6 0.6 0 1 0 -1.3 0M205.5 572.9a0.5 0.5 0 1 0 1.0 0a0.5 0.5 0 1 0 -1.0 0M170.6 589.2a0.7 0.7 0 1 0 1.4 0a0.7 0.7 0 1 0 -1.4 0M165.5 601.9a0.8 0.8 0 1 0 1.6 0a0.8 0.8 0 1 0 -1.6 0M195.5 618.6a0.5 0.5 0 1 0 1.0 0a0.5 0.5 0 1 0 -1.0 0M196.8 612.7a0.8 0.8 0 1 0 1.7 0a0.8 0.8 0 1 0 -1.7 0M162.3 570.9a0.8 0.8 0 1 0 1.6 0a0.8 0.8 0 1 0 -1.6 0M194.7 576.2a0.9 0.9 0 1 0 1.7 0a0.9 0.9 0 1 0 -1.7 0M199.4 605.5a0.8 0.8 0 1 0 1.6 0a0.8 0.8 0 1 0 -1.6 0M192.8 587.5a0.5 0.5 0 1 0 0.9 0a0.5 0.5 0 1 0 -0.9 0M175.2 606.2a0.5 0.5 0 1 0 1.1 0a0.5 0.5 0 1 0 -1.1 0M164.3 572.6a0.7 0.7 0 1 0 1.4 0a0.7 0.7 0 1 0 -1.4 0M216.1 613.1a0.4 0.4 0 1 0 0.9 0a0.4 0.4 0 1 0 -0.9 0M177.5 609.9a0.5 0.5 0 1 0 1.0 0a0.5 0.5 0 1 0 -1.0 0M204.6 580.7a0.7 0.7 0 1 0 1.3 0a0.7 0.7 0 1 0 -1.3 0M204.7 622.5a0.5 0.5 0 1 0 1.0 0a0.5 0.5 0 1 0 -1.0 0M205.9 622.6a0.9 0.9 0 1 0 1.7 0a0.9 0.9 0 1 0 -1.7 0M203.3 589.7a0.6 0.6 0 1 0 1.2 0a0.6 0.6 0 1 0 -1.2 0M155.7 591.2a0.6 0.6 0 1 0 1.2 0a0.6 0.6 0 1 0 -1.2 0M162.8 627.0a0.9 0.9 0 1 0 1.7 0a0.9 0.9 0 1 0 -1.7 0M205.8 584.6a0.5 0.5 0 1 0 1.0 0a0.5 0.5 0 1 0 -1.0 0M180.6 570.0a0.6 0.6 0 1 0 1.2 0a0.6 0.6 0 1 0 -1.2 0M192.4 586.0a0.6 0.6 0 1 0 1.2 0a0.6 0.6 0 1 0 -1.2 0M174.2 619.5a0.5 0.5 0 1 0 0.9 0a0.5 0.5 0 1 0 -0.9 0M205.8 605.2a0.7 0.7 0 1 0 1.4 0a0.7 0.7 0 1 0 -1.4 0M197.8 566.5a0.9 0.9 0 1 0 1.7 0a0.9 0.9 0 1 0 -1.7 0M171.5 591.4a0.7 0.7 0 1 0 1.4 0a0.7 0.7 0 1 0 -1.4 0M211.6 580.2a0.7 0.7 0 1 0 1.4 0a0.7 0.7 0 1 0 -1.4 0M217.4 579.2a0.8 0.8 0 1 0 1.5 0a0.8 0.8 0 1 0 -1.5 0M163.3 602.4a0.7 0.7 0 1 0 1.3 0a0.7 0.7 0 1 0 -1.3 0M189.7 567.2a0.5 0.5 0 1 0 1.1 0a0.5 0.5 0 1 0 -1.1 0M211.6 577.0a0.6 0.6 0 1 0 1.2 0a0.6 0.6 0 1 0 -1.2 0M217.3 581.9a0.7 0.7 0 1 0 1.4 0a0.7 0.7 0 1 0 -1.4 0M180.7 565.5a0.8 0.8 0 1 0 1.5 0a0.8 0.8 0 1 0 -1.5 0M185.3 626.6a0.9 0.9 0 1 0 1.8 0a0.9 0.9 0 1 0 -1.8 0M157.5 603.8a0.6 0.6 0 1 0 1.2 0a0.6 0.6 0 1 0 -1.2 0M161.4 625.3a0.5 0.5 0 1 0 1.0 0a0.5 0.5 0 1 0 -1.0 0M185.4 580.5a0.7 0.7 0 1 0 1.4 0a0.7 0.7 0 1 0 -1.4 0M166.3 621.2a0.7 0.7 0 1 0 1.3 0a0.7 0.7 0 1 0 -1.3 0M166.0 617.7a0.5 0.5 0 1 0 1.0 0a0.5 0.5 0 1 0 -1.0 0M200.7 581.5a0.9 0.9 0 1 0 1.7 0a0.9 0.9 0 1 0 -1.7 0M169.3 607.9a0.8 0.8 0 1 0 1.5 0a0.8 0.8 0 1 0 -1.5 0M185.6 622.2a0.7 0.7 0 1 0 1.4 0a0.7 0.7 0 1 0 -1.4 0M167.9 599.6a0.8 0.8 0 1 0 1.6 0a0.8 0.8 0 1 0 -1.6 0M180.4 599.6a0.5 0.5 0 1 0 0.9 0a0.5 0.5 0 1 0 -0.9 0M169.1 615.5a0.6 0.6 0 1 0 1.2 0a0.6 0.6 0 1 0 -1.2 0M165.2 617.2a0.5 0.5 0 1 0 0.9 0a0.5 0.5 0 1 0 -0.9 0M155.3 569.3a0.5 0.5 0 1 0 1.1 0a0.5 0.5 0 1 0 -1.1 0M156.0 584.4a0.6 0.6 0 1 0 1.1 0a0.6 0.6 0 1 0 -1.1 0M213.0 582.0a0.7 0.7 0 1 0 1.4 0a0.7 0.7 0 1 0 -1.4 0M172.1 612.8a0.5 0.5 0 1 0 1.0 0a0.5 0.5 0 1 0 -1.0 0M175.2 574.6a0.6 0.6 0 1 0 1.2 0a0.6 0.6 0 1 0 -1.2 0M169.4 594.9a0.9 0.9 0 1 0 1.8 0a0.9 0.9 0 1 0 -1.8 0M154.3 580.4a0.7 0.7 0 1 0 1.5 0a0.7 0.7 0 1 0 -1.5 0M207.3 590.1a0.6 0.6 0 1 0 1.2 0a0.6 0.6 0 1 0 -1.2 0M173.4 589.8a0.7 0.7 0 1 0 1.4 0a0.7 0.7 0 1 0 -1.4 0M203.8 566.7a0.5 0.5 0 1 0 1.0 0a0.5 0.5 0 1 0 -1.0 0M167.0 605.9a0.8 0.8 0 1 0 1.6 0a0.8 0.8 0 1 0 -1.6 0M157.4 565.3a0.5 0.5 0 1 0 1.0 0a0.5 0.5 0 1 0 -1.0 0M180.9 610.5a0.9 0.9 0 1 0 1.8 0a0.9 0.9 0 1 0 -1.8 0M176.6 593.0a0.9 0.9 0 1 0 1.7 0a0.9 0.9 0 1 0 -1.7 0M202.9 624.4a0.6 0.6 0 1 0 1.1 0a0.6 0.6 0 1 0 -1.1 0M199.3 618.2a0.6 0.6 0 1 0 1.1 0a0.6 0.6 0 1 0 -1.1 0M168.7 626.2a0.5 0.5 0 1 0 1.1 0a0.5 0.5 0 1 0 -1.1 0M173.7 572.0a0.9 0.9 0 1 0 1.7 0a0.9 0.9 0 1 0 -1.7 0M193.3 581.2a0.7 0.7 0 1 0 1.3 0a0.7 0.7 0 1 0 -1.3 0M181.6 566.4a0.8 0.8 0 1 0 1.6 0a0.8 0.8 0 1 0 -1.6 0M157.6 590.4a0.8 0.8 0 1 0 1.6 0a0.8 0.8 0 1 0 -1.6 0M170.9 615.3a0.9 0.9 0 1 0 1.8 0a0.9 0.9 0 1 0 -1.8 0M198.4 593.1a0.9 0.9 0 1 0 1.8 0a0.9 0.9 0 1 0 -1.8 0M173.5 630.5a0.7 0.7 0 1 0 1.5 0a0.7 0.7 0 1 0 -1.5 0M187.8 622.3a0.5 0.5 0 1 0 1.0 0a0.5 0.5 0 1 0 -1.0 0M171.6 616.0a0.5 0.5 0 1 0 0.9 0a0.5 0.5 0 1 0 -0.9 0M213.1 595.0a0.7 0.7 0 1 0 1.4 0a0.7 0.7 0 1 0 -1.4 0" fill="#2C9A54" opacity="0.85" filter="url(#bl4)"/>
<g filter="url(#bl4)"><path d="M205.7 586.6a1.8 1.8 0 1 0 3.5 0a1.8 1.8 0 1 0 -3.5 0M184.2 588.0a1.3 1.3 0 1 0 2.6 0a1.3 1.3 0 1 0 -2.6 0M160.0 588.3a1.5 1.5 0 1 0 3.1 0a1.5 1.5 0 1 0 -3.1 0M168.9 577.9a1.3 1.3 0 1 0 2.6 0a1.3 1.3 0 1 0 -2.6 0M164.0 579.5a1.3 1.3 0 1 0 2.6 0a1.3 1.3 0 1 0 -2.6 0M190.3 597.6a1.3 1.3 0 1 0 2.6 0a1.3 1.3 0 1 0 -2.6 0M203.7 609.0a1.5 1.5 0 1 0 3.1 0a1.5 1.5 0 1 0 -3.1 0M159.8 606.9a1.1 1.1 0 1 0 2.2 0a1.1 1.1 0 1 0 -2.2 0M180.1 607.7a1.1 1.1 0 1 0 2.2 0a1.1 1.1 0 1 0 -2.2 0M200.7 617.8a1.3 1.3 0 1 0 2.6 0a1.3 1.3 0 1 0 -2.6 0M215.4 593.7a1.3 1.3 0 1 0 2.6 0a1.3 1.3 0 1 0 -2.6 0M204.4 569.9a0.9 0.9 0 1 0 1.8 0a0.9 0.9 0 1 0 -1.8 0M178.1 572.1a0.9 0.9 0 1 0 1.8 0a0.9 0.9 0 1 0 -1.8 0M153.8 572.4a1.1 1.1 0 1 0 2.2 0a1.1 1.1 0 1 0 -2.2 0M188.5 567.3a0.9 0.9 0 1 0 1.8 0a0.9 0.9 0 1 0 -1.8 0M196.2 609.3a0.9 0.9 0 1 0 1.8 0a0.9 0.9 0 1 0 -1.8 0M156.2 612.1a0.9 0.9 0 1 0 1.8 0a0.9 0.9 0 1 0 -1.8 0M176.5 614.3a0.9 0.9 0 1 0 1.8 0a0.9 0.9 0 1 0 -1.8 0M208.5 621.6a1.1 1.1 0 1 0 2.2 0a1.1 1.1 0 1 0 -2.2 0M212.0 629.8a0.9 0.9 0 1 0 1.8 0a0.9 0.9 0 1 0 -1.8 0M199.8 625.5a1.1 1.1 0 1 0 2.2 0a1.1 1.1 0 1 0 -2.2 0M194.3 621.6a1.1 1.1 0 1 0 2.2 0a1.1 1.1 0 1 0 -2.2 0M168.8 607.4a0.9 0.9 0 1 0 1.8 0a0.9 0.9 0 1 0 -1.8 0M184.1 605.8a0.9 0.9 0 1 0 1.8 0a0.9 0.9 0 1 0 -1.8 0M174.1 587.7a1.1 1.1 0 1 0 2.2 0a1.1 1.1 0 1 0 -2.2 0M196.0 587.7a1.1 1.1 0 1 0 2.2 0a1.1 1.1 0 1 0 -2.2 0M214.8 575.1a0.9 0.9 0 1 0 1.8 0a0.9 0.9 0 1 0 -1.8 0M210.9 568.8a0.9 0.9 0 1 0 1.8 0a0.9 0.9 0 1 0 -1.8 0M181.4 566.4a0.9 0.9 0 1 0 1.8 0a0.9 0.9 0 1 0 -1.8 0M163.9 600.3a0.9 0.9 0 1 0 1.8 0a0.9 0.9 0 1 0 -1.8 0M166.6 597.9a0.9 0.9 0 1 0 1.8 0a0.9 0.9 0 1 0 -1.8 0M161.7 597.0a0.9 0.9 0 1 0 1.8 0a0.9 0.9 0 1 0 -1.8 0" fill="#4CCCB0"/><path d="M206.4 586.6a1.1 1.1 0 1 0 2.1 0a1.1 1.1 0 1 0 -2.1 0M184.8 588.0a0.8 0.8 0 1 0 1.6 0a0.8 0.8 0 1 0 -1.6 0M160.6 588.3a0.9 0.9 0 1 0 1.8 0a0.9 0.9 0 1 0 -1.8 0M169.5 577.9a0.8 0.8 0 1 0 1.6 0a0.8 0.8 0 1 0 -1.6 0M164.5 579.5a0.8 0.8 0 1 0 1.6 0a0.8 0.8 0 1 0 -1.6 0M190.8 597.6a0.8 0.8 0 1 0 1.6 0a0.8 0.8 0 1 0 -1.6 0M204.3 609.0a0.9 0.9 0 1 0 1.8 0a0.9 0.9 0 1 0 -1.8 0M160.3 606.9a0.7 0.7 0 1 0 1.3 0a0.7 0.7 0 1 0 -1.3 0M180.5 607.7a0.7 0.7 0 1 0 1.3 0a0.7 0.7 0 1 0 -1.3 0M201.2 617.8a0.8 0.8 0 1 0 1.6 0a0.8 0.8 0 1 0 -1.6 0M216.0 593.7a0.8 0.8 0 1 0 1.6 0a0.8 0.8 0 1 0 -1.6 0M204.7 569.9a0.5 0.5 0 1 0 1.1 0a0.5 0.5 0 1 0 -1.1 0M178.5 572.1a0.5 0.5 0 1 0 1.1 0a0.5 0.5 0 1 0 -1.1 0M154.3 572.4a0.7 0.7 0 1 0 1.3 0a0.7 0.7 0 1 0 -1.3 0M188.9 567.3a0.5 0.5 0 1 0 1.1 0a0.5 0.5 0 1 0 -1.1 0M196.5 609.3a0.5 0.5 0 1 0 1.1 0a0.5 0.5 0 1 0 -1.1 0M156.6 612.1a0.5 0.5 0 1 0 1.1 0a0.5 0.5 0 1 0 -1.1 0M176.8 614.3a0.5 0.5 0 1 0 1.1 0a0.5 0.5 0 1 0 -1.1 0M209.0 621.6a0.7 0.7 0 1 0 1.3 0a0.7 0.7 0 1 0 -1.3 0M212.4 629.8a0.5 0.5 0 1 0 1.1 0a0.5 0.5 0 1 0 -1.1 0M200.2 625.5a0.7 0.7 0 1 0 1.3 0a0.7 0.7 0 1 0 -1.3 0M194.7 621.6a0.7 0.7 0 1 0 1.3 0a0.7 0.7 0 1 0 -1.3 0M169.2 607.4a0.5 0.5 0 1 0 1.1 0a0.5 0.5 0 1 0 -1.1 0M184.5 605.8a0.5 0.5 0 1 0 1.1 0a0.5 0.5 0 1 0 -1.1 0M174.5 587.7a0.7 0.7 0 1 0 1.3 0a0.7 0.7 0 1 0 -1.3 0M196.4 587.7a0.7 0.7 0 1 0 1.3 0a0.7 0.7 0 1 0 -1.3 0M215.1 575.1a0.5 0.5 0 1 0 1.1 0a0.5 0.5 0 1 0 -1.1 0M211.3 568.8a0.5 0.5 0 1 0 1.1 0a0.5 0.5 0 1 0 -1.1 0M181.8 566.4a0.5 0.5 0 1 0 1.1 0a0.5 0.5 0 1 0 -1.1 0M164.2 600.3a0.5 0.5 0 1 0 1.1 0a0.5 0.5 0 1 0 -1.1 0M167.0 597.9a0.5 0.5 0 1 0 1.1 0a0.5 0.5 0 1 0 -1.1 0M162.1 597.0a0.5 0.5 0 1 0 1.1 0a0.5 0.5 0 1 0 -1.1 0" fill="#8CF4E8"/></g>
</g>
<rect x="159.3" y="624.2" width="5.4" height="0.9" fill="#fff"/><rect x="160.6" y="622.0" width="3" height="1.2" fill="#aaa" opacity="0.6"/>
<text x="40.4" y="481.8" font-size="11" text-anchor="middle" textLength="37.0" lengthAdjust="spacingAndGlyphs" font-weight="bold" fill="#111">0.1 µM</text>
<text x="113.3" y="481.8" font-size="11" text-anchor="middle" textLength="37.0" lengthAdjust="spacingAndGlyphs" font-weight="bold" fill="#111">0.5 µM</text>
<text x="185.8" y="481.8" font-size="11" text-anchor="middle" textLength="27.0" lengthAdjust="spacingAndGlyphs" font-weight="bold" fill="#111">1 µM</text>
<text x="40.4" y="645.0" font-size="11" text-anchor="middle" textLength="27.0" lengthAdjust="spacingAndGlyphs" font-weight="bold" fill="#111">2 µM</text>
<text x="113.3" y="645.0" font-size="11" text-anchor="middle" textLength="27.0" lengthAdjust="spacingAndGlyphs" font-weight="bold" fill="#111">4 µM</text>
<text x="186.2" y="645.0" font-size="11" text-anchor="middle" textLength="32.8" lengthAdjust="spacingAndGlyphs" font-weight="bold" fill="#111">10 µM</text>
<rect x="224.8" y="490.5" width="10" height="143.7" fill="url(#jet)" stroke="#333" stroke-width="0.6"/>
<text x="229.2" y="484.8" font-size="11.6" text-anchor="middle" textLength="22.6" lengthAdjust="spacingAndGlyphs" font-weight="bold" fill="#F02020">0.30</text>
<text x="229.2" y="645.2" font-size="11.6" text-anchor="middle" textLength="22.6" lengthAdjust="spacingAndGlyphs" font-weight="bold" fill="#5BB8EA">0.00</text>
<text x="233.0" y="560.0" font-size="8.4" text-anchor="middle" textLength="44.0" lengthAdjust="spacingAndGlyphs" transform="rotate(-90 233.0 560.0)" font-weight="bold" fill="#062006">Anisotropy</text>
<rect x="279.0" y="487.7" width="172.6" height="139.7" fill="none" stroke="#000" stroke-width="1.75"/>
<text x="274.5" y="491.5" font-size="11.88" text-anchor="end" textLength="15.8" lengthAdjust="spacingAndGlyphs" font-weight="bold">0.8</text>
<text x="274.5" y="521.0" font-size="11.88" text-anchor="end" textLength="15.8" lengthAdjust="spacingAndGlyphs" font-weight="bold">0.6</text>
<text x="274.5" y="550.5" font-size="11.88" text-anchor="end" textLength="15.8" lengthAdjust="spacingAndGlyphs" font-weight="bold">0.4</text>
<text x="274.5" y="580.0" font-size="11.88" text-anchor="end" textLength="15.8" lengthAdjust="spacingAndGlyphs" font-weight="bold">0.2</text>
<text x="274.5" y="609.5" font-size="11.88" text-anchor="end" textLength="15.8" lengthAdjust="spacingAndGlyphs" font-weight="bold">0.0</text>
<path d="M276.5 487.7H279.0M276.5 517.2H279.0M276.5 546.7H279.0M276.5 576.2H279.0M276.5 605.7H279.0" stroke="#000" stroke-width="1.8" fill="none"/>
<text x="292.7" y="641.2" font-size="12.33" text-anchor="middle" textLength="14.7" lengthAdjust="spacingAndGlyphs" font-weight="bold">0.1</text>
<text x="321.8" y="641.2" font-size="12.33" text-anchor="middle" textLength="14.7" lengthAdjust="spacingAndGlyphs" font-weight="bold">0.5</text>
<text x="350.5" y="641.2" font-size="12.33" text-anchor="middle" textLength="5.9" lengthAdjust="spacingAndGlyphs" font-weight="bold">1</text>
<text x="379.5" y="641.2" font-size="12.33" text-anchor="middle" textLength="5.9" lengthAdjust="spacingAndGlyphs" font-weight="bold">2</text>
<text x="408.5" y="641.2" font-size="12.33" text-anchor="middle" textLength="5.9" lengthAdjust="spacingAndGlyphs" font-weight="bold">4</text>
<text x="437.3" y="641.2" font-size="12.33" text-anchor="middle" textLength="11.8" lengthAdjust="spacingAndGlyphs" font-weight="bold">10</text>
<path d="M292.7 627.4V630.3M321.8 627.4V630.3M350.5 627.4V630.3M379.5 627.4V630.3M408.5 627.4V630.3M437.3 627.4V630.3" stroke="#000" stroke-width="1.9" fill="none"/>
<path d="M279 605.7H451.6" stroke="#000" stroke-width="1.3"/>
<g transform="translate(250.8 556.0) rotate(-90) scale(0.9509 1)"><text x="-68.4" y="0" font-size="12.2" font-weight="bold" stroke="#fff" stroke-width="0.15">FRET Efficiency (E<tspan font-size="8.5" dy="2.4">Homo</tspan><tspan dy="-2.4">)</tspan></text></g>
<text x="367.0" y="654.4" font-size="11.4" text-anchor="middle" textLength="160.6" lengthAdjust="spacingAndGlyphs" font-weight="bold">FUS-eGFP concentration  (µM)</text>
<path d="M292.7 602.9V619.4M289.0 602.9H296.4M289.0 619.4H296.4" stroke="#111" stroke-width="0.9" fill="none"/>
<rect x="285.4" y="607.4" width="14.6" height="7.5" fill="#5DB85A" stroke="#234a22" stroke-width="0.8"/>
<path d="M285.4 611.3H300.0" stroke="#234a22" stroke-width="0.8"/>
<path d="M293.4 599.0h0M292.9 616.0h0M292.2 619.9h0M293.6 615.1h0M291.7 615.9h0M293.2 622.5h0M294.1 617.1h0M291.7 606.2h0M292.5 614.9h0M292.3 608.8h0M292.5 614.5h0M292.5 599.6h0M292.3 613.2h0M290.9 619.6h0M294.7 607.0h0M293.5 611.7h0M293.7 613.9h0M291.4 614.3h0M292.5 622.5h0M294.1 612.8h0M293.4 618.6h0M291.6 604.9h0M293.7 618.3h0M294.3 620.1h0M292.8 608.4h0M292.3 622.5h0M295.3 604.2h0M294.3 609.5h0M291.7 601.5h0M292.9 612.7h0M293.7 614.7h0M290.7 614.0h0M294.0 618.9h0M292.9 611.6h0" stroke="#000" stroke-width="1.7" stroke-linecap="round" fill="none"/>
<rect x="291.8" y="610.4" width="1.8" height="1.8" fill="none" stroke="#ddd" stroke-width="0.4"/>
<path d="M321.8 582.7V608.0M318.1 582.7H325.5M318.1 608.0H325.5" stroke="#111" stroke-width="0.9" fill="none"/>
<rect x="314.5" y="591.4" width="14.6" height="10.6" fill="#5DB85A" stroke="#234a22" stroke-width="0.8"/>
<path d="M314.5 598.3H329.1" stroke="#234a22" stroke-width="0.8"/>
<path d="M322.4 591.7h0M324.3 607.1h0M320.9 584.0h0M321.4 588.0h0M320.1 595.3h0M319.9 599.4h0M320.6 602.1h0M322.4 599.7h0M321.0 595.7h0M320.3 589.3h0M322.6 611.0h0M322.3 611.0h0M321.0 600.2h0M319.7 594.4h0M323.2 606.6h0M323.8 611.0h0M318.4 586.9h0M322.2 604.4h0M320.6 587.3h0M324.3 604.8h0M320.9 601.2h0M323.3 605.2h0M322.9 585.2h0M321.9 587.3h0M321.9 601.7h0M322.3 582.1h0M322.8 582.9h0M321.1 578.0h0M320.8 592.1h0M322.2 598.9h0M322.4 611.0h0M320.2 607.7h0M323.0 607.3h0M323.8 610.4h0" stroke="#000" stroke-width="1.7" stroke-linecap="round" fill="none"/>
<rect x="320.9" y="597.4" width="1.8" height="1.8" fill="none" stroke="#ddd" stroke-width="0.4"/>
<path d="M350.5 572.8V596.6M346.9 572.8H354.1M346.9 596.6H354.1" stroke="#111" stroke-width="0.9" fill="none"/>
<rect x="343.2" y="581.9" width="14.6" height="10.5" fill="#5DB85A" stroke="#234a22" stroke-width="0.8"/>
<path d="M343.2 586.8H357.8" stroke="#234a22" stroke-width="0.8"/>
<path d="M350.3 585.9h0M351.4 586.2h0M348.5 586.0h0M350.1 590.1h0M350.7 585.2h0M352.0 589.2h0M350.6 592.9h0M349.2 580.6h0M352.2 589.3h0M350.4 587.5h0M348.6 591.8h0M351.1 584.4h0M350.2 594.8h0M350.8 590.5h0M349.0 594.0h0M348.5 592.2h0M349.7 570.0h0M351.7 579.1h0M348.9 593.0h0M349.2 594.6h0M350.1 586.4h0M351.6 588.2h0M351.0 592.8h0M351.1 592.9h0M349.6 581.6h0M351.2 583.0h0M353.6 584.9h0M349.1 579.9h0M352.4 593.9h0M351.6 591.6h0M350.4 599.7h0M349.8 574.6h0M348.6 595.5h0M350.8 587.4h0" stroke="#000" stroke-width="1.7" stroke-linecap="round" fill="none"/>
<rect x="349.6" y="585.9" width="1.8" height="1.8" fill="none" stroke="#ddd" stroke-width="0.4"/>
<path d="M379.5 550.0V571.0M375.9 550.0H383.1M375.9 571.0H383.1" stroke="#111" stroke-width="0.9" fill="none"/>
<rect x="372.2" y="553.9" width="14.6" height="11.2" fill="#5DB85A" stroke="#234a22" stroke-width="0.8"/>
<path d="M372.2 559.9H386.8" stroke="#234a22" stroke-width="0.8"/>
<path d="M380.0 571.2h0M380.7 564.9h0M377.4 553.0h0M379.9 550.8h0M379.7 567.7h0M381.3 548.9h0M378.9 547.0h0M379.8 555.1h0M377.5 568.0h0M379.9 557.0h0M379.4 550.4h0M377.7 561.0h0M379.4 549.3h0M379.8 557.7h0M380.7 575.0h0M378.6 563.0h0M378.5 566.7h0M381.1 571.7h0M378.0 547.0h0M379.0 558.0h0M377.9 549.7h0M378.8 565.1h0M379.1 547.6h0M381.7 567.0h0M379.1 560.0h0M378.8 553.2h0M381.1 563.6h0M379.2 569.2h0M380.5 566.4h0M376.3 563.0h0M379.1 559.0h0M379.1 569.8h0M379.8 563.0h0M380.5 569.4h0" stroke="#000" stroke-width="1.7" stroke-linecap="round" fill="none"/>
<rect x="378.6" y="559.0" width="1.8" height="1.8" fill="none" stroke="#ddd" stroke-width="0.4"/>
<path d="M408.5 534.6V559.2M404.9 534.6H412.1M404.9 559.2H412.1" stroke="#111" stroke-width="0.9" fill="none"/>
<rect x="401.2" y="543.0" width="14.6" height="11.6" fill="#5DB85A" stroke="#234a22" stroke-width="0.8"/>
<path d="M401.2 548.6H415.8" stroke="#234a22" stroke-width="0.8"/>
<path d="M409.4 539.2h0M407.9 552.5h0M408.8 549.1h0M408.6 549.7h0M409.8 554.9h0M408.4 562.8h0M409.4 542.1h0M407.4 545.9h0M409.6 564.5h0M408.1 545.5h0M408.7 552.5h0M408.3 553.0h0M406.0 531.8h0M408.8 557.6h0M408.9 530.0h0M409.4 551.5h0M408.9 548.8h0M406.4 541.1h0M408.6 546.5h0M406.4 545.4h0M407.5 544.2h0M406.9 555.0h0M407.6 539.2h0M409.9 549.9h0M406.6 552.6h0M410.5 539.2h0M408.2 550.2h0M409.3 552.4h0M408.7 564.0h0M407.2 541.9h0M408.5 557.4h0M409.1 550.2h0M410.6 539.5h0M408.2 546.3h0" stroke="#000" stroke-width="1.7" stroke-linecap="round" fill="none"/>
<rect x="407.6" y="547.7" width="1.8" height="1.8" fill="none" stroke="#ddd" stroke-width="0.4"/>
<path d="M437.3 500.6V516.0M433.6 500.6H441.0M433.6 516.0H441.0" stroke="#111" stroke-width="0.9" fill="none"/>
<rect x="430.0" y="503.1" width="14.6" height="8.8" fill="#5DB85A" stroke="#234a22" stroke-width="0.8"/>
<path d="M430.0 507.3H444.6" stroke="#234a22" stroke-width="0.8"/>
<path d="M438.8 506.6h0M437.9 512.0h0M437.4 508.3h0M437.9 506.9h0M439.3 504.0h0M437.7 515.3h0M439.1 514.2h0M436.4 507.2h0M435.6 512.7h0M437.9 512.7h0M434.5 503.5h0M438.2 509.5h0M434.0 509.8h0M437.6 509.6h0M436.2 507.5h0M439.1 498.7h0M435.4 507.3h0M435.7 513.7h0M435.5 510.5h0M437.0 505.8h0M435.7 518.1h0M438.8 502.7h0M437.5 514.2h0M436.5 504.1h0M438.6 498.2h0M438.4 511.4h0M438.0 512.3h0M436.1 513.3h0M437.8 518.6h0M436.0 503.7h0M438.4 506.3h0M439.0 510.8h0M438.3 520.6h0M438.4 513.9h0" stroke="#000" stroke-width="1.7" stroke-linecap="round" fill="none"/>
<rect x="436.4" y="506.4" width="1.8" height="1.8" fill="none" stroke="#ddd" stroke-width="0.4"/>
<text x="321.8" y="575.4" font-size="11.61" text-anchor="middle" textLength="15.2" lengthAdjust="spacingAndGlyphs" fill="#222">***</text>
<text x="350.5" y="570.8" font-size="11.61" text-anchor="middle" textLength="15.2" lengthAdjust="spacingAndGlyphs" fill="#222">***</text>
<text x="379.5" y="548.4" font-size="11.61" text-anchor="middle" textLength="15.2" lengthAdjust="spacingAndGlyphs" fill="#222">***</text>
<text x="408.5" y="529.8" font-size="11.61" text-anchor="middle" textLength="15.2" lengthAdjust="spacingAndGlyphs" fill="#222">***</text>
<text x="437.3" y="498.8" font-size="11.61" text-anchor="middle" textLength="15.2" lengthAdjust="spacingAndGlyphs" fill="#222">***</text>
<rect x="497.0" y="483.7" width="181.0" height="145.9" fill="none" stroke="#000" stroke-width="1.75"/>
<text x="491.5" y="487.4" font-size="12.42" text-anchor="end" textLength="16.4" lengthAdjust="spacingAndGlyphs" font-weight="bold">0.4</text>
<text x="491.5" y="519.6" font-size="12.42" text-anchor="end" textLength="16.4" lengthAdjust="spacingAndGlyphs" font-weight="bold">0.3</text>
<text x="491.5" y="551.8" font-size="12.42" text-anchor="end" textLength="16.4" lengthAdjust="spacingAndGlyphs" font-weight="bold">0.2</text>
<text x="491.5" y="584.0" font-size="12.42" text-anchor="end" textLength="16.4" lengthAdjust="spacingAndGlyphs" font-weight="bold">0.1</text>
<text x="491.5" y="616.3" font-size="12.42" text-anchor="end" textLength="16.4" lengthAdjust="spacingAndGlyphs" font-weight="bold">0.0</text>
<path d="M494.3 483.7H499.7M494.3 515.9H499.7M494.3 548.1H499.7M494.3 580.4H499.7M494.3 612.6H499.7" stroke="#000" stroke-width="1.9" fill="none"/>
<text x="497.0" y="643.6" font-size="12.0" text-anchor="middle" textLength="6.3" lengthAdjust="spacingAndGlyphs" font-weight="bold">0</text>
<text x="533.2" y="643.6" font-size="12.0" text-anchor="middle" textLength="6.3" lengthAdjust="spacingAndGlyphs" font-weight="bold">3</text>
<text x="569.4" y="643.6" font-size="12.0" text-anchor="middle" textLength="6.3" lengthAdjust="spacingAndGlyphs" font-weight="bold">6</text>
<text x="605.6" y="643.6" font-size="12.0" text-anchor="middle" textLength="6.3" lengthAdjust="spacingAndGlyphs" font-weight="bold">9</text>
<text x="641.8" y="643.6" font-size="12.0" text-anchor="middle" textLength="12.7" lengthAdjust="spacingAndGlyphs" font-weight="bold">12</text>
<text x="678.0" y="643.6" font-size="12.0" text-anchor="middle" textLength="12.7" lengthAdjust="spacingAndGlyphs" font-weight="bold">15</text>
<path d="M497.0 626.9V632.3M533.2 626.9V632.3M569.4 626.9V632.3M605.6 626.9V632.3M641.8 626.9V632.3M678.0 626.9V632.3" stroke="#000" stroke-width="1.9" fill="none"/>
<path d="M497.0 515.1L497.5 516.0L498.0 518.2L498.4 514.6L498.9 515.7L499.4 515.7L499.9 516.1L500.3 513.6L500.8 514.9L501.3 514.4L501.8 517.3L502.2 517.7L502.7 518.9L503.2 517.5L503.7 522.3L504.1 514.1L504.6 517.0L505.1 517.2L505.6 515.8L506.1 518.3L506.5 517.2L507.0 516.2L507.5 520.9L508.0 514.4L508.4 517.7L508.9 516.8L509.4 520.3L509.9 519.5L510.3 514.8L510.8 519.5L511.3 519.3L511.8 517.5L512.2 515.6L512.7 523.8L513.2 515.6L513.7 518.3L514.2 517.0L514.6 521.2L515.1 518.4L515.6 515.7L516.1 519.5L516.5 520.7L517.0 520.4L517.5 520.7L518.0 517.8L518.4 519.2L518.9 520.8L519.4 518.0L519.9 522.4L520.3 523.2L520.8 514.3L521.3 521.6L521.8 516.3L522.3 520.4L522.7 520.8L523.2 519.1L523.7 522.5L524.2 522.5L524.6 521.1L525.1 521.6L525.6 519.0L526.1 516.0L526.5 523.8L527.0 523.1L527.5 519.1L528.0 519.8L528.4 518.3L528.9 523.1L529.4 519.7L529.9 521.5L530.4 525.6L530.8 520.3L531.3 525.7L531.8 520.2L532.3 522.9L532.7 522.3L533.2 516.0L533.7 517.7L534.2 520.8L534.6 520.9L535.1 524.2L535.6 518.7L536.1 520.4L536.5 524.7L537.0 527.1L537.5 522.4L538.0 523.0L538.5 520.0L538.9 525.6L539.4 525.2L539.9 521.4L540.4 522.5L540.8 520.0L541.3 519.5L541.8 525.7L542.3 530.3L542.7 522.9L543.2 525.4L543.7 522.4L544.2 531.8L544.6 523.6L545.1 523.1L545.6 525.2L546.1 521.8L546.6 523.2L547.0 522.8L547.5 519.3L548.0 519.4L548.5 519.7L548.9 522.5L549.4 523.4L549.9 522.0L550.4 522.9L550.8 526.6L551.3 522.7L551.8 520.9L552.3 525.6L552.7 528.2L553.2 522.2L553.7 527.1L554.2 529.9L554.7 525.4L555.1 529.9L555.6 523.3L556.1 526.6L556.6 524.4L557.0 520.4L557.5 520.5L558.0 525.2L558.5 533.7L558.9 526.8L559.4 529.6L559.9 521.5L560.4 518.8L560.8 522.3L561.3 522.6L561.8 522.9L562.3 522.5L562.7 526.9L563.2 521.6L563.7 526.7L564.2 530.4L564.7 525.3L565.1 518.6L565.6 526.4L566.1 533.5L566.6 520.2L567.0 524.7L567.5 523.3L568.0 528.0L568.5 523.7L568.9 518.5L569.4 529.0L569.9 522.8L570.4 524.4L570.8 530.3L571.3 525.3L571.8 523.4L572.3 530.4L572.8 520.6L573.2 531.9L573.7 520.6L574.2 523.3L574.7 525.2L575.1 530.5L575.6 530.6L576.1 538.1L576.6 526.8L577.0 527.4L577.5 523.8L578.0 521.3L578.5 525.8L578.9 528.7L579.4 521.5L579.9 527.0L580.4 527.1L580.9 533.6L581.3 521.1L581.8 531.0L582.3 516.0L582.8 532.2L583.2 530.1L583.7 526.8L584.2 531.5L584.7 536.1L585.1 534.3L585.6 532.5L586.1 528.9L586.6 521.4L587.0 523.4L587.5 525.6L588.0 522.5L588.5 541.6L589.0 531.7L589.4 531.3L589.9 534.6L590.4 524.7L590.9 532.2L591.3 535.3L591.8 521.9L592.3 532.4L592.8 529.7L593.2 538.5L593.7 521.8L594.2 527.8L594.7 517.9L595.1 512.4L595.6 523.4L596.1 530.9L596.6 534.1L597.1 516.2L597.5 529.9L598.0 523.7L598.5 526.6L599.0 554.2L599.4 527.4L599.9 527.3L600.4 527.0L600.9 529.7L601.3 526.8L601.8 536.8L602.3 523.8L602.8 532.9L603.2 527.4L603.7 515.1L604.2 527.0L604.7 537.6L605.2 525.8L605.6 541.3L606.1 527.5L606.6 516.7L607.1 538.3L607.5 530.4L608.0 536.9L608.5 527.6L609.0 526.2L609.4 527.6L609.9 531.8L610.4 547.0L610.9 537.7L611.3 533.5L611.8 521.5L612.3 548.6L612.8 518.8L613.3 536.8L613.7 546.0L614.2 515.0L614.7 526.1L615.2 539.0L615.6 526.9L616.1 523.4L616.6 544.5L617.1 516.2L617.5 538.7L618.0 521.0L618.5 535.8L619.0 546.9L619.4 536.3L619.9 535.5L620.4 528.5L620.9 548.6L621.4 541.3L621.8 526.4L622.3 534.3L622.8 536.1L623.3 524.9L623.7 545.6L624.2 506.5L624.7 539.0L625.2 525.7L625.6 532.2L626.1 518.1L626.6 535.7L627.1 540.0L627.5 527.2L628.0 522.7L628.5 532.3L629.0 504.1L629.5 520.7L629.9 512.5L630.4 513.6L630.9 516.8L631.4 533.0L631.8 508.6L632.3 535.6L632.8 528.7L633.3 511.3L633.7 517.6L634.2 545.9L634.7 535.0L635.2 543.5L635.6 514.1L636.1 536.0L636.6 530.5L637.1 541.0L637.6 538.4L638.0 520.8L638.5 546.2L639.0 530.1L639.5 538.6L639.9 536.7L640.4 551.1L640.9 512.7L641.4 556.8L641.8 550.9L642.3 538.0L642.8 530.1L643.3 543.7L643.7 558.3L644.2 539.3L644.7 548.3L645.2 542.9L645.7 503.9L646.1 567.1L646.6 532.0L647.1 486.5L647.6 486.5L648.0 538.0L648.5 512.4L649.0 535.5L649.5 563.5L649.9 538.7L650.4 525.0L650.9 539.1L651.4 542.8L651.8 528.5L652.3 541.5L652.8 529.4L653.3 519.2L653.8 544.4L654.2 563.4L654.7 505.5L655.2 524.1L655.7 548.0L656.1 561.3L656.6 532.0L657.1 527.9L657.6 521.9L658.0 524.5L658.5 541.8L659.0 541.1L659.5 565.5L659.9 548.6L660.4 543.0L660.9 508.4L661.4 562.1L661.9 489.9L662.3 511.8L662.8 544.4L663.3 546.5L663.8 527.3L664.2 523.3L664.7 515.5L665.2 574.4L665.7 541.0L666.1 520.2L666.6 510.3L667.1 521.4L667.6 534.9L668.0 524.9L668.5 546.1L669.0 488.2L669.5 509.0L670.0 522.3L670.4 547.8L670.9 534.0L671.4 522.7L671.9 530.3L672.3 488.2L672.8 475.7L673.3 505.5L673.8 565.3L674.2 484.4L674.7 484.5L675.2 532.6L675.7 475.9L676.1 583.5L676.6 573.1L677.1 551.8L677.6 509.6L678.0 545.1" stroke="#D42216" stroke-width="1.0" fill="none" stroke-linejoin="round" clip-path="url(#cpj)"/>
<path d="M497.0 515.9L500.0 516.5L503.0 517.1L506.1 517.6L509.1 518.1L512.1 518.6L515.1 519.1L518.1 519.6L521.1 520.1L524.2 520.6L527.2 521.0L530.2 521.4L533.2 521.9L536.2 522.3L539.2 522.7L542.3 523.1L545.3 523.4L548.3 523.8L551.3 524.2L554.3 524.5L557.4 524.9L560.4 525.2L563.4 525.5L566.4 525.8L569.4 526.1L572.4 526.4L575.5 526.7L578.5 527.0L581.5 527.2L584.5 527.5L587.5 527.8L590.5 528.0L593.6 528.3L596.6 528.5L599.6 528.7L602.6 528.9L605.6 529.2L608.6 529.4L611.7 529.6L614.7 529.8L617.7 530.0L620.7 530.2L623.7 530.3L626.8 530.5L629.8 530.7L632.8 530.9L635.8 531.0L638.8 531.2L641.8 531.3L644.9 531.5L647.9 531.6L650.9 531.8L653.9 531.9L656.9 532.1L659.9 532.2L663.0 532.3L666.0 532.5L669.0 532.6L672.0 532.7L675.0 532.8L678.0 532.9" stroke="#D42216" stroke-width="1.1" fill="none" clip-path="url(#cpj)"/>
<path d="M497.0 521.3L497.5 522.8L498.0 525.7L498.4 521.7L498.9 529.3L499.4 527.2L499.9 526.4L500.3 527.7L500.8 528.6L501.3 532.6L501.8 527.7L502.2 533.5L502.7 532.9L503.2 533.5L503.7 534.2L504.1 535.9L504.6 532.4L505.1 536.0L505.6 534.7L506.1 540.5L506.5 536.6L507.0 538.8L507.5 538.1L508.0 539.0L508.4 539.0L508.9 540.6L509.4 540.7L509.9 541.0L510.3 541.3L510.8 542.1L511.3 543.5L511.8 542.1L512.2 545.3L512.7 539.3L513.2 542.3L513.7 541.2L514.2 545.2L514.6 548.2L515.1 549.1L515.6 547.8L516.1 547.7L516.5 547.5L517.0 547.8L517.5 545.8L518.0 553.1L518.4 543.9L518.9 549.0L519.4 548.1L519.9 553.0L520.3 548.4L520.8 552.7L521.3 548.3L521.8 549.0L522.3 549.5L522.7 550.7L523.2 551.2L523.7 551.5L524.2 548.6L524.6 551.0L525.1 550.8L525.6 545.4L526.1 551.6L526.5 554.4L527.0 558.2L527.5 558.9L528.0 552.3L528.4 550.5L528.9 555.9L529.4 556.4L529.9 554.0L530.4 553.2L530.8 551.2L531.3 554.3L531.8 556.0L532.3 552.4L532.7 557.3L533.2 558.9L533.7 558.1L534.2 556.0L534.6 556.5L535.1 555.4L535.6 555.4L536.1 548.6L536.5 554.6L537.0 562.6L537.5 560.6L538.0 555.8L538.5 559.1L538.9 549.8L539.4 558.2L539.9 558.2L540.4 556.7L540.8 558.0L541.3 555.6L541.8 558.4L542.3 556.6L542.7 559.9L543.2 566.8L543.7 556.7L544.2 552.6L544.6 561.7L545.1 560.4L545.6 555.8L546.1 560.6L546.6 558.5L547.0 559.8L547.5 556.9L548.0 559.7L548.5 552.0L548.9 559.3L549.4 560.6L549.9 565.1L550.4 559.5L550.8 563.6L551.3 557.6L551.8 558.0L552.3 550.1L552.7 563.5L553.2 560.0L553.7 556.5L554.2 568.9L554.7 558.3L555.1 553.5L555.6 560.9L556.1 561.3L556.6 556.2L557.0 560.3L557.5 560.3L558.0 558.0L558.5 565.1L558.9 553.5L559.4 563.5L559.9 562.1L560.4 563.9L560.8 573.8L561.3 569.7L561.8 564.1L562.3 562.6L562.7 557.3L563.2 550.4L563.7 559.5L564.2 563.5L564.7 566.2L565.1 556.4L565.6 566.3L566.1 563.5L566.6 556.8L567.0 564.2L567.5 564.3L568.0 563.0L568.5 572.1L568.9 564.5L569.4 563.1L569.9 562.1L570.4 566.1L570.8 575.8L571.3 568.6L571.8 560.3L572.3 568.8L572.8 569.5L573.2 561.7L573.7 561.7L574.2 563.9L574.7 561.4L575.1 560.3L575.6 562.2L576.1 563.1L576.6 554.4L577.0 571.9L577.5 552.0L578.0 563.8L578.5 570.0L578.9 561.3L579.4 559.3L579.9 573.3L580.4 564.7L580.9 560.6L581.3 560.8L581.8 565.8L582.3 573.1L582.8 566.8L583.2 551.9L583.7 572.6L584.2 546.0L584.7 566.8L585.1 567.1L585.6 570.4L586.1 565.6L586.6 565.3L587.0 574.0L587.5 552.4L588.0 558.3L588.5 564.3L589.0 576.6L589.4 569.9L589.9 568.6L590.4 561.3L590.9 568.2L591.3 576.2L591.8 569.0L592.3 569.2L592.8 567.6L593.2 560.9L593.7 573.6L594.2 580.2L594.7 558.4L595.1 560.1L595.6 578.1L596.1 562.0L596.6 572.5L597.1 562.4L597.5 563.8L598.0 580.4L598.5 577.5L599.0 569.8L599.4 580.8L599.9 579.1L600.4 576.5L600.9 570.3L601.3 569.7L601.8 575.9L602.3 571.2L602.8 557.8L603.2 563.6L603.7 565.2L604.2 575.7L604.7 575.7L605.2 581.1L605.6 577.6L606.1 587.4L606.6 570.9L607.1 573.4L607.5 576.5L608.0 576.0L608.5 583.0L609.0 562.2L609.4 563.2L609.9 557.0L610.4 566.2L610.9 571.7L611.3 560.2L611.8 583.7L612.3 585.5L612.8 559.7L613.3 564.6L613.7 567.2L614.2 554.8L614.7 570.7L615.2 567.6L615.6 565.3L616.1 584.5L616.6 565.9L617.1 563.2L617.5 571.3L618.0 579.4L618.5 580.7L619.0 598.3L619.4 581.3L619.9 553.6L620.4 554.9L620.9 572.3L621.4 581.2L621.8 555.6L622.3 556.5L622.8 564.0L623.3 581.1L623.7 560.4L624.2 558.4L624.7 577.6L625.2 582.9L625.6 577.0L626.1 568.2L626.6 565.4L627.1 563.9L627.5 571.4L628.0 579.1L628.5 566.6L629.0 556.3L629.5 569.2L629.9 561.2L630.4 572.9L630.9 583.1L631.4 578.0L631.8 574.6L632.3 596.2L632.8 574.9L633.3 582.0L633.7 568.9L634.2 559.6L634.7 569.9L635.2 578.8L635.6 568.3L636.1 590.3L636.6 563.5L637.1 549.4L637.6 562.6L638.0 546.7L638.5 580.1L639.0 604.4L639.5 562.2L639.9 531.4L640.4 587.8L640.9 543.1L641.4 582.3L641.8 543.4L642.3 584.0L642.8 577.6L643.3 563.9L643.7 603.0L644.2 570.6L644.7 575.3L645.2 554.6L645.7 568.2L646.1 570.4L646.6 575.5L647.1 533.6L647.6 562.4L648.0 569.0L648.5 617.9L649.0 540.6L649.5 572.2L649.9 567.2L650.4 554.5L650.9 567.5L651.4 540.6L651.8 572.5L652.3 560.1L652.8 568.1L653.3 557.6L653.8 565.2L654.2 561.9L654.7 566.4L655.2 567.8L655.7 557.5L656.1 589.3L656.6 591.4L657.1 572.9L657.6 570.2L658.0 541.5L658.5 611.1L659.0 536.1L659.5 587.0L659.9 595.2L660.4 564.6L660.9 564.5L661.4 547.2L661.9 629.3L662.3 542.9L662.8 561.3L663.3 533.7L663.8 579.3L664.2 615.2L664.7 580.7L665.2 579.9L665.7 553.4L666.1 546.5L666.6 634.3L667.1 620.4L667.6 569.9L668.0 595.1L668.5 543.4L669.0 532.3L669.5 506.7L670.0 570.0L670.4 538.4L670.9 552.5L671.4 567.2L671.9 585.9L672.3 537.9L672.8 547.1L673.3 575.7L673.8 579.6L674.2 633.6L674.7 563.0L675.2 569.4L675.7 609.1L676.1 526.6L676.6 572.5L677.1 611.3L677.6 583.6L678.0 614.5" stroke="#20209E" stroke-width="1.0" fill="none" stroke-linejoin="round" clip-path="url(#cpj)"/>
<path d="M497.0 522.4L500.0 528.5L503.0 533.4L506.1 537.3L509.1 540.6L512.1 543.4L515.1 545.7L518.1 547.7L521.1 549.4L524.2 551.0L527.2 552.3L530.2 553.6L533.2 554.7L536.2 555.8L539.2 556.7L542.3 557.7L545.3 558.5L548.3 559.3L551.3 560.1L554.3 560.8L557.4 561.5L560.4 562.2L563.4 562.8L566.4 563.4L569.4 564.0L572.4 564.6L575.5 565.1L578.5 565.6L581.5 566.1L584.5 566.6L587.5 567.1L590.5 567.5L593.6 567.9L596.6 568.3L599.6 568.7L602.6 569.1L605.6 569.5L608.6 569.8L611.7 570.2L614.7 570.5L617.7 570.8L620.7 571.1L623.7 571.4L626.8 571.7L629.8 571.9L632.8 572.2L635.8 572.4L638.8 572.7L641.8 572.9L644.9 573.1L647.9 573.3L650.9 573.6L653.9 573.7L656.9 573.9L659.9 574.1L663.0 574.3L666.0 574.5L669.0 574.6L672.0 574.8L675.0 574.9L678.0 575.1" stroke="#20209E" stroke-width="1.1" fill="none" clip-path="url(#cpj)"/>
<path d="M497.0 543.5L497.5 544.2L498.0 544.6L498.4 547.6L498.9 549.7L499.4 551.8L499.9 550.0L500.3 552.5L500.8 554.4L501.3 556.0L501.8 559.3L502.2 556.7L502.7 559.1L503.2 558.9L503.7 557.6L504.1 561.1L504.6 561.7L505.1 560.9L505.6 563.3L506.1 563.6L506.5 566.2L507.0 566.6L507.5 568.3L508.0 565.0L508.4 565.2L508.9 568.4L509.4 568.4L509.9 569.4L510.3 565.0L510.8 568.2L511.3 570.4L511.8 569.6L512.2 569.0L512.7 573.2L513.2 571.0L513.7 571.4L514.2 572.8L514.6 571.9L515.1 571.6L515.6 573.9L516.1 574.9L516.5 573.1L517.0 574.7L517.5 574.6L518.0 572.2L518.4 575.2L518.9 576.3L519.4 578.8L519.9 576.1L520.3 576.4L520.8 576.2L521.3 576.6L521.8 576.5L522.3 577.6L522.7 578.1L523.2 577.5L523.7 580.1L524.2 580.9L524.6 581.1L525.1 579.3L525.6 583.1L526.1 580.8L526.5 580.5L527.0 579.7L527.5 582.6L528.0 580.6L528.4 580.8L528.9 582.2L529.4 581.2L529.9 581.8L530.4 583.9L530.8 582.5L531.3 583.9L531.8 578.2L532.3 582.9L532.7 583.9L533.2 585.8L533.7 582.9L534.2 582.2L534.6 583.1L535.1 586.4L535.6 585.8L536.1 586.1L536.5 583.4L537.0 585.8L537.5 584.3L538.0 580.1L538.5 588.7L538.9 585.1L539.4 584.7L539.9 588.4L540.4 582.4L540.8 585.7L541.3 584.3L541.8 583.9L542.3 582.0L542.7 587.2L543.2 587.3L543.7 589.1L544.2 589.2L544.6 581.4L545.1 587.4L545.6 590.9L546.1 584.6L546.6 581.9L547.0 589.3L547.5 586.9L548.0 590.7L548.5 592.6L548.9 587.7L549.4 590.6L549.9 590.7L550.4 587.4L550.8 586.4L551.3 588.3L551.8 584.1L552.3 589.8L552.7 589.0L553.2 585.5L553.7 581.4L554.2 582.1L554.7 585.5L555.1 588.1L555.6 592.8L556.1 584.0L556.6 589.1L557.0 581.4L557.5 588.8L558.0 595.5L558.5 585.5L558.9 588.7L559.4 591.2L559.9 588.9L560.4 589.5L560.8 588.6L561.3 595.9L561.8 589.7L562.3 588.3L562.7 594.4L563.2 585.4L563.7 590.7L564.2 597.7L564.7 584.4L565.1 591.8L565.6 590.2L566.1 591.3L566.6 583.2L567.0 590.5L567.5 593.4L568.0 593.3L568.5 588.6L568.9 588.6L569.4 593.7L569.9 587.3L570.4 594.0L570.8 590.6L571.3 589.1L571.8 590.2L572.3 590.3L572.8 590.3L573.2 593.7L573.7 590.7L574.2 590.2L574.7 597.3L575.1 598.2L575.6 590.5L576.1 592.1L576.6 591.3L577.0 588.6L577.5 590.4L578.0 594.8L578.5 589.7L578.9 595.7L579.4 584.1L579.9 587.4L580.4 592.5L580.9 595.8L581.3 590.2L581.8 593.5L582.3 596.6L582.8 590.1L583.2 592.3L583.7 588.4L584.2 593.9L584.7 582.8L585.1 583.8L585.6 601.7L586.1 604.3L586.6 598.4L587.0 584.7L587.5 589.6L588.0 592.6L588.5 591.8L589.0 600.5L589.4 592.4L589.9 599.5L590.4 592.2L590.9 595.7L591.3 596.8L591.8 596.8L592.3 590.2L592.8 582.0L593.2 604.6L593.7 589.4L594.2 596.5L594.7 584.2L595.1 586.8L595.6 599.5L596.1 593.6L596.6 584.7L597.1 583.1L597.5 598.3L598.0 601.2L598.5 592.3L599.0 585.1L599.4 587.8L599.9 592.2L600.4 590.7L600.9 590.7L601.3 594.1L601.8 601.3L602.3 589.4L602.8 591.6L603.2 588.1L603.7 595.0L604.2 598.7L604.7 589.1L605.2 588.2L605.6 580.8L606.1 605.5L606.6 598.6L607.1 597.0L607.5 577.5L608.0 614.0L608.5 587.3L609.0 601.7L609.4 604.0L609.9 588.0L610.4 588.7L610.9 622.9L611.3 606.2L611.8 595.4L612.3 600.0L612.8 585.4L613.3 603.1L613.7 598.0L614.2 616.0L614.7 590.6L615.2 595.4L615.6 588.8L616.1 602.5L616.6 578.0L617.1 602.2L617.5 578.7L618.0 577.8L618.5 605.2L619.0 594.1L619.4 602.7L619.9 614.7L620.4 590.4L620.9 596.0L621.4 582.0L621.8 579.2L622.3 614.8L622.8 599.8L623.3 592.1L623.7 587.0L624.2 594.7L624.7 605.5L625.2 599.4L625.6 589.2L626.1 611.8L626.6 612.7L627.1 612.1L627.5 605.0L628.0 581.4L628.5 602.8L629.0 588.7L629.5 580.4L629.9 582.3L630.4 594.4L630.9 598.9L631.4 598.0L631.8 601.6L632.3 607.0L632.8 591.3L633.3 585.4L633.7 605.4L634.2 609.9L634.7 598.0L635.2 597.5L635.6 586.7L636.1 595.0L636.6 596.3L637.1 619.7L637.6 604.7L638.0 602.8L638.5 607.4L639.0 591.3L639.5 597.8L639.9 609.9L640.4 591.7L640.9 580.5L641.4 561.5L641.8 599.3L642.3 605.7L642.8 584.5L643.3 571.0L643.7 607.2L644.2 587.5L644.7 601.9L645.2 583.3L645.7 610.1L646.1 605.5L646.6 602.9L647.1 601.1L647.6 620.4L648.0 602.9L648.5 613.0L649.0 564.8L649.5 573.7L649.9 609.5L650.4 607.3L650.9 591.9L651.4 608.9L651.8 609.1L652.3 585.7L652.8 577.2L653.3 589.3L653.8 571.0L654.2 597.7L654.7 601.0L655.2 606.9L655.7 607.9L656.1 615.3L656.6 569.3L657.1 580.1L657.6 602.0L658.0 597.5L658.5 618.1L659.0 585.5L659.5 603.1L659.9 602.8L660.4 606.2L660.9 633.0L661.4 612.1L661.9 564.4L662.3 618.8L662.8 620.9L663.3 605.6L663.8 622.0L664.2 623.8L664.7 627.9L665.2 623.4L665.7 600.0L666.1 657.5L666.6 636.0L667.1 634.3L667.6 599.9L668.0 623.8L668.5 590.2L669.0 622.3L669.5 572.2L670.0 647.4L670.4 550.5L670.9 635.0L671.4 610.0L671.9 629.3L672.3 608.1L672.8 558.8L673.3 577.2L673.8 615.6L674.2 586.3L674.7 550.1L675.2 581.4L675.7 609.6L676.1 589.0L676.6 587.0L677.1 654.2L677.6 617.5L678.0 597.7" stroke="#328E26" stroke-width="1.0" fill="none" stroke-linejoin="round" clip-path="url(#cpj)"/>
<path d="M497.0 541.7L500.0 551.2L503.0 558.3L506.1 563.6L509.1 567.7L512.1 571.0L515.1 573.6L518.1 575.8L521.1 577.6L524.2 579.1L527.2 580.5L530.2 581.7L533.2 582.8L536.2 583.8L539.2 584.7L542.3 585.6L545.3 586.4L548.3 587.1L551.3 587.8L554.3 588.5L557.4 589.1L560.4 589.7L563.4 590.2L566.4 590.7L569.4 591.2L572.4 591.7L575.5 592.1L578.5 592.5L581.5 592.9L584.5 593.3L587.5 593.6L590.5 594.0L593.6 594.3L596.6 594.6L599.6 594.8L602.6 595.1L605.6 595.3L608.6 595.6L611.7 595.8L614.7 596.0L617.7 596.2L620.7 596.4L623.7 596.6L626.8 596.8L629.8 596.9L632.8 597.1L635.8 597.2L638.8 597.3L641.8 597.5L644.9 597.6L647.9 597.7L650.9 597.8L653.9 597.9L656.9 598.0L659.9 598.1L663.0 598.2L666.0 598.3L669.0 598.4L672.0 598.4L675.0 598.5L678.0 598.6" stroke="#328E26" stroke-width="1.1" fill="none" clip-path="url(#cpj)"/>
<text x="584.6" y="654.6" font-size="12" text-anchor="middle" font-weight="bold">Time (ns)</text>
<text x="470.6" y="556.8" font-size="11.8" text-anchor="middle" textLength="92.5" lengthAdjust="spacingAndGlyphs" transform="rotate(-90 470.6 556.8)" font-weight="bold" stroke="#fff" stroke-width="0.2">Anisotropy [r(t)]</text>
<text x="503.7" y="493.7" font-size="8.6" textLength="73.7" lengthAdjust="spacingAndGlyphs" font-weight="bold" fill="#D62418">0.1 µM FUS-eGFP</text>
<text x="503.7" y="504.5" font-size="8.6" textLength="65.0" lengthAdjust="spacingAndGlyphs" font-weight="bold" fill="#2222A8">2 µM FUS-eGFP</text>
<text x="503.7" y="515.3" font-size="8.6" textLength="70.0" lengthAdjust="spacingAndGlyphs" font-weight="bold" fill="#38962A">10 µM FUS-eGFP</text>
</svg>
</body></html>
